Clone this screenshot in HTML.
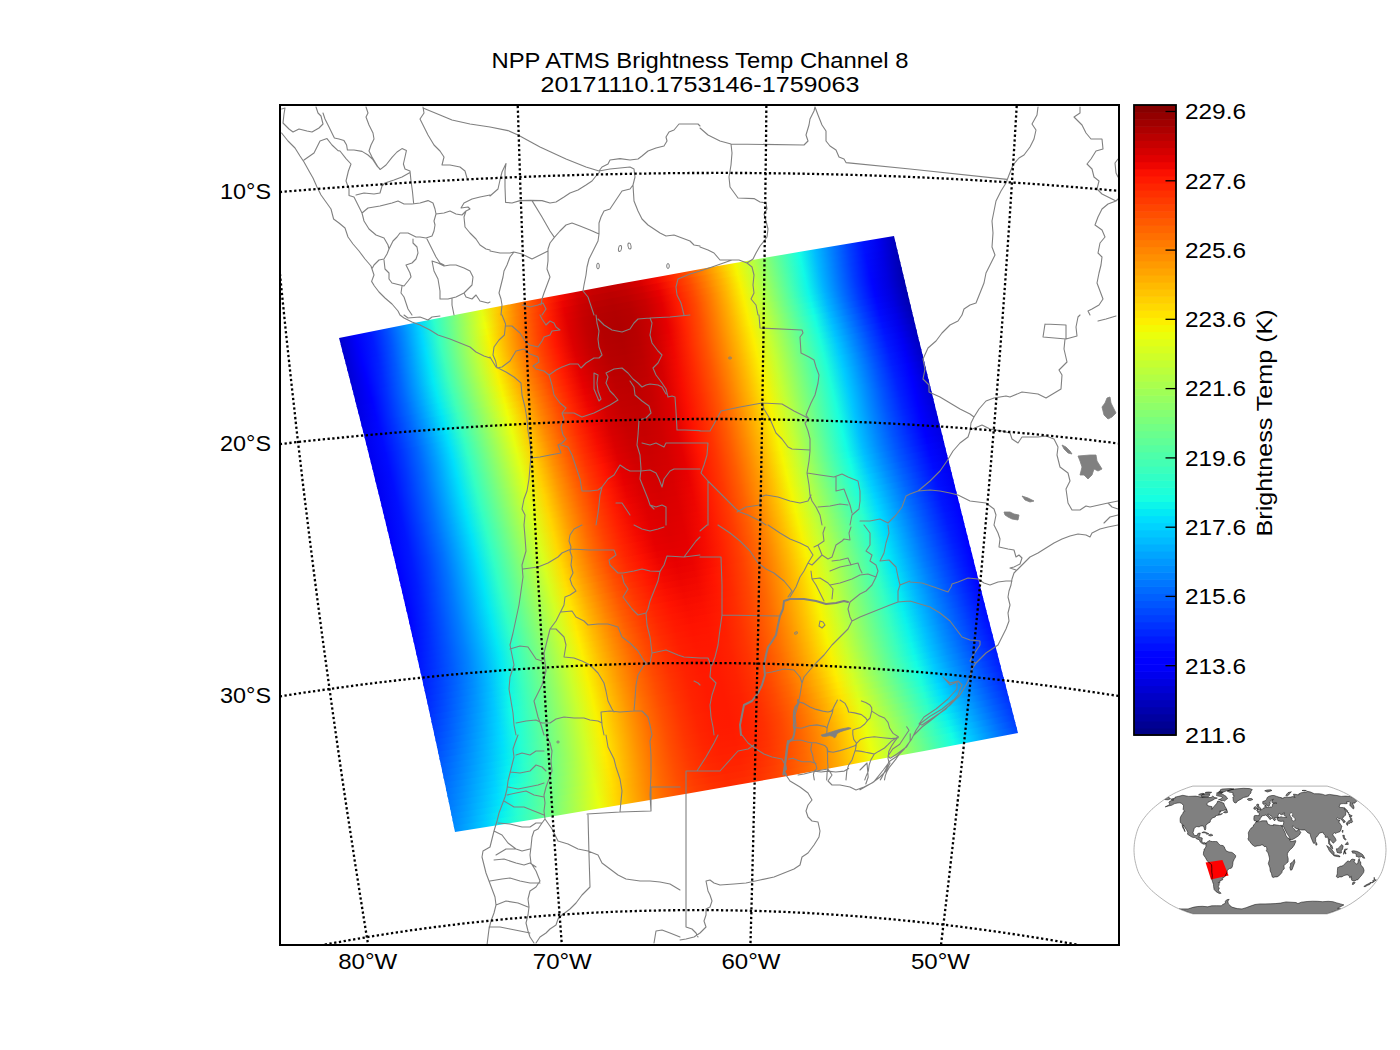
<!DOCTYPE html><html><head><meta charset="utf-8"><style>html,body{margin:0;padding:0;background:#fff;}svg{display:block}</style></head><body><svg width="1400" height="1050" viewBox="0 0 1400 1050"><defs><clipPath id="mc"><rect x="280" y="105" width="839" height="840"/></clipPath><linearGradient id="g0" gradientUnits="userSpaceOnUse" x1="339.8" y1="341.1" x2="894.7" y2="239.1"><stop offset="0.000" stop-color="#0000ce"/><stop offset="0.029" stop-color="#0000fa"/><stop offset="0.057" stop-color="#0018ff"/><stop offset="0.086" stop-color="#004eff"/><stop offset="0.114" stop-color="#008cff"/><stop offset="0.143" stop-color="#00d0ff"/><stop offset="0.171" stop-color="#2bffcc"/><stop offset="0.200" stop-color="#69ff8e"/><stop offset="0.229" stop-color="#a8ff4f"/><stop offset="0.257" stop-color="#e4ff12"/><stop offset="0.286" stop-color="#ffc900"/><stop offset="0.314" stop-color="#ff8d00"/><stop offset="0.343" stop-color="#ff5800"/><stop offset="0.371" stop-color="#ff2b00"/><stop offset="0.400" stop-color="#f20900"/><stop offset="0.429" stop-color="#d70000"/><stop offset="0.457" stop-color="#c70000"/><stop offset="0.486" stop-color="#c20000"/><stop offset="0.514" stop-color="#c80000"/><stop offset="0.543" stop-color="#d80000"/><stop offset="0.571" stop-color="#f30900"/><stop offset="0.600" stop-color="#ff2900"/><stop offset="0.629" stop-color="#ff5300"/><stop offset="0.657" stop-color="#ff8400"/><stop offset="0.686" stop-color="#ffbc00"/><stop offset="0.714" stop-color="#f5f802"/><stop offset="0.743" stop-color="#beff39"/><stop offset="0.771" stop-color="#85ff72"/><stop offset="0.800" stop-color="#4cffab"/><stop offset="0.829" stop-color="#15ffe2"/><stop offset="0.857" stop-color="#00beff"/><stop offset="0.886" stop-color="#0081ff"/><stop offset="0.914" stop-color="#0048ff"/><stop offset="0.943" stop-color="#0013ff"/><stop offset="0.971" stop-color="#0000ef"/><stop offset="1.000" stop-color="#0000bc"/></linearGradient><linearGradient id="g1" gradientUnits="userSpaceOnUse" x1="341.4" y1="347.3" x2="896.2" y2="245.3"><stop offset="0.000" stop-color="#0000cf"/><stop offset="0.029" stop-color="#0000fb"/><stop offset="0.057" stop-color="#0019ff"/><stop offset="0.086" stop-color="#004fff"/><stop offset="0.114" stop-color="#008dff"/><stop offset="0.143" stop-color="#00d3ff"/><stop offset="0.171" stop-color="#2effc9"/><stop offset="0.200" stop-color="#6dff8a"/><stop offset="0.229" stop-color="#acff4b"/><stop offset="0.257" stop-color="#e9ff0e"/><stop offset="0.286" stop-color="#ffc300"/><stop offset="0.314" stop-color="#ff8700"/><stop offset="0.343" stop-color="#ff5200"/><stop offset="0.371" stop-color="#ff2600"/><stop offset="0.400" stop-color="#ec0300"/><stop offset="0.429" stop-color="#d00000"/><stop offset="0.457" stop-color="#c10000"/><stop offset="0.486" stop-color="#bc0000"/><stop offset="0.514" stop-color="#c10000"/><stop offset="0.543" stop-color="#d10000"/><stop offset="0.571" stop-color="#ed0400"/><stop offset="0.600" stop-color="#ff2400"/><stop offset="0.629" stop-color="#ff4e00"/><stop offset="0.657" stop-color="#ff8000"/><stop offset="0.686" stop-color="#ffb900"/><stop offset="0.714" stop-color="#f7f600"/><stop offset="0.743" stop-color="#bfff38"/><stop offset="0.771" stop-color="#85ff72"/><stop offset="0.800" stop-color="#4bffac"/><stop offset="0.829" stop-color="#13fde4"/><stop offset="0.857" stop-color="#00bbff"/><stop offset="0.886" stop-color="#007eff"/><stop offset="0.914" stop-color="#0044ff"/><stop offset="0.943" stop-color="#0010ff"/><stop offset="0.971" stop-color="#0000ec"/><stop offset="1.000" stop-color="#0000b9"/></linearGradient><linearGradient id="g2" gradientUnits="userSpaceOnUse" x1="343.0" y1="353.4" x2="897.7" y2="251.5"><stop offset="0.000" stop-color="#0000cf"/><stop offset="0.029" stop-color="#0000fc"/><stop offset="0.057" stop-color="#001bff"/><stop offset="0.086" stop-color="#0051ff"/><stop offset="0.114" stop-color="#0090ff"/><stop offset="0.143" stop-color="#00d7ff"/><stop offset="0.171" stop-color="#31ffc5"/><stop offset="0.200" stop-color="#71ff86"/><stop offset="0.229" stop-color="#b1ff46"/><stop offset="0.257" stop-color="#eeff09"/><stop offset="0.286" stop-color="#ffbe00"/><stop offset="0.314" stop-color="#ff8200"/><stop offset="0.343" stop-color="#ff4d00"/><stop offset="0.371" stop-color="#ff2100"/><stop offset="0.400" stop-color="#e70000"/><stop offset="0.429" stop-color="#cb0000"/><stop offset="0.457" stop-color="#bc0000"/><stop offset="0.486" stop-color="#b70000"/><stop offset="0.514" stop-color="#bd0000"/><stop offset="0.543" stop-color="#cd0000"/><stop offset="0.571" stop-color="#e80000"/><stop offset="0.600" stop-color="#ff2100"/><stop offset="0.629" stop-color="#ff4b00"/><stop offset="0.657" stop-color="#ff7e00"/><stop offset="0.686" stop-color="#ffb600"/><stop offset="0.714" stop-color="#f8f400"/><stop offset="0.743" stop-color="#bfff37"/><stop offset="0.771" stop-color="#85ff72"/><stop offset="0.800" stop-color="#4affac"/><stop offset="0.829" stop-color="#12fbe5"/><stop offset="0.857" stop-color="#00b9ff"/><stop offset="0.886" stop-color="#007bff"/><stop offset="0.914" stop-color="#0041ff"/><stop offset="0.943" stop-color="#000dff"/><stop offset="0.971" stop-color="#0000e8"/><stop offset="1.000" stop-color="#0000b6"/></linearGradient><linearGradient id="g3" gradientUnits="userSpaceOnUse" x1="344.7" y1="359.6" x2="899.2" y2="257.7"><stop offset="0.000" stop-color="#0000d0"/><stop offset="0.029" stop-color="#0000fe"/><stop offset="0.057" stop-color="#001dff"/><stop offset="0.086" stop-color="#0054ff"/><stop offset="0.114" stop-color="#0093ff"/><stop offset="0.143" stop-color="#00daff"/><stop offset="0.171" stop-color="#35ffc2"/><stop offset="0.200" stop-color="#75ff82"/><stop offset="0.229" stop-color="#b5ff42"/><stop offset="0.257" stop-color="#f2fb05"/><stop offset="0.286" stop-color="#ffb900"/><stop offset="0.314" stop-color="#ff7e00"/><stop offset="0.343" stop-color="#ff4900"/><stop offset="0.371" stop-color="#ff1d00"/><stop offset="0.400" stop-color="#e30000"/><stop offset="0.429" stop-color="#c80000"/><stop offset="0.457" stop-color="#b80000"/><stop offset="0.486" stop-color="#b40000"/><stop offset="0.514" stop-color="#b90000"/><stop offset="0.543" stop-color="#c90000"/><stop offset="0.571" stop-color="#e50000"/><stop offset="0.600" stop-color="#ff1e00"/><stop offset="0.629" stop-color="#ff4900"/><stop offset="0.657" stop-color="#ff7c00"/><stop offset="0.686" stop-color="#ffb500"/><stop offset="0.714" stop-color="#f9f300"/><stop offset="0.743" stop-color="#c0ff37"/><stop offset="0.771" stop-color="#85ff72"/><stop offset="0.800" stop-color="#4affad"/><stop offset="0.829" stop-color="#10fae7"/><stop offset="0.857" stop-color="#00b6ff"/><stop offset="0.886" stop-color="#0078ff"/><stop offset="0.914" stop-color="#003eff"/><stop offset="0.943" stop-color="#000aff"/><stop offset="0.971" stop-color="#0000e5"/><stop offset="1.000" stop-color="#0000b3"/></linearGradient><linearGradient id="g4" gradientUnits="userSpaceOnUse" x1="346.3" y1="365.8" x2="900.7" y2="264.0"><stop offset="0.000" stop-color="#0000d1"/><stop offset="0.029" stop-color="#0000ff"/><stop offset="0.057" stop-color="#0020ff"/><stop offset="0.086" stop-color="#0057ff"/><stop offset="0.114" stop-color="#0096ff"/><stop offset="0.143" stop-color="#00defd"/><stop offset="0.171" stop-color="#38ffbf"/><stop offset="0.200" stop-color="#78ff7e"/><stop offset="0.229" stop-color="#b8ff3e"/><stop offset="0.257" stop-color="#f6f701"/><stop offset="0.286" stop-color="#ffb500"/><stop offset="0.314" stop-color="#ff7a00"/><stop offset="0.343" stop-color="#ff4600"/><stop offset="0.371" stop-color="#ff1a00"/><stop offset="0.400" stop-color="#e00000"/><stop offset="0.429" stop-color="#c50000"/><stop offset="0.457" stop-color="#b60000"/><stop offset="0.486" stop-color="#b20000"/><stop offset="0.514" stop-color="#b70000"/><stop offset="0.543" stop-color="#c80000"/><stop offset="0.571" stop-color="#e30000"/><stop offset="0.600" stop-color="#ff1d00"/><stop offset="0.629" stop-color="#ff4800"/><stop offset="0.657" stop-color="#ff7b00"/><stop offset="0.686" stop-color="#ffb400"/><stop offset="0.714" stop-color="#faf200"/><stop offset="0.743" stop-color="#c1ff36"/><stop offset="0.771" stop-color="#85ff71"/><stop offset="0.800" stop-color="#49ffae"/><stop offset="0.829" stop-color="#0ff8e8"/><stop offset="0.857" stop-color="#00b4ff"/><stop offset="0.886" stop-color="#0076ff"/><stop offset="0.914" stop-color="#003cff"/><stop offset="0.943" stop-color="#0008ff"/><stop offset="0.971" stop-color="#0000e3"/><stop offset="1.000" stop-color="#0000b1"/></linearGradient><linearGradient id="g5" gradientUnits="userSpaceOnUse" x1="347.9" y1="372.0" x2="902.1" y2="270.2"><stop offset="0.000" stop-color="#0000d3"/><stop offset="0.029" stop-color="#0000ff"/><stop offset="0.057" stop-color="#0023ff"/><stop offset="0.086" stop-color="#005aff"/><stop offset="0.114" stop-color="#009aff"/><stop offset="0.143" stop-color="#00e1fa"/><stop offset="0.171" stop-color="#3bffbc"/><stop offset="0.200" stop-color="#7bff7c"/><stop offset="0.229" stop-color="#bbff3c"/><stop offset="0.257" stop-color="#f8f400"/><stop offset="0.286" stop-color="#ffb200"/><stop offset="0.314" stop-color="#ff7700"/><stop offset="0.343" stop-color="#ff4300"/><stop offset="0.371" stop-color="#ff1800"/><stop offset="0.400" stop-color="#de0000"/><stop offset="0.429" stop-color="#c40000"/><stop offset="0.457" stop-color="#b50000"/><stop offset="0.486" stop-color="#b10000"/><stop offset="0.514" stop-color="#b60000"/><stop offset="0.543" stop-color="#c70000"/><stop offset="0.571" stop-color="#e40000"/><stop offset="0.600" stop-color="#ff1e00"/><stop offset="0.629" stop-color="#ff4800"/><stop offset="0.657" stop-color="#ff7b00"/><stop offset="0.686" stop-color="#ffb400"/><stop offset="0.714" stop-color="#faf100"/><stop offset="0.743" stop-color="#c1ff35"/><stop offset="0.771" stop-color="#86ff71"/><stop offset="0.800" stop-color="#49ffae"/><stop offset="0.829" stop-color="#0ef7e9"/><stop offset="0.857" stop-color="#00b3ff"/><stop offset="0.886" stop-color="#0074ff"/><stop offset="0.914" stop-color="#003aff"/><stop offset="0.943" stop-color="#0006ff"/><stop offset="0.971" stop-color="#0000e1"/><stop offset="1.000" stop-color="#0000af"/></linearGradient><linearGradient id="g6" gradientUnits="userSpaceOnUse" x1="349.5" y1="378.1" x2="903.6" y2="276.4"><stop offset="0.000" stop-color="#0000d5"/><stop offset="0.029" stop-color="#0000ff"/><stop offset="0.057" stop-color="#0026ff"/><stop offset="0.086" stop-color="#005dff"/><stop offset="0.114" stop-color="#009dff"/><stop offset="0.143" stop-color="#00e4f8"/><stop offset="0.171" stop-color="#3dffba"/><stop offset="0.200" stop-color="#7dff7a"/><stop offset="0.229" stop-color="#bdff3a"/><stop offset="0.257" stop-color="#faf200"/><stop offset="0.286" stop-color="#ffb000"/><stop offset="0.314" stop-color="#ff7500"/><stop offset="0.343" stop-color="#ff4100"/><stop offset="0.371" stop-color="#ff1700"/><stop offset="0.400" stop-color="#dd0000"/><stop offset="0.429" stop-color="#c30000"/><stop offset="0.457" stop-color="#b40000"/><stop offset="0.486" stop-color="#b00000"/><stop offset="0.514" stop-color="#b70000"/><stop offset="0.543" stop-color="#c80000"/><stop offset="0.571" stop-color="#e50000"/><stop offset="0.600" stop-color="#ff1f00"/><stop offset="0.629" stop-color="#ff4a00"/><stop offset="0.657" stop-color="#ff7c00"/><stop offset="0.686" stop-color="#ffb400"/><stop offset="0.714" stop-color="#fbf100"/><stop offset="0.743" stop-color="#c2ff35"/><stop offset="0.771" stop-color="#86ff70"/><stop offset="0.800" stop-color="#49ffad"/><stop offset="0.829" stop-color="#0ef7e9"/><stop offset="0.857" stop-color="#00b2ff"/><stop offset="0.886" stop-color="#0073ff"/><stop offset="0.914" stop-color="#0039ff"/><stop offset="0.943" stop-color="#0004ff"/><stop offset="0.971" stop-color="#0000df"/><stop offset="1.000" stop-color="#0000ad"/></linearGradient><linearGradient id="g7" gradientUnits="userSpaceOnUse" x1="351.1" y1="384.3" x2="905.1" y2="282.6"><stop offset="0.000" stop-color="#0000d8"/><stop offset="0.029" stop-color="#0000ff"/><stop offset="0.057" stop-color="#0029ff"/><stop offset="0.086" stop-color="#0060ff"/><stop offset="0.114" stop-color="#00a0ff"/><stop offset="0.143" stop-color="#01e6f6"/><stop offset="0.171" stop-color="#3effb8"/><stop offset="0.200" stop-color="#7eff79"/><stop offset="0.229" stop-color="#beff39"/><stop offset="0.257" stop-color="#fbf100"/><stop offset="0.286" stop-color="#ffaf00"/><stop offset="0.314" stop-color="#ff7400"/><stop offset="0.343" stop-color="#ff4100"/><stop offset="0.371" stop-color="#ff1600"/><stop offset="0.400" stop-color="#dd0000"/><stop offset="0.429" stop-color="#c30000"/><stop offset="0.457" stop-color="#b40000"/><stop offset="0.486" stop-color="#b10000"/><stop offset="0.514" stop-color="#b70000"/><stop offset="0.543" stop-color="#c90000"/><stop offset="0.571" stop-color="#e60000"/><stop offset="0.600" stop-color="#ff2100"/><stop offset="0.629" stop-color="#ff4b00"/><stop offset="0.657" stop-color="#ff7d00"/><stop offset="0.686" stop-color="#ffb500"/><stop offset="0.714" stop-color="#fbf100"/><stop offset="0.743" stop-color="#c3ff34"/><stop offset="0.771" stop-color="#88ff6f"/><stop offset="0.800" stop-color="#4bffac"/><stop offset="0.829" stop-color="#0ff8e8"/><stop offset="0.857" stop-color="#00b3ff"/><stop offset="0.886" stop-color="#0073ff"/><stop offset="0.914" stop-color="#0039ff"/><stop offset="0.943" stop-color="#0004ff"/><stop offset="0.971" stop-color="#0000de"/><stop offset="1.000" stop-color="#0000ad"/></linearGradient><linearGradient id="g8" gradientUnits="userSpaceOnUse" x1="352.7" y1="390.5" x2="906.6" y2="288.8"><stop offset="0.000" stop-color="#0000da"/><stop offset="0.029" stop-color="#0000ff"/><stop offset="0.057" stop-color="#002bff"/><stop offset="0.086" stop-color="#0063ff"/><stop offset="0.114" stop-color="#00a2ff"/><stop offset="0.143" stop-color="#02e8f5"/><stop offset="0.171" stop-color="#3fffb7"/><stop offset="0.200" stop-color="#7fff78"/><stop offset="0.229" stop-color="#beff39"/><stop offset="0.257" stop-color="#fbf000"/><stop offset="0.286" stop-color="#ffaf00"/><stop offset="0.314" stop-color="#ff7400"/><stop offset="0.343" stop-color="#ff4100"/><stop offset="0.371" stop-color="#ff1700"/><stop offset="0.400" stop-color="#dd0000"/><stop offset="0.429" stop-color="#c30000"/><stop offset="0.457" stop-color="#b50000"/><stop offset="0.486" stop-color="#b10000"/><stop offset="0.514" stop-color="#b80000"/><stop offset="0.543" stop-color="#ca0000"/><stop offset="0.571" stop-color="#e80000"/><stop offset="0.600" stop-color="#ff2200"/><stop offset="0.629" stop-color="#ff4d00"/><stop offset="0.657" stop-color="#ff7f00"/><stop offset="0.686" stop-color="#ffb500"/><stop offset="0.714" stop-color="#fbf100"/><stop offset="0.743" stop-color="#c4ff33"/><stop offset="0.771" stop-color="#89ff6e"/><stop offset="0.800" stop-color="#4dffaa"/><stop offset="0.829" stop-color="#11fae6"/><stop offset="0.857" stop-color="#00b5ff"/><stop offset="0.886" stop-color="#0074ff"/><stop offset="0.914" stop-color="#0039ff"/><stop offset="0.943" stop-color="#0004ff"/><stop offset="0.971" stop-color="#0000df"/><stop offset="1.000" stop-color="#0000ad"/></linearGradient><linearGradient id="g9" gradientUnits="userSpaceOnUse" x1="354.2" y1="396.7" x2="908.1" y2="295.0"><stop offset="0.000" stop-color="#0000dd"/><stop offset="0.029" stop-color="#0000ff"/><stop offset="0.057" stop-color="#002eff"/><stop offset="0.086" stop-color="#0065ff"/><stop offset="0.114" stop-color="#00a4ff"/><stop offset="0.143" stop-color="#03eaf4"/><stop offset="0.171" stop-color="#40ffb7"/><stop offset="0.200" stop-color="#7fff78"/><stop offset="0.229" stop-color="#beff39"/><stop offset="0.257" stop-color="#fbf100"/><stop offset="0.286" stop-color="#ffb000"/><stop offset="0.314" stop-color="#ff7500"/><stop offset="0.343" stop-color="#ff4200"/><stop offset="0.371" stop-color="#ff1800"/><stop offset="0.400" stop-color="#de0000"/><stop offset="0.429" stop-color="#c40000"/><stop offset="0.457" stop-color="#b60000"/><stop offset="0.486" stop-color="#b20000"/><stop offset="0.514" stop-color="#b90000"/><stop offset="0.543" stop-color="#cc0000"/><stop offset="0.571" stop-color="#ea0200"/><stop offset="0.600" stop-color="#ff2400"/><stop offset="0.629" stop-color="#ff4f00"/><stop offset="0.657" stop-color="#ff8000"/><stop offset="0.686" stop-color="#ffb600"/><stop offset="0.714" stop-color="#fbf100"/><stop offset="0.743" stop-color="#c5ff32"/><stop offset="0.771" stop-color="#8bff6c"/><stop offset="0.800" stop-color="#4fffa8"/><stop offset="0.829" stop-color="#13fde4"/><stop offset="0.857" stop-color="#00b7ff"/><stop offset="0.886" stop-color="#0076ff"/><stop offset="0.914" stop-color="#003bff"/><stop offset="0.943" stop-color="#0006ff"/><stop offset="0.971" stop-color="#0000e0"/><stop offset="1.000" stop-color="#0000ae"/></linearGradient><linearGradient id="g10" gradientUnits="userSpaceOnUse" x1="355.8" y1="402.8" x2="909.6" y2="301.2"><stop offset="0.000" stop-color="#0000df"/><stop offset="0.029" stop-color="#0000ff"/><stop offset="0.057" stop-color="#0030ff"/><stop offset="0.086" stop-color="#0067ff"/><stop offset="0.114" stop-color="#00a5ff"/><stop offset="0.143" stop-color="#04eaf3"/><stop offset="0.171" stop-color="#40ffb7"/><stop offset="0.200" stop-color="#7fff78"/><stop offset="0.229" stop-color="#bdff39"/><stop offset="0.257" stop-color="#faf200"/><stop offset="0.286" stop-color="#ffb100"/><stop offset="0.314" stop-color="#ff7600"/><stop offset="0.343" stop-color="#ff4300"/><stop offset="0.371" stop-color="#ff1900"/><stop offset="0.400" stop-color="#e00000"/><stop offset="0.429" stop-color="#c50000"/><stop offset="0.457" stop-color="#b70000"/><stop offset="0.486" stop-color="#b30000"/><stop offset="0.514" stop-color="#bb0000"/><stop offset="0.543" stop-color="#ce0000"/><stop offset="0.571" stop-color="#ed0400"/><stop offset="0.600" stop-color="#ff2600"/><stop offset="0.629" stop-color="#ff5100"/><stop offset="0.657" stop-color="#ff8100"/><stop offset="0.686" stop-color="#ffb700"/><stop offset="0.714" stop-color="#fbf000"/><stop offset="0.743" stop-color="#c6ff31"/><stop offset="0.771" stop-color="#8cff6a"/><stop offset="0.800" stop-color="#51ffa6"/><stop offset="0.829" stop-color="#16ffe1"/><stop offset="0.857" stop-color="#00baff"/><stop offset="0.886" stop-color="#0079ff"/><stop offset="0.914" stop-color="#003eff"/><stop offset="0.943" stop-color="#0008ff"/><stop offset="0.971" stop-color="#0000e2"/><stop offset="1.000" stop-color="#0000af"/></linearGradient><linearGradient id="g11" gradientUnits="userSpaceOnUse" x1="357.4" y1="409.0" x2="911.1" y2="307.4"><stop offset="0.000" stop-color="#0000e2"/><stop offset="0.029" stop-color="#0002ff"/><stop offset="0.057" stop-color="#0031ff"/><stop offset="0.086" stop-color="#0068ff"/><stop offset="0.114" stop-color="#00a6ff"/><stop offset="0.143" stop-color="#04eaf3"/><stop offset="0.171" stop-color="#40ffb7"/><stop offset="0.200" stop-color="#7eff79"/><stop offset="0.229" stop-color="#bcff3a"/><stop offset="0.257" stop-color="#f9f300"/><stop offset="0.286" stop-color="#ffb200"/><stop offset="0.314" stop-color="#ff7700"/><stop offset="0.343" stop-color="#ff4400"/><stop offset="0.371" stop-color="#ff1b00"/><stop offset="0.400" stop-color="#e10000"/><stop offset="0.429" stop-color="#c70000"/><stop offset="0.457" stop-color="#b80000"/><stop offset="0.486" stop-color="#b50000"/><stop offset="0.514" stop-color="#bc0000"/><stop offset="0.543" stop-color="#d00000"/><stop offset="0.571" stop-color="#ef0600"/><stop offset="0.600" stop-color="#ff2800"/><stop offset="0.629" stop-color="#ff5200"/><stop offset="0.657" stop-color="#ff8200"/><stop offset="0.686" stop-color="#ffb700"/><stop offset="0.714" stop-color="#fbf000"/><stop offset="0.743" stop-color="#c6ff30"/><stop offset="0.771" stop-color="#8eff69"/><stop offset="0.800" stop-color="#53ffa4"/><stop offset="0.829" stop-color="#18ffdf"/><stop offset="0.857" stop-color="#00bdff"/><stop offset="0.886" stop-color="#007dff"/><stop offset="0.914" stop-color="#0041ff"/><stop offset="0.943" stop-color="#000bff"/><stop offset="0.971" stop-color="#0000e5"/><stop offset="1.000" stop-color="#0000b2"/></linearGradient><linearGradient id="g12" gradientUnits="userSpaceOnUse" x1="359.0" y1="415.2" x2="912.6" y2="313.7"><stop offset="0.000" stop-color="#0000e4"/><stop offset="0.029" stop-color="#0004ff"/><stop offset="0.057" stop-color="#0033ff"/><stop offset="0.086" stop-color="#0068ff"/><stop offset="0.114" stop-color="#00a6ff"/><stop offset="0.143" stop-color="#04eaf3"/><stop offset="0.171" stop-color="#3fffb8"/><stop offset="0.200" stop-color="#7dff7a"/><stop offset="0.229" stop-color="#bbff3c"/><stop offset="0.257" stop-color="#f7f500"/><stop offset="0.286" stop-color="#ffb400"/><stop offset="0.314" stop-color="#ff7900"/><stop offset="0.343" stop-color="#ff4600"/><stop offset="0.371" stop-color="#ff1c00"/><stop offset="0.400" stop-color="#e30000"/><stop offset="0.429" stop-color="#c80000"/><stop offset="0.457" stop-color="#ba0000"/><stop offset="0.486" stop-color="#b60000"/><stop offset="0.514" stop-color="#be0000"/><stop offset="0.543" stop-color="#d20000"/><stop offset="0.571" stop-color="#f00700"/><stop offset="0.600" stop-color="#ff2900"/><stop offset="0.629" stop-color="#ff5300"/><stop offset="0.657" stop-color="#ff8300"/><stop offset="0.686" stop-color="#ffb700"/><stop offset="0.714" stop-color="#fcf000"/><stop offset="0.743" stop-color="#c7ff30"/><stop offset="0.771" stop-color="#8fff68"/><stop offset="0.800" stop-color="#55ffa2"/><stop offset="0.829" stop-color="#1affdd"/><stop offset="0.857" stop-color="#00c0ff"/><stop offset="0.886" stop-color="#0080ff"/><stop offset="0.914" stop-color="#0044ff"/><stop offset="0.943" stop-color="#000eff"/><stop offset="0.971" stop-color="#0000e8"/><stop offset="1.000" stop-color="#0000b4"/></linearGradient><linearGradient id="g13" gradientUnits="userSpaceOnUse" x1="360.5" y1="421.4" x2="914.1" y2="319.9"><stop offset="0.000" stop-color="#0000e7"/><stop offset="0.029" stop-color="#0005ff"/><stop offset="0.057" stop-color="#0034ff"/><stop offset="0.086" stop-color="#0069ff"/><stop offset="0.114" stop-color="#00a5ff"/><stop offset="0.143" stop-color="#03e9f4"/><stop offset="0.171" stop-color="#3effb9"/><stop offset="0.200" stop-color="#7cff7b"/><stop offset="0.229" stop-color="#b9ff3d"/><stop offset="0.257" stop-color="#f5f701"/><stop offset="0.286" stop-color="#ffb600"/><stop offset="0.314" stop-color="#ff7b00"/><stop offset="0.343" stop-color="#ff4800"/><stop offset="0.371" stop-color="#ff1e00"/><stop offset="0.400" stop-color="#e50000"/><stop offset="0.429" stop-color="#ca0000"/><stop offset="0.457" stop-color="#bb0000"/><stop offset="0.486" stop-color="#b80000"/><stop offset="0.514" stop-color="#c00000"/><stop offset="0.543" stop-color="#d30000"/><stop offset="0.571" stop-color="#f20900"/><stop offset="0.600" stop-color="#ff2a00"/><stop offset="0.629" stop-color="#ff5400"/><stop offset="0.657" stop-color="#ff8300"/><stop offset="0.686" stop-color="#ffb800"/><stop offset="0.714" stop-color="#fcf000"/><stop offset="0.743" stop-color="#c7ff30"/><stop offset="0.771" stop-color="#90ff67"/><stop offset="0.800" stop-color="#56ffa1"/><stop offset="0.829" stop-color="#1cffdb"/><stop offset="0.857" stop-color="#00c3ff"/><stop offset="0.886" stop-color="#0083ff"/><stop offset="0.914" stop-color="#0048ff"/><stop offset="0.943" stop-color="#0011ff"/><stop offset="0.971" stop-color="#0000eb"/><stop offset="1.000" stop-color="#0000b7"/></linearGradient><linearGradient id="g14" gradientUnits="userSpaceOnUse" x1="362.1" y1="427.5" x2="915.6" y2="326.1"><stop offset="0.000" stop-color="#0000e9"/><stop offset="0.029" stop-color="#0007ff"/><stop offset="0.057" stop-color="#0034ff"/><stop offset="0.086" stop-color="#0068ff"/><stop offset="0.114" stop-color="#00a5ff"/><stop offset="0.143" stop-color="#02e8f5"/><stop offset="0.171" stop-color="#3dffba"/><stop offset="0.200" stop-color="#7aff7d"/><stop offset="0.229" stop-color="#b8ff3f"/><stop offset="0.257" stop-color="#f4f903"/><stop offset="0.286" stop-color="#ffb800"/><stop offset="0.314" stop-color="#ff7e00"/><stop offset="0.343" stop-color="#ff4a00"/><stop offset="0.371" stop-color="#ff2000"/><stop offset="0.400" stop-color="#e70000"/><stop offset="0.429" stop-color="#cc0000"/><stop offset="0.457" stop-color="#bd0000"/><stop offset="0.486" stop-color="#b90000"/><stop offset="0.514" stop-color="#c10000"/><stop offset="0.543" stop-color="#d50000"/><stop offset="0.571" stop-color="#f40a00"/><stop offset="0.600" stop-color="#ff2b00"/><stop offset="0.629" stop-color="#ff5400"/><stop offset="0.657" stop-color="#ff8400"/><stop offset="0.686" stop-color="#ffb800"/><stop offset="0.714" stop-color="#fbf000"/><stop offset="0.743" stop-color="#c7ff30"/><stop offset="0.771" stop-color="#90ff67"/><stop offset="0.800" stop-color="#57ffa0"/><stop offset="0.829" stop-color="#1effd9"/><stop offset="0.857" stop-color="#00c6ff"/><stop offset="0.886" stop-color="#0086ff"/><stop offset="0.914" stop-color="#004bff"/><stop offset="0.943" stop-color="#0014ff"/><stop offset="0.971" stop-color="#0000ee"/><stop offset="1.000" stop-color="#0000ba"/></linearGradient><linearGradient id="g15" gradientUnits="userSpaceOnUse" x1="363.7" y1="433.7" x2="917.1" y2="332.3"><stop offset="0.000" stop-color="#0000eb"/><stop offset="0.029" stop-color="#0008ff"/><stop offset="0.057" stop-color="#0034ff"/><stop offset="0.086" stop-color="#0068ff"/><stop offset="0.114" stop-color="#00a3ff"/><stop offset="0.143" stop-color="#01e6f6"/><stop offset="0.171" stop-color="#3bffbc"/><stop offset="0.200" stop-color="#78ff7e"/><stop offset="0.229" stop-color="#b6ff41"/><stop offset="0.257" stop-color="#f2fb05"/><stop offset="0.286" stop-color="#ffbb00"/><stop offset="0.314" stop-color="#ff8000"/><stop offset="0.343" stop-color="#ff4d00"/><stop offset="0.371" stop-color="#ff2200"/><stop offset="0.400" stop-color="#e90100"/><stop offset="0.429" stop-color="#ce0000"/><stop offset="0.457" stop-color="#be0000"/><stop offset="0.486" stop-color="#bb0000"/><stop offset="0.514" stop-color="#c30000"/><stop offset="0.543" stop-color="#d70000"/><stop offset="0.571" stop-color="#f50b00"/><stop offset="0.600" stop-color="#ff2c00"/><stop offset="0.629" stop-color="#ff5500"/><stop offset="0.657" stop-color="#ff8400"/><stop offset="0.686" stop-color="#ffb800"/><stop offset="0.714" stop-color="#fbf000"/><stop offset="0.743" stop-color="#c7ff30"/><stop offset="0.771" stop-color="#90ff67"/><stop offset="0.800" stop-color="#57ff9f"/><stop offset="0.829" stop-color="#1fffd8"/><stop offset="0.857" stop-color="#00c8ff"/><stop offset="0.886" stop-color="#0088ff"/><stop offset="0.914" stop-color="#004dff"/><stop offset="0.943" stop-color="#0017ff"/><stop offset="0.971" stop-color="#0000f1"/><stop offset="1.000" stop-color="#0000bd"/></linearGradient><linearGradient id="g16" gradientUnits="userSpaceOnUse" x1="365.2" y1="439.9" x2="918.6" y2="338.5"><stop offset="0.000" stop-color="#0000ed"/><stop offset="0.029" stop-color="#0009ff"/><stop offset="0.057" stop-color="#0034ff"/><stop offset="0.086" stop-color="#0067ff"/><stop offset="0.114" stop-color="#00a2ff"/><stop offset="0.143" stop-color="#00e5f7"/><stop offset="0.171" stop-color="#3affbd"/><stop offset="0.200" stop-color="#77ff80"/><stop offset="0.229" stop-color="#b4ff43"/><stop offset="0.257" stop-color="#f0fe07"/><stop offset="0.286" stop-color="#ffbd00"/><stop offset="0.314" stop-color="#ff8200"/><stop offset="0.343" stop-color="#ff4f00"/><stop offset="0.371" stop-color="#ff2400"/><stop offset="0.400" stop-color="#eb0300"/><stop offset="0.429" stop-color="#cf0000"/><stop offset="0.457" stop-color="#c00000"/><stop offset="0.486" stop-color="#bc0000"/><stop offset="0.514" stop-color="#c50000"/><stop offset="0.543" stop-color="#d80000"/><stop offset="0.571" stop-color="#f70c00"/><stop offset="0.600" stop-color="#ff2d00"/><stop offset="0.629" stop-color="#ff5600"/><stop offset="0.657" stop-color="#ff8400"/><stop offset="0.686" stop-color="#ffb800"/><stop offset="0.714" stop-color="#fbf100"/><stop offset="0.743" stop-color="#c7ff30"/><stop offset="0.771" stop-color="#90ff67"/><stop offset="0.800" stop-color="#58ff9f"/><stop offset="0.829" stop-color="#20ffd7"/><stop offset="0.857" stop-color="#00c9ff"/><stop offset="0.886" stop-color="#008aff"/><stop offset="0.914" stop-color="#004fff"/><stop offset="0.943" stop-color="#0019ff"/><stop offset="0.971" stop-color="#0000f4"/><stop offset="1.000" stop-color="#0000bf"/></linearGradient><linearGradient id="g17" gradientUnits="userSpaceOnUse" x1="366.8" y1="446.1" x2="920.1" y2="344.7"><stop offset="0.000" stop-color="#0000ef"/><stop offset="0.029" stop-color="#000aff"/><stop offset="0.057" stop-color="#0034ff"/><stop offset="0.086" stop-color="#0066ff"/><stop offset="0.114" stop-color="#00a1ff"/><stop offset="0.143" stop-color="#00e3f9"/><stop offset="0.171" stop-color="#38ffbf"/><stop offset="0.200" stop-color="#75ff82"/><stop offset="0.229" stop-color="#b2ff45"/><stop offset="0.257" stop-color="#eeff09"/><stop offset="0.286" stop-color="#ffbf00"/><stop offset="0.314" stop-color="#ff8400"/><stop offset="0.343" stop-color="#ff5100"/><stop offset="0.371" stop-color="#ff2600"/><stop offset="0.400" stop-color="#ed0400"/><stop offset="0.429" stop-color="#d10000"/><stop offset="0.457" stop-color="#c10000"/><stop offset="0.486" stop-color="#be0000"/><stop offset="0.514" stop-color="#c60000"/><stop offset="0.543" stop-color="#da0000"/><stop offset="0.571" stop-color="#f80d00"/><stop offset="0.600" stop-color="#ff2e00"/><stop offset="0.629" stop-color="#ff5600"/><stop offset="0.657" stop-color="#ff8500"/><stop offset="0.686" stop-color="#ffb900"/><stop offset="0.714" stop-color="#fbf100"/><stop offset="0.743" stop-color="#c6ff31"/><stop offset="0.771" stop-color="#90ff67"/><stop offset="0.800" stop-color="#58ff9f"/><stop offset="0.829" stop-color="#20ffd7"/><stop offset="0.857" stop-color="#00cbff"/><stop offset="0.886" stop-color="#008cff"/><stop offset="0.914" stop-color="#0051ff"/><stop offset="0.943" stop-color="#001bff"/><stop offset="0.971" stop-color="#0000f6"/><stop offset="1.000" stop-color="#0000c2"/></linearGradient><linearGradient id="g18" gradientUnits="userSpaceOnUse" x1="368.3" y1="452.2" x2="921.6" y2="350.9"><stop offset="0.000" stop-color="#0000f0"/><stop offset="0.029" stop-color="#000aff"/><stop offset="0.057" stop-color="#0034ff"/><stop offset="0.086" stop-color="#0065ff"/><stop offset="0.114" stop-color="#009fff"/><stop offset="0.143" stop-color="#00e1fa"/><stop offset="0.171" stop-color="#37ffc0"/><stop offset="0.200" stop-color="#73ff84"/><stop offset="0.229" stop-color="#b0ff46"/><stop offset="0.257" stop-color="#ecff0b"/><stop offset="0.286" stop-color="#ffc100"/><stop offset="0.314" stop-color="#ff8600"/><stop offset="0.343" stop-color="#ff5200"/><stop offset="0.371" stop-color="#ff2700"/><stop offset="0.400" stop-color="#ef0600"/><stop offset="0.429" stop-color="#d30000"/><stop offset="0.457" stop-color="#c30000"/><stop offset="0.486" stop-color="#bf0000"/><stop offset="0.514" stop-color="#c70000"/><stop offset="0.543" stop-color="#db0000"/><stop offset="0.571" stop-color="#f90e00"/><stop offset="0.600" stop-color="#ff2f00"/><stop offset="0.629" stop-color="#ff5700"/><stop offset="0.657" stop-color="#ff8500"/><stop offset="0.686" stop-color="#ffb900"/><stop offset="0.714" stop-color="#faf200"/><stop offset="0.743" stop-color="#c6ff31"/><stop offset="0.771" stop-color="#8fff68"/><stop offset="0.800" stop-color="#57ff9f"/><stop offset="0.829" stop-color="#20ffd7"/><stop offset="0.857" stop-color="#00cbff"/><stop offset="0.886" stop-color="#008dff"/><stop offset="0.914" stop-color="#0053ff"/><stop offset="0.943" stop-color="#001dff"/><stop offset="0.971" stop-color="#0000f9"/><stop offset="1.000" stop-color="#0000c4"/></linearGradient><linearGradient id="g19" gradientUnits="userSpaceOnUse" x1="369.9" y1="458.4" x2="923.1" y2="357.1"><stop offset="0.000" stop-color="#0000f1"/><stop offset="0.029" stop-color="#000aff"/><stop offset="0.057" stop-color="#0033ff"/><stop offset="0.086" stop-color="#0064ff"/><stop offset="0.114" stop-color="#009eff"/><stop offset="0.143" stop-color="#00e0fb"/><stop offset="0.171" stop-color="#35ffc2"/><stop offset="0.200" stop-color="#72ff85"/><stop offset="0.229" stop-color="#afff48"/><stop offset="0.257" stop-color="#eaff0d"/><stop offset="0.286" stop-color="#ffc400"/><stop offset="0.314" stop-color="#ff8800"/><stop offset="0.343" stop-color="#ff5400"/><stop offset="0.371" stop-color="#ff2900"/><stop offset="0.400" stop-color="#f10700"/><stop offset="0.429" stop-color="#d40000"/><stop offset="0.457" stop-color="#c40000"/><stop offset="0.486" stop-color="#c10000"/><stop offset="0.514" stop-color="#c90000"/><stop offset="0.543" stop-color="#dc0000"/><stop offset="0.571" stop-color="#fa0f00"/><stop offset="0.600" stop-color="#ff2f00"/><stop offset="0.629" stop-color="#ff5700"/><stop offset="0.657" stop-color="#ff8600"/><stop offset="0.686" stop-color="#ffba00"/><stop offset="0.714" stop-color="#faf200"/><stop offset="0.743" stop-color="#c5ff31"/><stop offset="0.771" stop-color="#8fff68"/><stop offset="0.800" stop-color="#57ffa0"/><stop offset="0.829" stop-color="#20ffd7"/><stop offset="0.857" stop-color="#00ccff"/><stop offset="0.886" stop-color="#008eff"/><stop offset="0.914" stop-color="#0054ff"/><stop offset="0.943" stop-color="#001eff"/><stop offset="0.971" stop-color="#0000fb"/><stop offset="1.000" stop-color="#0000c6"/></linearGradient><linearGradient id="g20" gradientUnits="userSpaceOnUse" x1="371.4" y1="464.6" x2="924.6" y2="363.4"><stop offset="0.000" stop-color="#0000f1"/><stop offset="0.029" stop-color="#000bff"/><stop offset="0.057" stop-color="#0034ff"/><stop offset="0.086" stop-color="#0065ff"/><stop offset="0.114" stop-color="#009eff"/><stop offset="0.143" stop-color="#00dffc"/><stop offset="0.171" stop-color="#34ffc3"/><stop offset="0.200" stop-color="#70ff86"/><stop offset="0.229" stop-color="#adff4a"/><stop offset="0.257" stop-color="#e8ff0e"/><stop offset="0.286" stop-color="#ffc600"/><stop offset="0.314" stop-color="#ff8a00"/><stop offset="0.343" stop-color="#ff5600"/><stop offset="0.371" stop-color="#ff2a00"/><stop offset="0.400" stop-color="#f20800"/><stop offset="0.429" stop-color="#d60000"/><stop offset="0.457" stop-color="#c60000"/><stop offset="0.486" stop-color="#c20000"/><stop offset="0.514" stop-color="#ca0000"/><stop offset="0.543" stop-color="#dd0000"/><stop offset="0.571" stop-color="#fb0f00"/><stop offset="0.600" stop-color="#ff3000"/><stop offset="0.629" stop-color="#ff5800"/><stop offset="0.657" stop-color="#ff8600"/><stop offset="0.686" stop-color="#ffba00"/><stop offset="0.714" stop-color="#f9f300"/><stop offset="0.743" stop-color="#c5ff32"/><stop offset="0.771" stop-color="#8eff69"/><stop offset="0.800" stop-color="#56ffa0"/><stop offset="0.829" stop-color="#20ffd7"/><stop offset="0.857" stop-color="#00cbff"/><stop offset="0.886" stop-color="#008eff"/><stop offset="0.914" stop-color="#0055ff"/><stop offset="0.943" stop-color="#0020ff"/><stop offset="0.971" stop-color="#0000fd"/><stop offset="1.000" stop-color="#0000c9"/></linearGradient><linearGradient id="g21" gradientUnits="userSpaceOnUse" x1="372.9" y1="470.8" x2="926.1" y2="369.6"><stop offset="0.000" stop-color="#0000f1"/><stop offset="0.029" stop-color="#000bff"/><stop offset="0.057" stop-color="#0035ff"/><stop offset="0.086" stop-color="#0066ff"/><stop offset="0.114" stop-color="#009eff"/><stop offset="0.143" stop-color="#00dffc"/><stop offset="0.171" stop-color="#34ffc3"/><stop offset="0.200" stop-color="#6fff87"/><stop offset="0.229" stop-color="#acff4b"/><stop offset="0.257" stop-color="#e7ff10"/><stop offset="0.286" stop-color="#ffc700"/><stop offset="0.314" stop-color="#ff8c00"/><stop offset="0.343" stop-color="#ff5700"/><stop offset="0.371" stop-color="#ff2b00"/><stop offset="0.400" stop-color="#f40a00"/><stop offset="0.429" stop-color="#d70000"/><stop offset="0.457" stop-color="#c70000"/><stop offset="0.486" stop-color="#c40000"/><stop offset="0.514" stop-color="#cb0000"/><stop offset="0.543" stop-color="#de0000"/><stop offset="0.571" stop-color="#fc1000"/><stop offset="0.600" stop-color="#ff3100"/><stop offset="0.629" stop-color="#ff5800"/><stop offset="0.657" stop-color="#ff8700"/><stop offset="0.686" stop-color="#ffba00"/><stop offset="0.714" stop-color="#f9f300"/><stop offset="0.743" stop-color="#c4ff33"/><stop offset="0.771" stop-color="#8dff69"/><stop offset="0.800" stop-color="#56ffa1"/><stop offset="0.829" stop-color="#1fffd8"/><stop offset="0.857" stop-color="#00cbff"/><stop offset="0.886" stop-color="#008eff"/><stop offset="0.914" stop-color="#0055ff"/><stop offset="0.943" stop-color="#0021ff"/><stop offset="0.971" stop-color="#0000fe"/><stop offset="1.000" stop-color="#0000cb"/></linearGradient><linearGradient id="g22" gradientUnits="userSpaceOnUse" x1="374.5" y1="476.9" x2="927.7" y2="375.8"><stop offset="0.000" stop-color="#0000f1"/><stop offset="0.029" stop-color="#000bff"/><stop offset="0.057" stop-color="#0036ff"/><stop offset="0.086" stop-color="#0067ff"/><stop offset="0.114" stop-color="#009fff"/><stop offset="0.143" stop-color="#00dffc"/><stop offset="0.171" stop-color="#33ffc4"/><stop offset="0.200" stop-color="#6fff88"/><stop offset="0.229" stop-color="#abff4c"/><stop offset="0.257" stop-color="#e6ff11"/><stop offset="0.286" stop-color="#ffc900"/><stop offset="0.314" stop-color="#ff8e00"/><stop offset="0.343" stop-color="#ff5900"/><stop offset="0.371" stop-color="#ff2d00"/><stop offset="0.400" stop-color="#f50b00"/><stop offset="0.429" stop-color="#d80000"/><stop offset="0.457" stop-color="#c90000"/><stop offset="0.486" stop-color="#c50000"/><stop offset="0.514" stop-color="#cd0000"/><stop offset="0.543" stop-color="#df0000"/><stop offset="0.571" stop-color="#fc1100"/><stop offset="0.600" stop-color="#ff3100"/><stop offset="0.629" stop-color="#ff5900"/><stop offset="0.657" stop-color="#ff8700"/><stop offset="0.686" stop-color="#ffbb00"/><stop offset="0.714" stop-color="#f8f400"/><stop offset="0.743" stop-color="#c4ff33"/><stop offset="0.771" stop-color="#8cff6a"/><stop offset="0.800" stop-color="#55ffa2"/><stop offset="0.829" stop-color="#1effd9"/><stop offset="0.857" stop-color="#00caff"/><stop offset="0.886" stop-color="#008eff"/><stop offset="0.914" stop-color="#0055ff"/><stop offset="0.943" stop-color="#0022ff"/><stop offset="0.971" stop-color="#0000ff"/><stop offset="1.000" stop-color="#0000cd"/></linearGradient><linearGradient id="g23" gradientUnits="userSpaceOnUse" x1="376.0" y1="483.1" x2="929.2" y2="382.0"><stop offset="0.000" stop-color="#0000f1"/><stop offset="0.029" stop-color="#000cff"/><stop offset="0.057" stop-color="#0037ff"/><stop offset="0.086" stop-color="#0068ff"/><stop offset="0.114" stop-color="#00a0ff"/><stop offset="0.143" stop-color="#00e0fb"/><stop offset="0.171" stop-color="#33ffc4"/><stop offset="0.200" stop-color="#6eff89"/><stop offset="0.229" stop-color="#aaff4d"/><stop offset="0.257" stop-color="#e4ff13"/><stop offset="0.286" stop-color="#ffcb00"/><stop offset="0.314" stop-color="#ff8f00"/><stop offset="0.343" stop-color="#ff5a00"/><stop offset="0.371" stop-color="#ff2e00"/><stop offset="0.400" stop-color="#f60c00"/><stop offset="0.429" stop-color="#da0000"/><stop offset="0.457" stop-color="#ca0000"/><stop offset="0.486" stop-color="#c60000"/><stop offset="0.514" stop-color="#ce0000"/><stop offset="0.543" stop-color="#e00000"/><stop offset="0.571" stop-color="#fd1100"/><stop offset="0.600" stop-color="#ff3100"/><stop offset="0.629" stop-color="#ff5900"/><stop offset="0.657" stop-color="#ff8700"/><stop offset="0.686" stop-color="#ffbb00"/><stop offset="0.714" stop-color="#f8f400"/><stop offset="0.743" stop-color="#c3ff34"/><stop offset="0.771" stop-color="#8cff6b"/><stop offset="0.800" stop-color="#54ffa3"/><stop offset="0.829" stop-color="#1dffda"/><stop offset="0.857" stop-color="#00c9ff"/><stop offset="0.886" stop-color="#008dff"/><stop offset="0.914" stop-color="#0056ff"/><stop offset="0.943" stop-color="#0022ff"/><stop offset="0.971" stop-color="#0000ff"/><stop offset="1.000" stop-color="#0000cf"/></linearGradient><linearGradient id="g24" gradientUnits="userSpaceOnUse" x1="377.5" y1="489.3" x2="930.7" y2="388.2"><stop offset="0.000" stop-color="#0000f2"/><stop offset="0.029" stop-color="#000dff"/><stop offset="0.057" stop-color="#0038ff"/><stop offset="0.086" stop-color="#006aff"/><stop offset="0.114" stop-color="#00a2ff"/><stop offset="0.143" stop-color="#00e1fb"/><stop offset="0.171" stop-color="#33ffc3"/><stop offset="0.200" stop-color="#6eff89"/><stop offset="0.229" stop-color="#a9ff4e"/><stop offset="0.257" stop-color="#e3ff14"/><stop offset="0.286" stop-color="#ffcc00"/><stop offset="0.314" stop-color="#ff9100"/><stop offset="0.343" stop-color="#ff5c00"/><stop offset="0.371" stop-color="#ff2f00"/><stop offset="0.400" stop-color="#f80d00"/><stop offset="0.429" stop-color="#db0000"/><stop offset="0.457" stop-color="#cc0000"/><stop offset="0.486" stop-color="#c80000"/><stop offset="0.514" stop-color="#cf0000"/><stop offset="0.543" stop-color="#e10000"/><stop offset="0.571" stop-color="#fe1200"/><stop offset="0.600" stop-color="#ff3200"/><stop offset="0.629" stop-color="#ff5a00"/><stop offset="0.657" stop-color="#ff8800"/><stop offset="0.686" stop-color="#ffbc00"/><stop offset="0.714" stop-color="#f8f400"/><stop offset="0.743" stop-color="#c2ff34"/><stop offset="0.771" stop-color="#8bff6c"/><stop offset="0.800" stop-color="#52ffa4"/><stop offset="0.829" stop-color="#1cffdb"/><stop offset="0.857" stop-color="#00c8ff"/><stop offset="0.886" stop-color="#008cff"/><stop offset="0.914" stop-color="#0055ff"/><stop offset="0.943" stop-color="#0023ff"/><stop offset="0.971" stop-color="#0000ff"/><stop offset="1.000" stop-color="#0000d1"/></linearGradient><linearGradient id="g25" gradientUnits="userSpaceOnUse" x1="379.0" y1="495.5" x2="932.2" y2="394.4"><stop offset="0.000" stop-color="#0000f3"/><stop offset="0.029" stop-color="#000eff"/><stop offset="0.057" stop-color="#003aff"/><stop offset="0.086" stop-color="#006bff"/><stop offset="0.114" stop-color="#00a3ff"/><stop offset="0.143" stop-color="#00e1fa"/><stop offset="0.171" stop-color="#33ffc3"/><stop offset="0.200" stop-color="#6dff8a"/><stop offset="0.229" stop-color="#a8ff4f"/><stop offset="0.257" stop-color="#e2ff15"/><stop offset="0.286" stop-color="#ffce00"/><stop offset="0.314" stop-color="#ff9200"/><stop offset="0.343" stop-color="#ff5e00"/><stop offset="0.371" stop-color="#ff3100"/><stop offset="0.400" stop-color="#fa0f00"/><stop offset="0.429" stop-color="#dd0000"/><stop offset="0.457" stop-color="#cd0000"/><stop offset="0.486" stop-color="#ca0000"/><stop offset="0.514" stop-color="#d00000"/><stop offset="0.543" stop-color="#e20000"/><stop offset="0.571" stop-color="#fe1200"/><stop offset="0.600" stop-color="#ff3200"/><stop offset="0.629" stop-color="#ff5a00"/><stop offset="0.657" stop-color="#ff8800"/><stop offset="0.686" stop-color="#ffbc00"/><stop offset="0.714" stop-color="#f7f500"/><stop offset="0.743" stop-color="#c2ff35"/><stop offset="0.771" stop-color="#8aff6d"/><stop offset="0.800" stop-color="#51ffa6"/><stop offset="0.829" stop-color="#1affdd"/><stop offset="0.857" stop-color="#00c6ff"/><stop offset="0.886" stop-color="#008bff"/><stop offset="0.914" stop-color="#0055ff"/><stop offset="0.943" stop-color="#0024ff"/><stop offset="0.971" stop-color="#0000ff"/><stop offset="1.000" stop-color="#0000d3"/></linearGradient><linearGradient id="g26" gradientUnits="userSpaceOnUse" x1="380.5" y1="501.6" x2="933.7" y2="400.6"><stop offset="0.000" stop-color="#0000f4"/><stop offset="0.029" stop-color="#000fff"/><stop offset="0.057" stop-color="#003bff"/><stop offset="0.086" stop-color="#006cff"/><stop offset="0.114" stop-color="#00a4ff"/><stop offset="0.143" stop-color="#00e2f9"/><stop offset="0.171" stop-color="#34ffc3"/><stop offset="0.200" stop-color="#6dff8a"/><stop offset="0.229" stop-color="#a7ff4f"/><stop offset="0.257" stop-color="#e1ff16"/><stop offset="0.286" stop-color="#ffcf00"/><stop offset="0.314" stop-color="#ff9400"/><stop offset="0.343" stop-color="#ff5f00"/><stop offset="0.371" stop-color="#ff3300"/><stop offset="0.400" stop-color="#fc1100"/><stop offset="0.429" stop-color="#df0000"/><stop offset="0.457" stop-color="#cf0000"/><stop offset="0.486" stop-color="#cb0000"/><stop offset="0.514" stop-color="#d20000"/><stop offset="0.543" stop-color="#e30000"/><stop offset="0.571" stop-color="#ff1300"/><stop offset="0.600" stop-color="#ff3300"/><stop offset="0.629" stop-color="#ff5b00"/><stop offset="0.657" stop-color="#ff8900"/><stop offset="0.686" stop-color="#ffbc00"/><stop offset="0.714" stop-color="#f7f500"/><stop offset="0.743" stop-color="#c1ff35"/><stop offset="0.771" stop-color="#89ff6e"/><stop offset="0.800" stop-color="#50ffa7"/><stop offset="0.829" stop-color="#19ffde"/><stop offset="0.857" stop-color="#00c4ff"/><stop offset="0.886" stop-color="#008aff"/><stop offset="0.914" stop-color="#0055ff"/><stop offset="0.943" stop-color="#0024ff"/><stop offset="0.971" stop-color="#0000ff"/><stop offset="1.000" stop-color="#0000d5"/></linearGradient><linearGradient id="g27" gradientUnits="userSpaceOnUse" x1="382.0" y1="507.8" x2="935.3" y2="406.8"><stop offset="0.000" stop-color="#0000f5"/><stop offset="0.029" stop-color="#0010ff"/><stop offset="0.057" stop-color="#003cff"/><stop offset="0.086" stop-color="#006dff"/><stop offset="0.114" stop-color="#00a5ff"/><stop offset="0.143" stop-color="#00e3f9"/><stop offset="0.171" stop-color="#34ffc3"/><stop offset="0.200" stop-color="#6dff8a"/><stop offset="0.229" stop-color="#a7ff50"/><stop offset="0.257" stop-color="#e0ff17"/><stop offset="0.286" stop-color="#ffd000"/><stop offset="0.314" stop-color="#ff9500"/><stop offset="0.343" stop-color="#ff6100"/><stop offset="0.371" stop-color="#ff3500"/><stop offset="0.400" stop-color="#ff1300"/><stop offset="0.429" stop-color="#e10000"/><stop offset="0.457" stop-color="#d10000"/><stop offset="0.486" stop-color="#cd0000"/><stop offset="0.514" stop-color="#d30000"/><stop offset="0.543" stop-color="#e40000"/><stop offset="0.571" stop-color="#ff1400"/><stop offset="0.600" stop-color="#ff3400"/><stop offset="0.629" stop-color="#ff5b00"/><stop offset="0.657" stop-color="#ff8900"/><stop offset="0.686" stop-color="#ffbc00"/><stop offset="0.714" stop-color="#f7f500"/><stop offset="0.743" stop-color="#c1ff36"/><stop offset="0.771" stop-color="#88ff6f"/><stop offset="0.800" stop-color="#4effa8"/><stop offset="0.829" stop-color="#17ffe0"/><stop offset="0.857" stop-color="#00c3ff"/><stop offset="0.886" stop-color="#0089ff"/><stop offset="0.914" stop-color="#0055ff"/><stop offset="0.943" stop-color="#0025ff"/><stop offset="0.971" stop-color="#0000ff"/><stop offset="1.000" stop-color="#0000d8"/></linearGradient><linearGradient id="g28" gradientUnits="userSpaceOnUse" x1="383.5" y1="514.0" x2="936.8" y2="413.1"><stop offset="0.000" stop-color="#0000f6"/><stop offset="0.029" stop-color="#0011ff"/><stop offset="0.057" stop-color="#003dff"/><stop offset="0.086" stop-color="#006eff"/><stop offset="0.114" stop-color="#00a6ff"/><stop offset="0.143" stop-color="#00e3f9"/><stop offset="0.171" stop-color="#34ffc3"/><stop offset="0.200" stop-color="#6cff8b"/><stop offset="0.229" stop-color="#a6ff51"/><stop offset="0.257" stop-color="#dfff18"/><stop offset="0.286" stop-color="#ffd100"/><stop offset="0.314" stop-color="#ff9700"/><stop offset="0.343" stop-color="#ff6300"/><stop offset="0.371" stop-color="#ff3700"/><stop offset="0.400" stop-color="#ff1400"/><stop offset="0.429" stop-color="#e40000"/><stop offset="0.457" stop-color="#d30000"/><stop offset="0.486" stop-color="#ce0000"/><stop offset="0.514" stop-color="#d40000"/><stop offset="0.543" stop-color="#e50000"/><stop offset="0.571" stop-color="#ff1400"/><stop offset="0.600" stop-color="#ff3400"/><stop offset="0.629" stop-color="#ff5c00"/><stop offset="0.657" stop-color="#ff8900"/><stop offset="0.686" stop-color="#ffbd00"/><stop offset="0.714" stop-color="#f7f500"/><stop offset="0.743" stop-color="#c1ff36"/><stop offset="0.771" stop-color="#87ff6f"/><stop offset="0.800" stop-color="#4dffaa"/><stop offset="0.829" stop-color="#15ffe1"/><stop offset="0.857" stop-color="#00c1ff"/><stop offset="0.886" stop-color="#0088ff"/><stop offset="0.914" stop-color="#0055ff"/><stop offset="0.943" stop-color="#0026ff"/><stop offset="0.971" stop-color="#0000ff"/><stop offset="1.000" stop-color="#0000da"/></linearGradient><linearGradient id="g29" gradientUnits="userSpaceOnUse" x1="385.0" y1="520.2" x2="938.3" y2="419.3"><stop offset="0.000" stop-color="#0000f7"/><stop offset="0.029" stop-color="#0012ff"/><stop offset="0.057" stop-color="#003eff"/><stop offset="0.086" stop-color="#006fff"/><stop offset="0.114" stop-color="#00a6ff"/><stop offset="0.143" stop-color="#00e4f8"/><stop offset="0.171" stop-color="#34ffc3"/><stop offset="0.200" stop-color="#6cff8b"/><stop offset="0.229" stop-color="#a5ff51"/><stop offset="0.257" stop-color="#deff18"/><stop offset="0.286" stop-color="#ffd300"/><stop offset="0.314" stop-color="#ff9800"/><stop offset="0.343" stop-color="#ff6400"/><stop offset="0.371" stop-color="#ff3800"/><stop offset="0.400" stop-color="#ff1600"/><stop offset="0.429" stop-color="#e60000"/><stop offset="0.457" stop-color="#d50000"/><stop offset="0.486" stop-color="#d00000"/><stop offset="0.514" stop-color="#d50000"/><stop offset="0.543" stop-color="#e60000"/><stop offset="0.571" stop-color="#ff1500"/><stop offset="0.600" stop-color="#ff3500"/><stop offset="0.629" stop-color="#ff5c00"/><stop offset="0.657" stop-color="#ff8a00"/><stop offset="0.686" stop-color="#ffbd00"/><stop offset="0.714" stop-color="#f7f600"/><stop offset="0.743" stop-color="#c1ff36"/><stop offset="0.771" stop-color="#87ff70"/><stop offset="0.800" stop-color="#4cffab"/><stop offset="0.829" stop-color="#14fee3"/><stop offset="0.857" stop-color="#00bfff"/><stop offset="0.886" stop-color="#0087ff"/><stop offset="0.914" stop-color="#0055ff"/><stop offset="0.943" stop-color="#0027ff"/><stop offset="0.971" stop-color="#0000ff"/><stop offset="1.000" stop-color="#0000dd"/></linearGradient><linearGradient id="g30" gradientUnits="userSpaceOnUse" x1="386.5" y1="526.3" x2="939.9" y2="425.5"><stop offset="0.000" stop-color="#0000f9"/><stop offset="0.029" stop-color="#0013ff"/><stop offset="0.057" stop-color="#003fff"/><stop offset="0.086" stop-color="#0070ff"/><stop offset="0.114" stop-color="#00a7ff"/><stop offset="0.143" stop-color="#00e4f8"/><stop offset="0.171" stop-color="#34ffc3"/><stop offset="0.200" stop-color="#6cff8b"/><stop offset="0.229" stop-color="#a5ff52"/><stop offset="0.257" stop-color="#deff19"/><stop offset="0.286" stop-color="#ffd400"/><stop offset="0.314" stop-color="#ff9900"/><stop offset="0.343" stop-color="#ff6600"/><stop offset="0.371" stop-color="#ff3a00"/><stop offset="0.400" stop-color="#ff1800"/><stop offset="0.429" stop-color="#e80000"/><stop offset="0.457" stop-color="#d70000"/><stop offset="0.486" stop-color="#d10000"/><stop offset="0.514" stop-color="#d70000"/><stop offset="0.543" stop-color="#e80000"/><stop offset="0.571" stop-color="#ff1700"/><stop offset="0.600" stop-color="#ff3600"/><stop offset="0.629" stop-color="#ff5d00"/><stop offset="0.657" stop-color="#ff8a00"/><stop offset="0.686" stop-color="#ffbd00"/><stop offset="0.714" stop-color="#f6f600"/><stop offset="0.743" stop-color="#c0ff37"/><stop offset="0.771" stop-color="#86ff71"/><stop offset="0.800" stop-color="#4bffac"/><stop offset="0.829" stop-color="#13fde4"/><stop offset="0.857" stop-color="#00beff"/><stop offset="0.886" stop-color="#0087ff"/><stop offset="0.914" stop-color="#0055ff"/><stop offset="0.943" stop-color="#0028ff"/><stop offset="0.971" stop-color="#0000ff"/><stop offset="1.000" stop-color="#0000e0"/></linearGradient><linearGradient id="g31" gradientUnits="userSpaceOnUse" x1="388.0" y1="532.5" x2="941.4" y2="431.7"><stop offset="0.000" stop-color="#0000fa"/><stop offset="0.029" stop-color="#0014ff"/><stop offset="0.057" stop-color="#003fff"/><stop offset="0.086" stop-color="#0070ff"/><stop offset="0.114" stop-color="#00a7ff"/><stop offset="0.143" stop-color="#00e4f8"/><stop offset="0.171" stop-color="#33ffc3"/><stop offset="0.200" stop-color="#6bff8c"/><stop offset="0.229" stop-color="#a4ff53"/><stop offset="0.257" stop-color="#ddff1a"/><stop offset="0.286" stop-color="#ffd400"/><stop offset="0.314" stop-color="#ff9a00"/><stop offset="0.343" stop-color="#ff6700"/><stop offset="0.371" stop-color="#ff3c00"/><stop offset="0.400" stop-color="#ff1a00"/><stop offset="0.429" stop-color="#ea0200"/><stop offset="0.457" stop-color="#d80000"/><stop offset="0.486" stop-color="#d30000"/><stop offset="0.514" stop-color="#d80000"/><stop offset="0.543" stop-color="#e90100"/><stop offset="0.571" stop-color="#ff1800"/><stop offset="0.600" stop-color="#ff3700"/><stop offset="0.629" stop-color="#ff5d00"/><stop offset="0.657" stop-color="#ff8b00"/><stop offset="0.686" stop-color="#ffbe00"/><stop offset="0.714" stop-color="#f6f701"/><stop offset="0.743" stop-color="#c0ff37"/><stop offset="0.771" stop-color="#86ff71"/><stop offset="0.800" stop-color="#4affad"/><stop offset="0.829" stop-color="#12fce4"/><stop offset="0.857" stop-color="#00beff"/><stop offset="0.886" stop-color="#0087ff"/><stop offset="0.914" stop-color="#0056ff"/><stop offset="0.943" stop-color="#002aff"/><stop offset="0.971" stop-color="#0000ff"/><stop offset="1.000" stop-color="#0000e3"/></linearGradient><linearGradient id="g32" gradientUnits="userSpaceOnUse" x1="389.5" y1="538.7" x2="942.9" y2="437.9"><stop offset="0.000" stop-color="#0000fc"/><stop offset="0.029" stop-color="#0015ff"/><stop offset="0.057" stop-color="#0040ff"/><stop offset="0.086" stop-color="#0071ff"/><stop offset="0.114" stop-color="#00a7ff"/><stop offset="0.143" stop-color="#00e4f8"/><stop offset="0.171" stop-color="#33ffc4"/><stop offset="0.200" stop-color="#6bff8c"/><stop offset="0.229" stop-color="#a3ff53"/><stop offset="0.257" stop-color="#dcff1b"/><stop offset="0.286" stop-color="#ffd500"/><stop offset="0.314" stop-color="#ff9b00"/><stop offset="0.343" stop-color="#ff6800"/><stop offset="0.371" stop-color="#ff3d00"/><stop offset="0.400" stop-color="#ff1b00"/><stop offset="0.429" stop-color="#eb0300"/><stop offset="0.457" stop-color="#da0000"/><stop offset="0.486" stop-color="#d40000"/><stop offset="0.514" stop-color="#da0000"/><stop offset="0.543" stop-color="#ea0200"/><stop offset="0.571" stop-color="#ff1900"/><stop offset="0.600" stop-color="#ff3800"/><stop offset="0.629" stop-color="#ff5e00"/><stop offset="0.657" stop-color="#ff8b00"/><stop offset="0.686" stop-color="#ffbe00"/><stop offset="0.714" stop-color="#f5f701"/><stop offset="0.743" stop-color="#bfff38"/><stop offset="0.771" stop-color="#85ff71"/><stop offset="0.800" stop-color="#4bffac"/><stop offset="0.829" stop-color="#13fde4"/><stop offset="0.857" stop-color="#00bfff"/><stop offset="0.886" stop-color="#0088ff"/><stop offset="0.914" stop-color="#0057ff"/><stop offset="0.943" stop-color="#002bff"/><stop offset="0.971" stop-color="#0002ff"/><stop offset="1.000" stop-color="#0000e6"/></linearGradient><linearGradient id="g33" gradientUnits="userSpaceOnUse" x1="391.0" y1="544.9" x2="944.5" y2="444.1"><stop offset="0.000" stop-color="#0000fd"/><stop offset="0.029" stop-color="#0016ff"/><stop offset="0.057" stop-color="#0040ff"/><stop offset="0.086" stop-color="#0071ff"/><stop offset="0.114" stop-color="#00a7ff"/><stop offset="0.143" stop-color="#00e4f8"/><stop offset="0.171" stop-color="#33ffc4"/><stop offset="0.200" stop-color="#6aff8d"/><stop offset="0.229" stop-color="#a3ff54"/><stop offset="0.257" stop-color="#dcff1b"/><stop offset="0.286" stop-color="#ffd600"/><stop offset="0.314" stop-color="#ff9c00"/><stop offset="0.343" stop-color="#ff6900"/><stop offset="0.371" stop-color="#ff3e00"/><stop offset="0.400" stop-color="#ff1c00"/><stop offset="0.429" stop-color="#ed0400"/><stop offset="0.457" stop-color="#dc0000"/><stop offset="0.486" stop-color="#d60000"/><stop offset="0.514" stop-color="#db0000"/><stop offset="0.543" stop-color="#ec0300"/><stop offset="0.571" stop-color="#ff1a00"/><stop offset="0.600" stop-color="#ff3800"/><stop offset="0.629" stop-color="#ff5f00"/><stop offset="0.657" stop-color="#ff8c00"/><stop offset="0.686" stop-color="#ffbf00"/><stop offset="0.714" stop-color="#f5f802"/><stop offset="0.743" stop-color="#bfff38"/><stop offset="0.771" stop-color="#86ff71"/><stop offset="0.800" stop-color="#4cffab"/><stop offset="0.829" stop-color="#14ffe2"/><stop offset="0.857" stop-color="#00c1ff"/><stop offset="0.886" stop-color="#008aff"/><stop offset="0.914" stop-color="#0059ff"/><stop offset="0.943" stop-color="#002dff"/><stop offset="0.971" stop-color="#0005ff"/><stop offset="1.000" stop-color="#0000e9"/></linearGradient><linearGradient id="g34" gradientUnits="userSpaceOnUse" x1="392.5" y1="551.0" x2="946.0" y2="450.3"><stop offset="0.000" stop-color="#0000ff"/><stop offset="0.029" stop-color="#0017ff"/><stop offset="0.057" stop-color="#0041ff"/><stop offset="0.086" stop-color="#0071ff"/><stop offset="0.114" stop-color="#00a7ff"/><stop offset="0.143" stop-color="#00e3f9"/><stop offset="0.171" stop-color="#32ffc4"/><stop offset="0.200" stop-color="#69ff8d"/><stop offset="0.229" stop-color="#a2ff55"/><stop offset="0.257" stop-color="#dbff1c"/><stop offset="0.286" stop-color="#ffd700"/><stop offset="0.314" stop-color="#ff9d00"/><stop offset="0.343" stop-color="#ff6a00"/><stop offset="0.371" stop-color="#ff3f00"/><stop offset="0.400" stop-color="#ff1d00"/><stop offset="0.429" stop-color="#ef0600"/><stop offset="0.457" stop-color="#dd0000"/><stop offset="0.486" stop-color="#d70000"/><stop offset="0.514" stop-color="#dd0000"/><stop offset="0.543" stop-color="#ed0400"/><stop offset="0.571" stop-color="#ff1a00"/><stop offset="0.600" stop-color="#ff3900"/><stop offset="0.629" stop-color="#ff5f00"/><stop offset="0.657" stop-color="#ff8c00"/><stop offset="0.686" stop-color="#ffbf00"/><stop offset="0.714" stop-color="#f5f802"/><stop offset="0.743" stop-color="#bfff38"/><stop offset="0.771" stop-color="#86ff71"/><stop offset="0.800" stop-color="#4dffaa"/><stop offset="0.829" stop-color="#16ffe1"/><stop offset="0.857" stop-color="#00c3ff"/><stop offset="0.886" stop-color="#008cff"/><stop offset="0.914" stop-color="#005bff"/><stop offset="0.943" stop-color="#0030ff"/><stop offset="0.971" stop-color="#0007ff"/><stop offset="1.000" stop-color="#0000ec"/></linearGradient><linearGradient id="g35" gradientUnits="userSpaceOnUse" x1="393.9" y1="557.2" x2="947.5" y2="456.5"><stop offset="0.000" stop-color="#0000ff"/><stop offset="0.029" stop-color="#0018ff"/><stop offset="0.057" stop-color="#0041ff"/><stop offset="0.086" stop-color="#0071ff"/><stop offset="0.114" stop-color="#00a7ff"/><stop offset="0.143" stop-color="#00e3f9"/><stop offset="0.171" stop-color="#32ffc5"/><stop offset="0.200" stop-color="#69ff8e"/><stop offset="0.229" stop-color="#a1ff55"/><stop offset="0.257" stop-color="#daff1c"/><stop offset="0.286" stop-color="#ffd700"/><stop offset="0.314" stop-color="#ff9d00"/><stop offset="0.343" stop-color="#ff6a00"/><stop offset="0.371" stop-color="#ff4000"/><stop offset="0.400" stop-color="#ff1e00"/><stop offset="0.429" stop-color="#f00700"/><stop offset="0.457" stop-color="#df0000"/><stop offset="0.486" stop-color="#d90000"/><stop offset="0.514" stop-color="#de0000"/><stop offset="0.543" stop-color="#ee0500"/><stop offset="0.571" stop-color="#ff1b00"/><stop offset="0.600" stop-color="#ff3a00"/><stop offset="0.629" stop-color="#ff6000"/><stop offset="0.657" stop-color="#ff8d00"/><stop offset="0.686" stop-color="#ffc000"/><stop offset="0.714" stop-color="#f4f802"/><stop offset="0.743" stop-color="#bfff38"/><stop offset="0.771" stop-color="#87ff70"/><stop offset="0.800" stop-color="#4fffa8"/><stop offset="0.829" stop-color="#19ffde"/><stop offset="0.857" stop-color="#00c6ff"/><stop offset="0.886" stop-color="#008fff"/><stop offset="0.914" stop-color="#005eff"/><stop offset="0.943" stop-color="#0032ff"/><stop offset="0.971" stop-color="#0009ff"/><stop offset="1.000" stop-color="#0000ee"/></linearGradient><linearGradient id="g36" gradientUnits="userSpaceOnUse" x1="395.4" y1="563.4" x2="949.1" y2="462.8"><stop offset="0.000" stop-color="#0000ff"/><stop offset="0.029" stop-color="#0019ff"/><stop offset="0.057" stop-color="#0041ff"/><stop offset="0.086" stop-color="#0071ff"/><stop offset="0.114" stop-color="#00a7ff"/><stop offset="0.143" stop-color="#00e3f9"/><stop offset="0.171" stop-color="#32ffc5"/><stop offset="0.200" stop-color="#68ff8f"/><stop offset="0.229" stop-color="#a1ff56"/><stop offset="0.257" stop-color="#daff1d"/><stop offset="0.286" stop-color="#ffd800"/><stop offset="0.314" stop-color="#ff9e00"/><stop offset="0.343" stop-color="#ff6b00"/><stop offset="0.371" stop-color="#ff4000"/><stop offset="0.400" stop-color="#ff1f00"/><stop offset="0.429" stop-color="#f10800"/><stop offset="0.457" stop-color="#e00000"/><stop offset="0.486" stop-color="#da0000"/><stop offset="0.514" stop-color="#df0000"/><stop offset="0.543" stop-color="#ef0600"/><stop offset="0.571" stop-color="#ff1c00"/><stop offset="0.600" stop-color="#ff3a00"/><stop offset="0.629" stop-color="#ff6000"/><stop offset="0.657" stop-color="#ff8d00"/><stop offset="0.686" stop-color="#ffc000"/><stop offset="0.714" stop-color="#f5f802"/><stop offset="0.743" stop-color="#c0ff37"/><stop offset="0.771" stop-color="#88ff6f"/><stop offset="0.800" stop-color="#51ffa6"/><stop offset="0.829" stop-color="#1bffdc"/><stop offset="0.857" stop-color="#00caff"/><stop offset="0.886" stop-color="#0092ff"/><stop offset="0.914" stop-color="#0061ff"/><stop offset="0.943" stop-color="#0034ff"/><stop offset="0.971" stop-color="#000bff"/><stop offset="1.000" stop-color="#0000f0"/></linearGradient><linearGradient id="g37" gradientUnits="userSpaceOnUse" x1="396.9" y1="569.6" x2="950.6" y2="469.0"><stop offset="0.000" stop-color="#0000ff"/><stop offset="0.029" stop-color="#001aff"/><stop offset="0.057" stop-color="#0042ff"/><stop offset="0.086" stop-color="#0072ff"/><stop offset="0.114" stop-color="#00a8ff"/><stop offset="0.143" stop-color="#00e3f9"/><stop offset="0.171" stop-color="#31ffc6"/><stop offset="0.200" stop-color="#68ff8f"/><stop offset="0.229" stop-color="#a0ff57"/><stop offset="0.257" stop-color="#d9ff1d"/><stop offset="0.286" stop-color="#ffd800"/><stop offset="0.314" stop-color="#ff9e00"/><stop offset="0.343" stop-color="#ff6b00"/><stop offset="0.371" stop-color="#ff4100"/><stop offset="0.400" stop-color="#ff2000"/><stop offset="0.429" stop-color="#f30900"/><stop offset="0.457" stop-color="#e20000"/><stop offset="0.486" stop-color="#db0000"/><stop offset="0.514" stop-color="#e10000"/><stop offset="0.543" stop-color="#f10700"/><stop offset="0.571" stop-color="#ff1d00"/><stop offset="0.600" stop-color="#ff3b00"/><stop offset="0.629" stop-color="#ff6100"/><stop offset="0.657" stop-color="#ff8d00"/><stop offset="0.686" stop-color="#ffc000"/><stop offset="0.714" stop-color="#f5f802"/><stop offset="0.743" stop-color="#c0ff36"/><stop offset="0.771" stop-color="#8aff6d"/><stop offset="0.800" stop-color="#53ffa4"/><stop offset="0.829" stop-color="#1effd9"/><stop offset="0.857" stop-color="#00cdff"/><stop offset="0.886" stop-color="#0095ff"/><stop offset="0.914" stop-color="#0064ff"/><stop offset="0.943" stop-color="#0037ff"/><stop offset="0.971" stop-color="#000dff"/><stop offset="1.000" stop-color="#0000f1"/></linearGradient><linearGradient id="g38" gradientUnits="userSpaceOnUse" x1="398.3" y1="575.7" x2="952.2" y2="475.2"><stop offset="0.000" stop-color="#0000ff"/><stop offset="0.029" stop-color="#001bff"/><stop offset="0.057" stop-color="#0043ff"/><stop offset="0.086" stop-color="#0073ff"/><stop offset="0.114" stop-color="#00a8ff"/><stop offset="0.143" stop-color="#00e3f9"/><stop offset="0.171" stop-color="#31ffc6"/><stop offset="0.200" stop-color="#67ff90"/><stop offset="0.229" stop-color="#a0ff57"/><stop offset="0.257" stop-color="#d9ff1e"/><stop offset="0.286" stop-color="#ffd800"/><stop offset="0.314" stop-color="#ff9e00"/><stop offset="0.343" stop-color="#ff6c00"/><stop offset="0.371" stop-color="#ff4200"/><stop offset="0.400" stop-color="#ff2100"/><stop offset="0.429" stop-color="#f40a00"/><stop offset="0.457" stop-color="#e30000"/><stop offset="0.486" stop-color="#dd0000"/><stop offset="0.514" stop-color="#e20000"/><stop offset="0.543" stop-color="#f20800"/><stop offset="0.571" stop-color="#ff1e00"/><stop offset="0.600" stop-color="#ff3b00"/><stop offset="0.629" stop-color="#ff6100"/><stop offset="0.657" stop-color="#ff8d00"/><stop offset="0.686" stop-color="#ffc000"/><stop offset="0.714" stop-color="#f5f702"/><stop offset="0.743" stop-color="#c1ff36"/><stop offset="0.771" stop-color="#8bff6c"/><stop offset="0.800" stop-color="#55ffa2"/><stop offset="0.829" stop-color="#20ffd7"/><stop offset="0.857" stop-color="#00d0ff"/><stop offset="0.886" stop-color="#0099ff"/><stop offset="0.914" stop-color="#0066ff"/><stop offset="0.943" stop-color="#0039ff"/><stop offset="0.971" stop-color="#000fff"/><stop offset="1.000" stop-color="#0000f3"/></linearGradient><linearGradient id="g39" gradientUnits="userSpaceOnUse" x1="399.8" y1="581.9" x2="953.7" y2="481.4"><stop offset="0.000" stop-color="#0000ff"/><stop offset="0.029" stop-color="#001cff"/><stop offset="0.057" stop-color="#0045ff"/><stop offset="0.086" stop-color="#0074ff"/><stop offset="0.114" stop-color="#00a9ff"/><stop offset="0.143" stop-color="#00e4f8"/><stop offset="0.171" stop-color="#31ffc6"/><stop offset="0.200" stop-color="#67ff90"/><stop offset="0.229" stop-color="#9fff58"/><stop offset="0.257" stop-color="#d8ff1e"/><stop offset="0.286" stop-color="#ffd900"/><stop offset="0.314" stop-color="#ff9f00"/><stop offset="0.343" stop-color="#ff6c00"/><stop offset="0.371" stop-color="#ff4300"/><stop offset="0.400" stop-color="#ff2200"/><stop offset="0.429" stop-color="#f60b00"/><stop offset="0.457" stop-color="#e50000"/><stop offset="0.486" stop-color="#de0000"/><stop offset="0.514" stop-color="#e30000"/><stop offset="0.543" stop-color="#f30900"/><stop offset="0.571" stop-color="#ff1e00"/><stop offset="0.600" stop-color="#ff3c00"/><stop offset="0.629" stop-color="#ff6100"/><stop offset="0.657" stop-color="#ff8d00"/><stop offset="0.686" stop-color="#ffbf00"/><stop offset="0.714" stop-color="#f6f701"/><stop offset="0.743" stop-color="#c2ff35"/><stop offset="0.771" stop-color="#8dff6a"/><stop offset="0.800" stop-color="#57ffa0"/><stop offset="0.829" stop-color="#23ffd4"/><stop offset="0.857" stop-color="#00d3ff"/><stop offset="0.886" stop-color="#009cff"/><stop offset="0.914" stop-color="#0069ff"/><stop offset="0.943" stop-color="#003bff"/><stop offset="0.971" stop-color="#0010ff"/><stop offset="1.000" stop-color="#0000f5"/></linearGradient><linearGradient id="g40" gradientUnits="userSpaceOnUse" x1="401.2" y1="588.1" x2="955.3" y2="487.6"><stop offset="0.000" stop-color="#0000ff"/><stop offset="0.029" stop-color="#001dff"/><stop offset="0.057" stop-color="#0047ff"/><stop offset="0.086" stop-color="#0075ff"/><stop offset="0.114" stop-color="#00aaff"/><stop offset="0.143" stop-color="#00e4f8"/><stop offset="0.171" stop-color="#31ffc5"/><stop offset="0.200" stop-color="#67ff90"/><stop offset="0.229" stop-color="#9fff58"/><stop offset="0.257" stop-color="#d8ff1f"/><stop offset="0.286" stop-color="#ffd900"/><stop offset="0.314" stop-color="#ff9f00"/><stop offset="0.343" stop-color="#ff6d00"/><stop offset="0.371" stop-color="#ff4400"/><stop offset="0.400" stop-color="#ff2400"/><stop offset="0.429" stop-color="#f80d00"/><stop offset="0.457" stop-color="#e60000"/><stop offset="0.486" stop-color="#e00000"/><stop offset="0.514" stop-color="#e40000"/><stop offset="0.543" stop-color="#f40a00"/><stop offset="0.571" stop-color="#ff1f00"/><stop offset="0.600" stop-color="#ff3c00"/><stop offset="0.629" stop-color="#ff6100"/><stop offset="0.657" stop-color="#ff8d00"/><stop offset="0.686" stop-color="#ffbf00"/><stop offset="0.714" stop-color="#f6f600"/><stop offset="0.743" stop-color="#c3ff33"/><stop offset="0.771" stop-color="#8eff68"/><stop offset="0.800" stop-color="#59ff9e"/><stop offset="0.829" stop-color="#25ffd2"/><stop offset="0.857" stop-color="#00d6ff"/><stop offset="0.886" stop-color="#009eff"/><stop offset="0.914" stop-color="#006bff"/><stop offset="0.943" stop-color="#003dff"/><stop offset="0.971" stop-color="#0012ff"/><stop offset="1.000" stop-color="#0000f7"/></linearGradient><linearGradient id="g41" gradientUnits="userSpaceOnUse" x1="402.7" y1="594.3" x2="956.8" y2="493.8"><stop offset="0.000" stop-color="#0000ff"/><stop offset="0.029" stop-color="#001fff"/><stop offset="0.057" stop-color="#0048ff"/><stop offset="0.086" stop-color="#0077ff"/><stop offset="0.114" stop-color="#00abff"/><stop offset="0.143" stop-color="#00e5f7"/><stop offset="0.171" stop-color="#32ffc5"/><stop offset="0.200" stop-color="#67ff90"/><stop offset="0.229" stop-color="#9fff58"/><stop offset="0.257" stop-color="#d8ff1f"/><stop offset="0.286" stop-color="#ffda00"/><stop offset="0.314" stop-color="#ffa000"/><stop offset="0.343" stop-color="#ff6e00"/><stop offset="0.371" stop-color="#ff4500"/><stop offset="0.400" stop-color="#ff2500"/><stop offset="0.429" stop-color="#f90e00"/><stop offset="0.457" stop-color="#e80000"/><stop offset="0.486" stop-color="#e20000"/><stop offset="0.514" stop-color="#e60000"/><stop offset="0.543" stop-color="#f50b00"/><stop offset="0.571" stop-color="#ff2000"/><stop offset="0.600" stop-color="#ff3d00"/><stop offset="0.629" stop-color="#ff6200"/><stop offset="0.657" stop-color="#ff8d00"/><stop offset="0.686" stop-color="#ffbf00"/><stop offset="0.714" stop-color="#f7f500"/><stop offset="0.743" stop-color="#c5ff32"/><stop offset="0.771" stop-color="#90ff67"/><stop offset="0.800" stop-color="#5bff9c"/><stop offset="0.829" stop-color="#27ffd0"/><stop offset="0.857" stop-color="#00d9ff"/><stop offset="0.886" stop-color="#00a1ff"/><stop offset="0.914" stop-color="#006eff"/><stop offset="0.943" stop-color="#003fff"/><stop offset="0.971" stop-color="#0014ff"/><stop offset="1.000" stop-color="#0000f8"/></linearGradient><linearGradient id="g42" gradientUnits="userSpaceOnUse" x1="404.1" y1="600.4" x2="958.4" y2="500.0"><stop offset="0.000" stop-color="#0000ff"/><stop offset="0.029" stop-color="#0021ff"/><stop offset="0.057" stop-color="#004aff"/><stop offset="0.086" stop-color="#0078ff"/><stop offset="0.114" stop-color="#00acff"/><stop offset="0.143" stop-color="#00e6f7"/><stop offset="0.171" stop-color="#32ffc5"/><stop offset="0.200" stop-color="#67ff8f"/><stop offset="0.229" stop-color="#9fff58"/><stop offset="0.257" stop-color="#d7ff20"/><stop offset="0.286" stop-color="#ffdc00"/><stop offset="0.314" stop-color="#ffa200"/><stop offset="0.343" stop-color="#ff7000"/><stop offset="0.371" stop-color="#ff4700"/><stop offset="0.400" stop-color="#ff2700"/><stop offset="0.429" stop-color="#fc1000"/><stop offset="0.457" stop-color="#ea0200"/><stop offset="0.486" stop-color="#e40000"/><stop offset="0.514" stop-color="#e70000"/><stop offset="0.543" stop-color="#f60c00"/><stop offset="0.571" stop-color="#ff2000"/><stop offset="0.600" stop-color="#ff3d00"/><stop offset="0.629" stop-color="#ff6200"/><stop offset="0.657" stop-color="#ff8d00"/><stop offset="0.686" stop-color="#ffbe00"/><stop offset="0.714" stop-color="#f8f400"/><stop offset="0.743" stop-color="#c6ff31"/><stop offset="0.771" stop-color="#92ff65"/><stop offset="0.800" stop-color="#5dff9a"/><stop offset="0.829" stop-color="#29ffce"/><stop offset="0.857" stop-color="#00dcff"/><stop offset="0.886" stop-color="#00a3ff"/><stop offset="0.914" stop-color="#0070ff"/><stop offset="0.943" stop-color="#0041ff"/><stop offset="0.971" stop-color="#0016ff"/><stop offset="1.000" stop-color="#0000fa"/></linearGradient><linearGradient id="g43" gradientUnits="userSpaceOnUse" x1="405.5" y1="606.6" x2="959.9" y2="506.2"><stop offset="0.000" stop-color="#0000ff"/><stop offset="0.029" stop-color="#0022ff"/><stop offset="0.057" stop-color="#004cff"/><stop offset="0.086" stop-color="#007aff"/><stop offset="0.114" stop-color="#00adff"/><stop offset="0.143" stop-color="#01e6f6"/><stop offset="0.171" stop-color="#33ffc4"/><stop offset="0.200" stop-color="#67ff8f"/><stop offset="0.229" stop-color="#9fff58"/><stop offset="0.257" stop-color="#d6ff21"/><stop offset="0.286" stop-color="#ffdd00"/><stop offset="0.314" stop-color="#ffa400"/><stop offset="0.343" stop-color="#ff7200"/><stop offset="0.371" stop-color="#ff4900"/><stop offset="0.400" stop-color="#ff2900"/><stop offset="0.429" stop-color="#fe1200"/><stop offset="0.457" stop-color="#ed0400"/><stop offset="0.486" stop-color="#e60000"/><stop offset="0.514" stop-color="#e90100"/><stop offset="0.543" stop-color="#f70d00"/><stop offset="0.571" stop-color="#ff2100"/><stop offset="0.600" stop-color="#ff3e00"/><stop offset="0.629" stop-color="#ff6200"/><stop offset="0.657" stop-color="#ff8d00"/><stop offset="0.686" stop-color="#ffbe00"/><stop offset="0.714" stop-color="#f9f300"/><stop offset="0.743" stop-color="#c7ff30"/><stop offset="0.771" stop-color="#93ff64"/><stop offset="0.800" stop-color="#5fff98"/><stop offset="0.829" stop-color="#2bffcc"/><stop offset="0.857" stop-color="#00defd"/><stop offset="0.886" stop-color="#00a5ff"/><stop offset="0.914" stop-color="#0072ff"/><stop offset="0.943" stop-color="#0043ff"/><stop offset="0.971" stop-color="#0017ff"/><stop offset="1.000" stop-color="#0000fc"/></linearGradient><linearGradient id="g44" gradientUnits="userSpaceOnUse" x1="407.0" y1="612.8" x2="961.5" y2="512.5"><stop offset="0.000" stop-color="#0000ff"/><stop offset="0.029" stop-color="#0024ff"/><stop offset="0.057" stop-color="#004dff"/><stop offset="0.086" stop-color="#007bff"/><stop offset="0.114" stop-color="#00aeff"/><stop offset="0.143" stop-color="#01e7f5"/><stop offset="0.171" stop-color="#33ffc4"/><stop offset="0.200" stop-color="#68ff8f"/><stop offset="0.229" stop-color="#9eff59"/><stop offset="0.257" stop-color="#d5ff21"/><stop offset="0.286" stop-color="#ffdf00"/><stop offset="0.314" stop-color="#ffa600"/><stop offset="0.343" stop-color="#ff7500"/><stop offset="0.371" stop-color="#ff4c00"/><stop offset="0.400" stop-color="#ff2c00"/><stop offset="0.429" stop-color="#ff1400"/><stop offset="0.457" stop-color="#ef0600"/><stop offset="0.486" stop-color="#e80000"/><stop offset="0.514" stop-color="#eb0300"/><stop offset="0.543" stop-color="#f90e00"/><stop offset="0.571" stop-color="#ff2200"/><stop offset="0.600" stop-color="#ff3f00"/><stop offset="0.629" stop-color="#ff6300"/><stop offset="0.657" stop-color="#ff8d00"/><stop offset="0.686" stop-color="#ffbe00"/><stop offset="0.714" stop-color="#f9f300"/><stop offset="0.743" stop-color="#c8ff2f"/><stop offset="0.771" stop-color="#95ff62"/><stop offset="0.800" stop-color="#60ff97"/><stop offset="0.829" stop-color="#2dffca"/><stop offset="0.857" stop-color="#00e0fb"/><stop offset="0.886" stop-color="#00a7ff"/><stop offset="0.914" stop-color="#0074ff"/><stop offset="0.943" stop-color="#0044ff"/><stop offset="0.971" stop-color="#0019ff"/><stop offset="1.000" stop-color="#0000fe"/></linearGradient><linearGradient id="g45" gradientUnits="userSpaceOnUse" x1="408.4" y1="619.0" x2="963.1" y2="518.7"><stop offset="0.000" stop-color="#0001ff"/><stop offset="0.029" stop-color="#0026ff"/><stop offset="0.057" stop-color="#004fff"/><stop offset="0.086" stop-color="#007cff"/><stop offset="0.114" stop-color="#00afff"/><stop offset="0.143" stop-color="#02e8f5"/><stop offset="0.171" stop-color="#33ffc4"/><stop offset="0.200" stop-color="#68ff8f"/><stop offset="0.229" stop-color="#9eff59"/><stop offset="0.257" stop-color="#d4ff22"/><stop offset="0.286" stop-color="#ffe100"/><stop offset="0.314" stop-color="#ffa900"/><stop offset="0.343" stop-color="#ff7800"/><stop offset="0.371" stop-color="#ff4f00"/><stop offset="0.400" stop-color="#ff2e00"/><stop offset="0.429" stop-color="#ff1700"/><stop offset="0.457" stop-color="#f20800"/><stop offset="0.486" stop-color="#ea0200"/><stop offset="0.514" stop-color="#ed0400"/><stop offset="0.543" stop-color="#fb0f00"/><stop offset="0.571" stop-color="#ff2300"/><stop offset="0.600" stop-color="#ff3f00"/><stop offset="0.629" stop-color="#ff6300"/><stop offset="0.657" stop-color="#ff8e00"/><stop offset="0.686" stop-color="#ffbe00"/><stop offset="0.714" stop-color="#faf200"/><stop offset="0.743" stop-color="#c9ff2e"/><stop offset="0.771" stop-color="#96ff61"/><stop offset="0.800" stop-color="#62ff95"/><stop offset="0.829" stop-color="#2effc9"/><stop offset="0.857" stop-color="#00e1fa"/><stop offset="0.886" stop-color="#00a9ff"/><stop offset="0.914" stop-color="#0075ff"/><stop offset="0.943" stop-color="#0046ff"/><stop offset="0.971" stop-color="#001aff"/><stop offset="1.000" stop-color="#0000ff"/></linearGradient><linearGradient id="g46" gradientUnits="userSpaceOnUse" x1="409.8" y1="625.1" x2="964.6" y2="524.9"><stop offset="0.000" stop-color="#0003ff"/><stop offset="0.029" stop-color="#0028ff"/><stop offset="0.057" stop-color="#0050ff"/><stop offset="0.086" stop-color="#007dff"/><stop offset="0.114" stop-color="#00b0ff"/><stop offset="0.143" stop-color="#02e8f5"/><stop offset="0.171" stop-color="#33ffc3"/><stop offset="0.200" stop-color="#67ff8f"/><stop offset="0.229" stop-color="#9dff59"/><stop offset="0.257" stop-color="#d3ff23"/><stop offset="0.286" stop-color="#ffe300"/><stop offset="0.314" stop-color="#ffab00"/><stop offset="0.343" stop-color="#ff7a00"/><stop offset="0.371" stop-color="#ff5100"/><stop offset="0.400" stop-color="#ff3100"/><stop offset="0.429" stop-color="#ff1900"/><stop offset="0.457" stop-color="#f40a00"/><stop offset="0.486" stop-color="#ec0400"/><stop offset="0.514" stop-color="#ef0600"/><stop offset="0.543" stop-color="#fd1100"/><stop offset="0.571" stop-color="#ff2500"/><stop offset="0.600" stop-color="#ff4100"/><stop offset="0.629" stop-color="#ff6400"/><stop offset="0.657" stop-color="#ff8e00"/><stop offset="0.686" stop-color="#ffbe00"/><stop offset="0.714" stop-color="#faf200"/><stop offset="0.743" stop-color="#caff2d"/><stop offset="0.771" stop-color="#97ff60"/><stop offset="0.800" stop-color="#63ff94"/><stop offset="0.829" stop-color="#2fffc8"/><stop offset="0.857" stop-color="#00e3f9"/><stop offset="0.886" stop-color="#00aaff"/><stop offset="0.914" stop-color="#0076ff"/><stop offset="0.943" stop-color="#0047ff"/><stop offset="0.971" stop-color="#001cff"/><stop offset="1.000" stop-color="#0000ff"/></linearGradient><linearGradient id="g47" gradientUnits="userSpaceOnUse" x1="411.3" y1="631.3" x2="966.2" y2="531.1"><stop offset="0.000" stop-color="#0006ff"/><stop offset="0.029" stop-color="#002aff"/><stop offset="0.057" stop-color="#0052ff"/><stop offset="0.086" stop-color="#007eff"/><stop offset="0.114" stop-color="#00b1ff"/><stop offset="0.143" stop-color="#02e8f4"/><stop offset="0.171" stop-color="#33ffc3"/><stop offset="0.200" stop-color="#67ff8f"/><stop offset="0.229" stop-color="#9dff5a"/><stop offset="0.257" stop-color="#d2ff25"/><stop offset="0.286" stop-color="#ffe400"/><stop offset="0.314" stop-color="#ffae00"/><stop offset="0.343" stop-color="#ff7d00"/><stop offset="0.371" stop-color="#ff5400"/><stop offset="0.400" stop-color="#ff3400"/><stop offset="0.429" stop-color="#ff1c00"/><stop offset="0.457" stop-color="#f70c00"/><stop offset="0.486" stop-color="#ef0600"/><stop offset="0.514" stop-color="#f20800"/><stop offset="0.543" stop-color="#ff1300"/><stop offset="0.571" stop-color="#ff2600"/><stop offset="0.600" stop-color="#ff4200"/><stop offset="0.629" stop-color="#ff6500"/><stop offset="0.657" stop-color="#ff8f00"/><stop offset="0.686" stop-color="#ffbe00"/><stop offset="0.714" stop-color="#faf100"/><stop offset="0.743" stop-color="#cbff2c"/><stop offset="0.771" stop-color="#98ff5f"/><stop offset="0.800" stop-color="#64ff93"/><stop offset="0.829" stop-color="#30ffc7"/><stop offset="0.857" stop-color="#00e4f8"/><stop offset="0.886" stop-color="#00abff"/><stop offset="0.914" stop-color="#0078ff"/><stop offset="0.943" stop-color="#0049ff"/><stop offset="0.971" stop-color="#001eff"/><stop offset="1.000" stop-color="#0000ff"/></linearGradient><linearGradient id="g48" gradientUnits="userSpaceOnUse" x1="412.7" y1="637.5" x2="967.7" y2="537.3"><stop offset="0.000" stop-color="#0008ff"/><stop offset="0.029" stop-color="#002cff"/><stop offset="0.057" stop-color="#0053ff"/><stop offset="0.086" stop-color="#007fff"/><stop offset="0.114" stop-color="#00b1ff"/><stop offset="0.143" stop-color="#03e9f4"/><stop offset="0.171" stop-color="#33ffc3"/><stop offset="0.200" stop-color="#67ff90"/><stop offset="0.229" stop-color="#9cff5b"/><stop offset="0.257" stop-color="#d1ff26"/><stop offset="0.286" stop-color="#ffe600"/><stop offset="0.314" stop-color="#ffb000"/><stop offset="0.343" stop-color="#ff8000"/><stop offset="0.371" stop-color="#ff5700"/><stop offset="0.400" stop-color="#ff3600"/><stop offset="0.429" stop-color="#ff1e00"/><stop offset="0.457" stop-color="#fa0f00"/><stop offset="0.486" stop-color="#f20800"/><stop offset="0.514" stop-color="#f40a00"/><stop offset="0.543" stop-color="#ff1500"/><stop offset="0.571" stop-color="#ff2800"/><stop offset="0.600" stop-color="#ff4300"/><stop offset="0.629" stop-color="#ff6600"/><stop offset="0.657" stop-color="#ff8f00"/><stop offset="0.686" stop-color="#ffbe00"/><stop offset="0.714" stop-color="#faf100"/><stop offset="0.743" stop-color="#cbff2c"/><stop offset="0.771" stop-color="#99ff5e"/><stop offset="0.800" stop-color="#65ff92"/><stop offset="0.829" stop-color="#31ffc6"/><stop offset="0.857" stop-color="#00e5f7"/><stop offset="0.886" stop-color="#00acff"/><stop offset="0.914" stop-color="#0079ff"/><stop offset="0.943" stop-color="#004aff"/><stop offset="0.971" stop-color="#001fff"/><stop offset="1.000" stop-color="#0000ff"/></linearGradient><linearGradient id="g49" gradientUnits="userSpaceOnUse" x1="414.1" y1="643.7" x2="969.3" y2="543.5"><stop offset="0.000" stop-color="#000bff"/><stop offset="0.029" stop-color="#002eff"/><stop offset="0.057" stop-color="#0055ff"/><stop offset="0.086" stop-color="#0080ff"/><stop offset="0.114" stop-color="#00b1ff"/><stop offset="0.143" stop-color="#03e9f4"/><stop offset="0.171" stop-color="#33ffc4"/><stop offset="0.200" stop-color="#67ff90"/><stop offset="0.229" stop-color="#9bff5b"/><stop offset="0.257" stop-color="#d0ff27"/><stop offset="0.286" stop-color="#ffe800"/><stop offset="0.314" stop-color="#ffb200"/><stop offset="0.343" stop-color="#ff8200"/><stop offset="0.371" stop-color="#ff5900"/><stop offset="0.400" stop-color="#ff3900"/><stop offset="0.429" stop-color="#ff2000"/><stop offset="0.457" stop-color="#fc1100"/><stop offset="0.486" stop-color="#f40a00"/><stop offset="0.514" stop-color="#f60c00"/><stop offset="0.543" stop-color="#ff1600"/><stop offset="0.571" stop-color="#ff2900"/><stop offset="0.600" stop-color="#ff4500"/><stop offset="0.629" stop-color="#ff6700"/><stop offset="0.657" stop-color="#ff9000"/><stop offset="0.686" stop-color="#ffbf00"/><stop offset="0.714" stop-color="#faf100"/><stop offset="0.743" stop-color="#cbff2c"/><stop offset="0.771" stop-color="#99ff5e"/><stop offset="0.800" stop-color="#65ff92"/><stop offset="0.829" stop-color="#32ffc5"/><stop offset="0.857" stop-color="#00e6f7"/><stop offset="0.886" stop-color="#00adff"/><stop offset="0.914" stop-color="#007aff"/><stop offset="0.943" stop-color="#004cff"/><stop offset="0.971" stop-color="#0021ff"/><stop offset="1.000" stop-color="#0000ff"/></linearGradient><linearGradient id="g50" gradientUnits="userSpaceOnUse" x1="415.5" y1="649.8" x2="970.9" y2="549.7"><stop offset="0.000" stop-color="#000eff"/><stop offset="0.029" stop-color="#0030ff"/><stop offset="0.057" stop-color="#0056ff"/><stop offset="0.086" stop-color="#0081ff"/><stop offset="0.114" stop-color="#00b2ff"/><stop offset="0.143" stop-color="#03e9f4"/><stop offset="0.171" stop-color="#33ffc4"/><stop offset="0.200" stop-color="#66ff90"/><stop offset="0.229" stop-color="#9bff5c"/><stop offset="0.257" stop-color="#cfff28"/><stop offset="0.286" stop-color="#ffea00"/><stop offset="0.314" stop-color="#ffb400"/><stop offset="0.343" stop-color="#ff8400"/><stop offset="0.371" stop-color="#ff5c00"/><stop offset="0.400" stop-color="#ff3b00"/><stop offset="0.429" stop-color="#ff2300"/><stop offset="0.457" stop-color="#ff1300"/><stop offset="0.486" stop-color="#f70c00"/><stop offset="0.514" stop-color="#f90e00"/><stop offset="0.543" stop-color="#ff1800"/><stop offset="0.571" stop-color="#ff2b00"/><stop offset="0.600" stop-color="#ff4600"/><stop offset="0.629" stop-color="#ff6800"/><stop offset="0.657" stop-color="#ff9100"/><stop offset="0.686" stop-color="#ffbf00"/><stop offset="0.714" stop-color="#faf200"/><stop offset="0.743" stop-color="#cbff2c"/><stop offset="0.771" stop-color="#99ff5e"/><stop offset="0.800" stop-color="#66ff91"/><stop offset="0.829" stop-color="#32ffc5"/><stop offset="0.857" stop-color="#01e7f6"/><stop offset="0.886" stop-color="#00afff"/><stop offset="0.914" stop-color="#007bff"/><stop offset="0.943" stop-color="#004dff"/><stop offset="0.971" stop-color="#0023ff"/><stop offset="1.000" stop-color="#0000ff"/></linearGradient><linearGradient id="g51" gradientUnits="userSpaceOnUse" x1="416.9" y1="656.0" x2="972.4" y2="555.9"><stop offset="0.000" stop-color="#0011ff"/><stop offset="0.029" stop-color="#0033ff"/><stop offset="0.057" stop-color="#0057ff"/><stop offset="0.086" stop-color="#0081ff"/><stop offset="0.114" stop-color="#00b2ff"/><stop offset="0.143" stop-color="#03e9f4"/><stop offset="0.171" stop-color="#33ffc4"/><stop offset="0.200" stop-color="#66ff91"/><stop offset="0.229" stop-color="#9aff5c"/><stop offset="0.257" stop-color="#ceff29"/><stop offset="0.286" stop-color="#ffeb00"/><stop offset="0.314" stop-color="#ffb600"/><stop offset="0.343" stop-color="#ff8700"/><stop offset="0.371" stop-color="#ff5e00"/><stop offset="0.400" stop-color="#ff3d00"/><stop offset="0.429" stop-color="#ff2500"/><stop offset="0.457" stop-color="#ff1500"/><stop offset="0.486" stop-color="#f90e00"/><stop offset="0.514" stop-color="#fb1000"/><stop offset="0.543" stop-color="#ff1a00"/><stop offset="0.571" stop-color="#ff2d00"/><stop offset="0.600" stop-color="#ff4700"/><stop offset="0.629" stop-color="#ff6900"/><stop offset="0.657" stop-color="#ff9200"/><stop offset="0.686" stop-color="#ffc000"/><stop offset="0.714" stop-color="#faf200"/><stop offset="0.743" stop-color="#caff2c"/><stop offset="0.771" stop-color="#99ff5e"/><stop offset="0.800" stop-color="#66ff91"/><stop offset="0.829" stop-color="#33ffc4"/><stop offset="0.857" stop-color="#02e8f5"/><stop offset="0.886" stop-color="#00b0ff"/><stop offset="0.914" stop-color="#007dff"/><stop offset="0.943" stop-color="#004fff"/><stop offset="0.971" stop-color="#0025ff"/><stop offset="1.000" stop-color="#0000ff"/></linearGradient><linearGradient id="g52" gradientUnits="userSpaceOnUse" x1="418.3" y1="662.2" x2="974.0" y2="562.2"><stop offset="0.000" stop-color="#0014ff"/><stop offset="0.029" stop-color="#0035ff"/><stop offset="0.057" stop-color="#0059ff"/><stop offset="0.086" stop-color="#0082ff"/><stop offset="0.114" stop-color="#00b2ff"/><stop offset="0.143" stop-color="#03e9f4"/><stop offset="0.171" stop-color="#33ffc4"/><stop offset="0.200" stop-color="#66ff91"/><stop offset="0.229" stop-color="#9aff5d"/><stop offset="0.257" stop-color="#cdff2a"/><stop offset="0.286" stop-color="#ffed00"/><stop offset="0.314" stop-color="#ffb800"/><stop offset="0.343" stop-color="#ff8900"/><stop offset="0.371" stop-color="#ff6000"/><stop offset="0.400" stop-color="#ff3f00"/><stop offset="0.429" stop-color="#ff2700"/><stop offset="0.457" stop-color="#ff1700"/><stop offset="0.486" stop-color="#fb1000"/><stop offset="0.514" stop-color="#fd1100"/><stop offset="0.543" stop-color="#ff1b00"/><stop offset="0.571" stop-color="#ff2e00"/><stop offset="0.600" stop-color="#ff4900"/><stop offset="0.629" stop-color="#ff6a00"/><stop offset="0.657" stop-color="#ff9300"/><stop offset="0.686" stop-color="#ffc100"/><stop offset="0.714" stop-color="#f9f300"/><stop offset="0.743" stop-color="#caff2d"/><stop offset="0.771" stop-color="#99ff5e"/><stop offset="0.800" stop-color="#66ff91"/><stop offset="0.829" stop-color="#34ffc3"/><stop offset="0.857" stop-color="#03eaf3"/><stop offset="0.886" stop-color="#00b2ff"/><stop offset="0.914" stop-color="#007fff"/><stop offset="0.943" stop-color="#0051ff"/><stop offset="0.971" stop-color="#0026ff"/><stop offset="1.000" stop-color="#0000ff"/></linearGradient><linearGradient id="g53" gradientUnits="userSpaceOnUse" x1="419.7" y1="668.4" x2="975.6" y2="568.4"><stop offset="0.000" stop-color="#0017ff"/><stop offset="0.029" stop-color="#0037ff"/><stop offset="0.057" stop-color="#005aff"/><stop offset="0.086" stop-color="#0083ff"/><stop offset="0.114" stop-color="#00b3ff"/><stop offset="0.143" stop-color="#03e9f4"/><stop offset="0.171" stop-color="#33ffc4"/><stop offset="0.200" stop-color="#66ff91"/><stop offset="0.229" stop-color="#99ff5d"/><stop offset="0.257" stop-color="#ccff2a"/><stop offset="0.286" stop-color="#feee00"/><stop offset="0.314" stop-color="#ffb900"/><stop offset="0.343" stop-color="#ff8a00"/><stop offset="0.371" stop-color="#ff6200"/><stop offset="0.400" stop-color="#ff4100"/><stop offset="0.429" stop-color="#ff2900"/><stop offset="0.457" stop-color="#ff1900"/><stop offset="0.486" stop-color="#fd1100"/><stop offset="0.514" stop-color="#ff1300"/><stop offset="0.543" stop-color="#ff1d00"/><stop offset="0.571" stop-color="#ff2f00"/><stop offset="0.600" stop-color="#ff4a00"/><stop offset="0.629" stop-color="#ff6c00"/><stop offset="0.657" stop-color="#ff9400"/><stop offset="0.686" stop-color="#ffc100"/><stop offset="0.714" stop-color="#f8f400"/><stop offset="0.743" stop-color="#caff2d"/><stop offset="0.771" stop-color="#98ff5e"/><stop offset="0.800" stop-color="#66ff90"/><stop offset="0.829" stop-color="#34ffc2"/><stop offset="0.857" stop-color="#04ebf2"/><stop offset="0.886" stop-color="#00b3ff"/><stop offset="0.914" stop-color="#0081ff"/><stop offset="0.943" stop-color="#0052ff"/><stop offset="0.971" stop-color="#0028ff"/><stop offset="1.000" stop-color="#0000ff"/></linearGradient><linearGradient id="g54" gradientUnits="userSpaceOnUse" x1="421.1" y1="674.5" x2="977.2" y2="574.6"><stop offset="0.000" stop-color="#001aff"/><stop offset="0.029" stop-color="#003aff"/><stop offset="0.057" stop-color="#005cff"/><stop offset="0.086" stop-color="#0085ff"/><stop offset="0.114" stop-color="#00b4ff"/><stop offset="0.143" stop-color="#04eaf3"/><stop offset="0.171" stop-color="#34ffc3"/><stop offset="0.200" stop-color="#66ff91"/><stop offset="0.229" stop-color="#99ff5e"/><stop offset="0.257" stop-color="#ccff2b"/><stop offset="0.286" stop-color="#fdef00"/><stop offset="0.314" stop-color="#ffbb00"/><stop offset="0.343" stop-color="#ff8c00"/><stop offset="0.371" stop-color="#ff6400"/><stop offset="0.400" stop-color="#ff4300"/><stop offset="0.429" stop-color="#ff2a00"/><stop offset="0.457" stop-color="#ff1a00"/><stop offset="0.486" stop-color="#ff1300"/><stop offset="0.514" stop-color="#ff1400"/><stop offset="0.543" stop-color="#ff1e00"/><stop offset="0.571" stop-color="#ff3100"/><stop offset="0.600" stop-color="#ff4b00"/><stop offset="0.629" stop-color="#ff6c00"/><stop offset="0.657" stop-color="#ff9500"/><stop offset="0.686" stop-color="#ffc200"/><stop offset="0.714" stop-color="#f8f400"/><stop offset="0.743" stop-color="#c9ff2e"/><stop offset="0.771" stop-color="#98ff5e"/><stop offset="0.800" stop-color="#67ff90"/><stop offset="0.829" stop-color="#35ffc2"/><stop offset="0.857" stop-color="#06ecf1"/><stop offset="0.886" stop-color="#00b5ff"/><stop offset="0.914" stop-color="#0082ff"/><stop offset="0.943" stop-color="#0054ff"/><stop offset="0.971" stop-color="#0029ff"/><stop offset="1.000" stop-color="#0001ff"/></linearGradient><linearGradient id="g55" gradientUnits="userSpaceOnUse" x1="422.4" y1="680.7" x2="978.8" y2="580.8"><stop offset="0.000" stop-color="#001dff"/><stop offset="0.029" stop-color="#003dff"/><stop offset="0.057" stop-color="#005fff"/><stop offset="0.086" stop-color="#0087ff"/><stop offset="0.114" stop-color="#00b5ff"/><stop offset="0.143" stop-color="#05ebf2"/><stop offset="0.171" stop-color="#34ffc3"/><stop offset="0.200" stop-color="#66ff91"/><stop offset="0.229" stop-color="#99ff5e"/><stop offset="0.257" stop-color="#cbff2b"/><stop offset="0.286" stop-color="#fcf000"/><stop offset="0.314" stop-color="#ffbc00"/><stop offset="0.343" stop-color="#ff8d00"/><stop offset="0.371" stop-color="#ff6500"/><stop offset="0.400" stop-color="#ff4500"/><stop offset="0.429" stop-color="#ff2c00"/><stop offset="0.457" stop-color="#ff1c00"/><stop offset="0.486" stop-color="#ff1400"/><stop offset="0.514" stop-color="#ff1600"/><stop offset="0.543" stop-color="#ff1f00"/><stop offset="0.571" stop-color="#ff3200"/><stop offset="0.600" stop-color="#ff4c00"/><stop offset="0.629" stop-color="#ff6d00"/><stop offset="0.657" stop-color="#ff9500"/><stop offset="0.686" stop-color="#ffc300"/><stop offset="0.714" stop-color="#f8f500"/><stop offset="0.743" stop-color="#c9ff2e"/><stop offset="0.771" stop-color="#98ff5e"/><stop offset="0.800" stop-color="#67ff90"/><stop offset="0.829" stop-color="#36ffc1"/><stop offset="0.857" stop-color="#06eef0"/><stop offset="0.886" stop-color="#00b7ff"/><stop offset="0.914" stop-color="#0084ff"/><stop offset="0.943" stop-color="#0056ff"/><stop offset="0.971" stop-color="#002bff"/><stop offset="1.000" stop-color="#0002ff"/></linearGradient><linearGradient id="g56" gradientUnits="userSpaceOnUse" x1="423.8" y1="686.9" x2="980.3" y2="587.0"><stop offset="0.000" stop-color="#0020ff"/><stop offset="0.029" stop-color="#0040ff"/><stop offset="0.057" stop-color="#0062ff"/><stop offset="0.086" stop-color="#008aff"/><stop offset="0.114" stop-color="#00b8ff"/><stop offset="0.143" stop-color="#06edf1"/><stop offset="0.171" stop-color="#35ffc2"/><stop offset="0.200" stop-color="#67ff90"/><stop offset="0.229" stop-color="#99ff5e"/><stop offset="0.257" stop-color="#cbff2c"/><stop offset="0.286" stop-color="#fbf100"/><stop offset="0.314" stop-color="#ffbd00"/><stop offset="0.343" stop-color="#ff8f00"/><stop offset="0.371" stop-color="#ff6700"/><stop offset="0.400" stop-color="#ff4600"/><stop offset="0.429" stop-color="#ff2d00"/><stop offset="0.457" stop-color="#ff1d00"/><stop offset="0.486" stop-color="#ff1600"/><stop offset="0.514" stop-color="#ff1700"/><stop offset="0.543" stop-color="#ff2000"/><stop offset="0.571" stop-color="#ff3200"/><stop offset="0.600" stop-color="#ff4d00"/><stop offset="0.629" stop-color="#ff6e00"/><stop offset="0.657" stop-color="#ff9600"/><stop offset="0.686" stop-color="#ffc300"/><stop offset="0.714" stop-color="#f7f500"/><stop offset="0.743" stop-color="#c9ff2e"/><stop offset="0.771" stop-color="#98ff5e"/><stop offset="0.800" stop-color="#67ff90"/><stop offset="0.829" stop-color="#36ffc0"/><stop offset="0.857" stop-color="#07efef"/><stop offset="0.886" stop-color="#00b8ff"/><stop offset="0.914" stop-color="#0086ff"/><stop offset="0.943" stop-color="#0057ff"/><stop offset="0.971" stop-color="#002cff"/><stop offset="1.000" stop-color="#0003ff"/></linearGradient><linearGradient id="g57" gradientUnits="userSpaceOnUse" x1="425.2" y1="693.1" x2="981.9" y2="593.2"><stop offset="0.000" stop-color="#0023ff"/><stop offset="0.029" stop-color="#0043ff"/><stop offset="0.057" stop-color="#0066ff"/><stop offset="0.086" stop-color="#008dff"/><stop offset="0.114" stop-color="#00bbff"/><stop offset="0.143" stop-color="#08efef"/><stop offset="0.171" stop-color="#36ffc0"/><stop offset="0.200" stop-color="#67ff90"/><stop offset="0.229" stop-color="#99ff5e"/><stop offset="0.257" stop-color="#cbff2c"/><stop offset="0.286" stop-color="#fbf100"/><stop offset="0.314" stop-color="#ffbe00"/><stop offset="0.343" stop-color="#ff9000"/><stop offset="0.371" stop-color="#ff6800"/><stop offset="0.400" stop-color="#ff4700"/><stop offset="0.429" stop-color="#ff2f00"/><stop offset="0.457" stop-color="#ff1e00"/><stop offset="0.486" stop-color="#ff1700"/><stop offset="0.514" stop-color="#ff1800"/><stop offset="0.543" stop-color="#ff2100"/><stop offset="0.571" stop-color="#ff3300"/><stop offset="0.600" stop-color="#ff4d00"/><stop offset="0.629" stop-color="#ff6e00"/><stop offset="0.657" stop-color="#ff9600"/><stop offset="0.686" stop-color="#ffc400"/><stop offset="0.714" stop-color="#f7f500"/><stop offset="0.743" stop-color="#c9ff2e"/><stop offset="0.771" stop-color="#98ff5e"/><stop offset="0.800" stop-color="#67ff8f"/><stop offset="0.829" stop-color="#37ffc0"/><stop offset="0.857" stop-color="#08f0ee"/><stop offset="0.886" stop-color="#00b9ff"/><stop offset="0.914" stop-color="#0087ff"/><stop offset="0.943" stop-color="#0059ff"/><stop offset="0.971" stop-color="#002eff"/><stop offset="1.000" stop-color="#0005ff"/></linearGradient><linearGradient id="g58" gradientUnits="userSpaceOnUse" x1="426.6" y1="699.2" x2="983.5" y2="599.4"><stop offset="0.000" stop-color="#0027ff"/><stop offset="0.029" stop-color="#0047ff"/><stop offset="0.057" stop-color="#006aff"/><stop offset="0.086" stop-color="#0091ff"/><stop offset="0.114" stop-color="#00beff"/><stop offset="0.143" stop-color="#0af2ed"/><stop offset="0.171" stop-color="#38ffbf"/><stop offset="0.200" stop-color="#68ff8f"/><stop offset="0.229" stop-color="#99ff5d"/><stop offset="0.257" stop-color="#cbff2c"/><stop offset="0.286" stop-color="#faf200"/><stop offset="0.314" stop-color="#ffbf00"/><stop offset="0.343" stop-color="#ff9100"/><stop offset="0.371" stop-color="#ff6900"/><stop offset="0.400" stop-color="#ff4800"/><stop offset="0.429" stop-color="#ff3000"/><stop offset="0.457" stop-color="#ff1f00"/><stop offset="0.486" stop-color="#ff1800"/><stop offset="0.514" stop-color="#ff1800"/><stop offset="0.543" stop-color="#ff2200"/><stop offset="0.571" stop-color="#ff3400"/><stop offset="0.600" stop-color="#ff4d00"/><stop offset="0.629" stop-color="#ff6f00"/><stop offset="0.657" stop-color="#ff9600"/><stop offset="0.686" stop-color="#ffc400"/><stop offset="0.714" stop-color="#f7f500"/><stop offset="0.743" stop-color="#c9ff2e"/><stop offset="0.771" stop-color="#99ff5e"/><stop offset="0.800" stop-color="#68ff8f"/><stop offset="0.829" stop-color="#38ffbf"/><stop offset="0.857" stop-color="#09f1ee"/><stop offset="0.886" stop-color="#00bbff"/><stop offset="0.914" stop-color="#0089ff"/><stop offset="0.943" stop-color="#005aff"/><stop offset="0.971" stop-color="#002fff"/><stop offset="1.000" stop-color="#0006ff"/></linearGradient><linearGradient id="g59" gradientUnits="userSpaceOnUse" x1="427.9" y1="705.4" x2="985.1" y2="605.6"><stop offset="0.000" stop-color="#002bff"/><stop offset="0.029" stop-color="#004bff"/><stop offset="0.057" stop-color="#006eff"/><stop offset="0.086" stop-color="#0095ff"/><stop offset="0.114" stop-color="#00c2ff"/><stop offset="0.143" stop-color="#0cf5ea"/><stop offset="0.171" stop-color="#39ffbd"/><stop offset="0.200" stop-color="#69ff8e"/><stop offset="0.229" stop-color="#9aff5d"/><stop offset="0.257" stop-color="#cbff2c"/><stop offset="0.286" stop-color="#faf200"/><stop offset="0.314" stop-color="#ffc000"/><stop offset="0.343" stop-color="#ff9200"/><stop offset="0.371" stop-color="#ff6a00"/><stop offset="0.400" stop-color="#ff4900"/><stop offset="0.429" stop-color="#ff3100"/><stop offset="0.457" stop-color="#ff2000"/><stop offset="0.486" stop-color="#ff1800"/><stop offset="0.514" stop-color="#ff1900"/><stop offset="0.543" stop-color="#ff2200"/><stop offset="0.571" stop-color="#ff3400"/><stop offset="0.600" stop-color="#ff4e00"/><stop offset="0.629" stop-color="#ff6f00"/><stop offset="0.657" stop-color="#ff9600"/><stop offset="0.686" stop-color="#ffc400"/><stop offset="0.714" stop-color="#f7f500"/><stop offset="0.743" stop-color="#c9ff2e"/><stop offset="0.771" stop-color="#99ff5e"/><stop offset="0.800" stop-color="#68ff8f"/><stop offset="0.829" stop-color="#38ffbf"/><stop offset="0.857" stop-color="#0af2ed"/><stop offset="0.886" stop-color="#00bcff"/><stop offset="0.914" stop-color="#008aff"/><stop offset="0.943" stop-color="#005cff"/><stop offset="0.971" stop-color="#0031ff"/><stop offset="1.000" stop-color="#0008ff"/></linearGradient><linearGradient id="g60" gradientUnits="userSpaceOnUse" x1="429.3" y1="711.6" x2="986.7" y2="611.9"><stop offset="0.000" stop-color="#002fff"/><stop offset="0.029" stop-color="#004fff"/><stop offset="0.057" stop-color="#0072ff"/><stop offset="0.086" stop-color="#0099ff"/><stop offset="0.114" stop-color="#00c6ff"/><stop offset="0.143" stop-color="#0ff8e8"/><stop offset="0.171" stop-color="#3bffbc"/><stop offset="0.200" stop-color="#6aff8d"/><stop offset="0.229" stop-color="#9aff5c"/><stop offset="0.257" stop-color="#cbff2c"/><stop offset="0.286" stop-color="#f9f300"/><stop offset="0.314" stop-color="#ffc000"/><stop offset="0.343" stop-color="#ff9200"/><stop offset="0.371" stop-color="#ff6b00"/><stop offset="0.400" stop-color="#ff4a00"/><stop offset="0.429" stop-color="#ff3100"/><stop offset="0.457" stop-color="#ff2100"/><stop offset="0.486" stop-color="#ff1900"/><stop offset="0.514" stop-color="#ff1900"/><stop offset="0.543" stop-color="#ff2200"/><stop offset="0.571" stop-color="#ff3400"/><stop offset="0.600" stop-color="#ff4d00"/><stop offset="0.629" stop-color="#ff6f00"/><stop offset="0.657" stop-color="#ff9600"/><stop offset="0.686" stop-color="#ffc300"/><stop offset="0.714" stop-color="#f7f500"/><stop offset="0.743" stop-color="#c9ff2d"/><stop offset="0.771" stop-color="#99ff5d"/><stop offset="0.800" stop-color="#69ff8e"/><stop offset="0.829" stop-color="#39ffbe"/><stop offset="0.857" stop-color="#0bf3ec"/><stop offset="0.886" stop-color="#00bdff"/><stop offset="0.914" stop-color="#008bff"/><stop offset="0.943" stop-color="#005dff"/><stop offset="0.971" stop-color="#0032ff"/><stop offset="1.000" stop-color="#000aff"/></linearGradient><linearGradient id="g61" gradientUnits="userSpaceOnUse" x1="430.7" y1="717.8" x2="988.3" y2="618.1"><stop offset="0.000" stop-color="#0034ff"/><stop offset="0.029" stop-color="#0054ff"/><stop offset="0.057" stop-color="#0077ff"/><stop offset="0.086" stop-color="#009dff"/><stop offset="0.114" stop-color="#00c9ff"/><stop offset="0.143" stop-color="#11fbe6"/><stop offset="0.171" stop-color="#3dffba"/><stop offset="0.200" stop-color="#6bff8c"/><stop offset="0.229" stop-color="#9bff5c"/><stop offset="0.257" stop-color="#cbff2c"/><stop offset="0.286" stop-color="#f9f300"/><stop offset="0.314" stop-color="#ffc100"/><stop offset="0.343" stop-color="#ff9300"/><stop offset="0.371" stop-color="#ff6c00"/><stop offset="0.400" stop-color="#ff4b00"/><stop offset="0.429" stop-color="#ff3200"/><stop offset="0.457" stop-color="#ff2200"/><stop offset="0.486" stop-color="#ff1900"/><stop offset="0.514" stop-color="#ff1a00"/><stop offset="0.543" stop-color="#ff2200"/><stop offset="0.571" stop-color="#ff3400"/><stop offset="0.600" stop-color="#ff4d00"/><stop offset="0.629" stop-color="#ff6e00"/><stop offset="0.657" stop-color="#ff9600"/><stop offset="0.686" stop-color="#ffc300"/><stop offset="0.714" stop-color="#f8f400"/><stop offset="0.743" stop-color="#caff2d"/><stop offset="0.771" stop-color="#9aff5d"/><stop offset="0.800" stop-color="#6aff8d"/><stop offset="0.829" stop-color="#3affbd"/><stop offset="0.857" stop-color="#0cf4eb"/><stop offset="0.886" stop-color="#00bfff"/><stop offset="0.914" stop-color="#008dff"/><stop offset="0.943" stop-color="#005fff"/><stop offset="0.971" stop-color="#0034ff"/><stop offset="1.000" stop-color="#000cff"/></linearGradient><linearGradient id="g62" gradientUnits="userSpaceOnUse" x1="432.0" y1="723.9" x2="989.8" y2="624.3"><stop offset="0.000" stop-color="#0039ff"/><stop offset="0.029" stop-color="#0059ff"/><stop offset="0.057" stop-color="#007bff"/><stop offset="0.086" stop-color="#00a2ff"/><stop offset="0.114" stop-color="#00cdff"/><stop offset="0.143" stop-color="#14fee3"/><stop offset="0.171" stop-color="#3fffb8"/><stop offset="0.200" stop-color="#6cff8a"/><stop offset="0.229" stop-color="#9cff5b"/><stop offset="0.257" stop-color="#cbff2c"/><stop offset="0.286" stop-color="#f9f300"/><stop offset="0.314" stop-color="#ffc100"/><stop offset="0.343" stop-color="#ff9400"/><stop offset="0.371" stop-color="#ff6c00"/><stop offset="0.400" stop-color="#ff4c00"/><stop offset="0.429" stop-color="#ff3300"/><stop offset="0.457" stop-color="#ff2200"/><stop offset="0.486" stop-color="#ff1a00"/><stop offset="0.514" stop-color="#ff1a00"/><stop offset="0.543" stop-color="#ff2200"/><stop offset="0.571" stop-color="#ff3300"/><stop offset="0.600" stop-color="#ff4d00"/><stop offset="0.629" stop-color="#ff6e00"/><stop offset="0.657" stop-color="#ff9500"/><stop offset="0.686" stop-color="#ffc200"/><stop offset="0.714" stop-color="#f9f300"/><stop offset="0.743" stop-color="#cbff2c"/><stop offset="0.771" stop-color="#9bff5c"/><stop offset="0.800" stop-color="#6bff8c"/><stop offset="0.829" stop-color="#3bffbc"/><stop offset="0.857" stop-color="#0df5ea"/><stop offset="0.886" stop-color="#00c0ff"/><stop offset="0.914" stop-color="#008fff"/><stop offset="0.943" stop-color="#0061ff"/><stop offset="0.971" stop-color="#0036ff"/><stop offset="1.000" stop-color="#000eff"/></linearGradient><linearGradient id="g63" gradientUnits="userSpaceOnUse" x1="433.4" y1="730.1" x2="991.4" y2="630.5"><stop offset="0.000" stop-color="#003eff"/><stop offset="0.029" stop-color="#005dff"/><stop offset="0.057" stop-color="#0080ff"/><stop offset="0.086" stop-color="#00a6ff"/><stop offset="0.114" stop-color="#00d1ff"/><stop offset="0.143" stop-color="#16ffe1"/><stop offset="0.171" stop-color="#41ffb6"/><stop offset="0.200" stop-color="#6eff89"/><stop offset="0.229" stop-color="#9cff5a"/><stop offset="0.257" stop-color="#cbff2c"/><stop offset="0.286" stop-color="#f9f300"/><stop offset="0.314" stop-color="#ffc200"/><stop offset="0.343" stop-color="#ff9400"/><stop offset="0.371" stop-color="#ff6d00"/><stop offset="0.400" stop-color="#ff4c00"/><stop offset="0.429" stop-color="#ff3300"/><stop offset="0.457" stop-color="#ff2200"/><stop offset="0.486" stop-color="#ff1a00"/><stop offset="0.514" stop-color="#ff1a00"/><stop offset="0.543" stop-color="#ff2200"/><stop offset="0.571" stop-color="#ff3300"/><stop offset="0.600" stop-color="#ff4c00"/><stop offset="0.629" stop-color="#ff6d00"/><stop offset="0.657" stop-color="#ff9400"/><stop offset="0.686" stop-color="#ffc100"/><stop offset="0.714" stop-color="#faf200"/><stop offset="0.743" stop-color="#ccff2a"/><stop offset="0.771" stop-color="#9dff5a"/><stop offset="0.800" stop-color="#6cff8b"/><stop offset="0.829" stop-color="#3cffbb"/><stop offset="0.857" stop-color="#0ef7e9"/><stop offset="0.886" stop-color="#00c1ff"/><stop offset="0.914" stop-color="#0090ff"/><stop offset="0.943" stop-color="#0063ff"/><stop offset="0.971" stop-color="#0038ff"/><stop offset="1.000" stop-color="#0010ff"/></linearGradient><linearGradient id="g64" gradientUnits="userSpaceOnUse" x1="434.7" y1="736.3" x2="993.0" y2="636.7"><stop offset="0.000" stop-color="#0043ff"/><stop offset="0.029" stop-color="#0062ff"/><stop offset="0.057" stop-color="#0084ff"/><stop offset="0.086" stop-color="#00aaff"/><stop offset="0.114" stop-color="#00d5ff"/><stop offset="0.143" stop-color="#19ffde"/><stop offset="0.171" stop-color="#42ffb4"/><stop offset="0.200" stop-color="#6fff88"/><stop offset="0.229" stop-color="#9dff5a"/><stop offset="0.257" stop-color="#ccff2b"/><stop offset="0.286" stop-color="#f9f300"/><stop offset="0.314" stop-color="#ffc200"/><stop offset="0.343" stop-color="#ff9500"/><stop offset="0.371" stop-color="#ff6e00"/><stop offset="0.400" stop-color="#ff4d00"/><stop offset="0.429" stop-color="#ff3400"/><stop offset="0.457" stop-color="#ff2300"/><stop offset="0.486" stop-color="#ff1a00"/><stop offset="0.514" stop-color="#ff1a00"/><stop offset="0.543" stop-color="#ff2200"/><stop offset="0.571" stop-color="#ff3200"/><stop offset="0.600" stop-color="#ff4b00"/><stop offset="0.629" stop-color="#ff6c00"/><stop offset="0.657" stop-color="#ff9300"/><stop offset="0.686" stop-color="#ffbf00"/><stop offset="0.714" stop-color="#fbf000"/><stop offset="0.743" stop-color="#ceff29"/><stop offset="0.771" stop-color="#9eff58"/><stop offset="0.800" stop-color="#6dff89"/><stop offset="0.829" stop-color="#3dffba"/><stop offset="0.857" stop-color="#0ff8e8"/><stop offset="0.886" stop-color="#00c3ff"/><stop offset="0.914" stop-color="#0092ff"/><stop offset="0.943" stop-color="#0065ff"/><stop offset="0.971" stop-color="#003aff"/><stop offset="1.000" stop-color="#0012ff"/></linearGradient><linearGradient id="g65" gradientUnits="userSpaceOnUse" x1="436.1" y1="742.5" x2="994.6" y2="642.9"><stop offset="0.000" stop-color="#0048ff"/><stop offset="0.029" stop-color="#0067ff"/><stop offset="0.057" stop-color="#0089ff"/><stop offset="0.086" stop-color="#00aeff"/><stop offset="0.114" stop-color="#00d8ff"/><stop offset="0.143" stop-color="#1bffdc"/><stop offset="0.171" stop-color="#44ffb2"/><stop offset="0.200" stop-color="#71ff86"/><stop offset="0.229" stop-color="#9eff59"/><stop offset="0.257" stop-color="#ccff2a"/><stop offset="0.286" stop-color="#f9f300"/><stop offset="0.314" stop-color="#ffc200"/><stop offset="0.343" stop-color="#ff9500"/><stop offset="0.371" stop-color="#ff6e00"/><stop offset="0.400" stop-color="#ff4d00"/><stop offset="0.429" stop-color="#ff3400"/><stop offset="0.457" stop-color="#ff2300"/><stop offset="0.486" stop-color="#ff1a00"/><stop offset="0.514" stop-color="#ff1a00"/><stop offset="0.543" stop-color="#ff2200"/><stop offset="0.571" stop-color="#ff3200"/><stop offset="0.600" stop-color="#ff4a00"/><stop offset="0.629" stop-color="#ff6b00"/><stop offset="0.657" stop-color="#ff9100"/><stop offset="0.686" stop-color="#ffbe00"/><stop offset="0.714" stop-color="#fdee00"/><stop offset="0.743" stop-color="#d0ff27"/><stop offset="0.771" stop-color="#a0ff56"/><stop offset="0.800" stop-color="#6fff87"/><stop offset="0.829" stop-color="#3fffb8"/><stop offset="0.857" stop-color="#11fae6"/><stop offset="0.886" stop-color="#00c5ff"/><stop offset="0.914" stop-color="#0094ff"/><stop offset="0.943" stop-color="#0067ff"/><stop offset="0.971" stop-color="#003dff"/><stop offset="1.000" stop-color="#0015ff"/></linearGradient><linearGradient id="g66" gradientUnits="userSpaceOnUse" x1="437.4" y1="748.6" x2="996.2" y2="649.1"><stop offset="0.000" stop-color="#004dff"/><stop offset="0.029" stop-color="#006cff"/><stop offset="0.057" stop-color="#008eff"/><stop offset="0.086" stop-color="#00b3ff"/><stop offset="0.114" stop-color="#00dcfe"/><stop offset="0.143" stop-color="#1effd9"/><stop offset="0.171" stop-color="#46ffb0"/><stop offset="0.200" stop-color="#72ff85"/><stop offset="0.229" stop-color="#9fff57"/><stop offset="0.257" stop-color="#cdff2a"/><stop offset="0.286" stop-color="#faf200"/><stop offset="0.314" stop-color="#ffc100"/><stop offset="0.343" stop-color="#ff9500"/><stop offset="0.371" stop-color="#ff6e00"/><stop offset="0.400" stop-color="#ff4e00"/><stop offset="0.429" stop-color="#ff3500"/><stop offset="0.457" stop-color="#ff2300"/><stop offset="0.486" stop-color="#ff1a00"/><stop offset="0.514" stop-color="#ff1a00"/><stop offset="0.543" stop-color="#ff2100"/><stop offset="0.571" stop-color="#ff3100"/><stop offset="0.600" stop-color="#ff4900"/><stop offset="0.629" stop-color="#ff6900"/><stop offset="0.657" stop-color="#ff9000"/><stop offset="0.686" stop-color="#ffbb00"/><stop offset="0.714" stop-color="#ffec00"/><stop offset="0.743" stop-color="#d3ff24"/><stop offset="0.771" stop-color="#a3ff54"/><stop offset="0.800" stop-color="#72ff85"/><stop offset="0.829" stop-color="#41ffb5"/><stop offset="0.857" stop-color="#13fde4"/><stop offset="0.886" stop-color="#00c8ff"/><stop offset="0.914" stop-color="#0097ff"/><stop offset="0.943" stop-color="#006aff"/><stop offset="0.971" stop-color="#0040ff"/><stop offset="1.000" stop-color="#0017ff"/></linearGradient><linearGradient id="g67" gradientUnits="userSpaceOnUse" x1="438.7" y1="754.8" x2="997.8" y2="655.3"><stop offset="0.000" stop-color="#0053ff"/><stop offset="0.029" stop-color="#0071ff"/><stop offset="0.057" stop-color="#0092ff"/><stop offset="0.086" stop-color="#00b7ff"/><stop offset="0.114" stop-color="#00e0fb"/><stop offset="0.143" stop-color="#20ffd7"/><stop offset="0.171" stop-color="#48ffae"/><stop offset="0.200" stop-color="#74ff83"/><stop offset="0.229" stop-color="#a1ff56"/><stop offset="0.257" stop-color="#ceff29"/><stop offset="0.286" stop-color="#faf100"/><stop offset="0.314" stop-color="#ffc100"/><stop offset="0.343" stop-color="#ff9500"/><stop offset="0.371" stop-color="#ff6e00"/><stop offset="0.400" stop-color="#ff4e00"/><stop offset="0.429" stop-color="#ff3500"/><stop offset="0.457" stop-color="#ff2300"/><stop offset="0.486" stop-color="#ff1a00"/><stop offset="0.514" stop-color="#ff1a00"/><stop offset="0.543" stop-color="#ff2100"/><stop offset="0.571" stop-color="#ff3100"/><stop offset="0.600" stop-color="#ff4800"/><stop offset="0.629" stop-color="#ff6800"/><stop offset="0.657" stop-color="#ff8e00"/><stop offset="0.686" stop-color="#ffb900"/><stop offset="0.714" stop-color="#ffe900"/><stop offset="0.743" stop-color="#d5ff22"/><stop offset="0.771" stop-color="#a6ff51"/><stop offset="0.800" stop-color="#75ff82"/><stop offset="0.829" stop-color="#44ffb2"/><stop offset="0.857" stop-color="#16ffe1"/><stop offset="0.886" stop-color="#00cbff"/><stop offset="0.914" stop-color="#009aff"/><stop offset="0.943" stop-color="#006dff"/><stop offset="0.971" stop-color="#0043ff"/><stop offset="1.000" stop-color="#001aff"/></linearGradient><linearGradient id="g68" gradientUnits="userSpaceOnUse" x1="440.0" y1="761.0" x2="999.4" y2="661.6"><stop offset="0.000" stop-color="#0058ff"/><stop offset="0.029" stop-color="#0077ff"/><stop offset="0.057" stop-color="#0097ff"/><stop offset="0.086" stop-color="#00bbff"/><stop offset="0.114" stop-color="#00e3f8"/><stop offset="0.143" stop-color="#23ffd4"/><stop offset="0.171" stop-color="#4bffac"/><stop offset="0.200" stop-color="#75ff81"/><stop offset="0.229" stop-color="#a2ff55"/><stop offset="0.257" stop-color="#cfff28"/><stop offset="0.286" stop-color="#fbf100"/><stop offset="0.314" stop-color="#ffc000"/><stop offset="0.343" stop-color="#ff9500"/><stop offset="0.371" stop-color="#ff6e00"/><stop offset="0.400" stop-color="#ff4e00"/><stop offset="0.429" stop-color="#ff3500"/><stop offset="0.457" stop-color="#ff2400"/><stop offset="0.486" stop-color="#ff1b00"/><stop offset="0.514" stop-color="#ff1a00"/><stop offset="0.543" stop-color="#ff2100"/><stop offset="0.571" stop-color="#ff3000"/><stop offset="0.600" stop-color="#ff4800"/><stop offset="0.629" stop-color="#ff6600"/><stop offset="0.657" stop-color="#ff8c00"/><stop offset="0.686" stop-color="#ffb700"/><stop offset="0.714" stop-color="#ffe600"/><stop offset="0.743" stop-color="#d8ff1f"/><stop offset="0.771" stop-color="#a9ff4d"/><stop offset="0.800" stop-color="#79ff7e"/><stop offset="0.829" stop-color="#48ffaf"/><stop offset="0.857" stop-color="#19ffdd"/><stop offset="0.886" stop-color="#00cfff"/><stop offset="0.914" stop-color="#009eff"/><stop offset="0.943" stop-color="#0070ff"/><stop offset="0.971" stop-color="#0046ff"/><stop offset="1.000" stop-color="#001eff"/></linearGradient><linearGradient id="g69" gradientUnits="userSpaceOnUse" x1="441.4" y1="767.2" x2="1001.0" y2="667.8"><stop offset="0.000" stop-color="#005dff"/><stop offset="0.029" stop-color="#007cff"/><stop offset="0.057" stop-color="#009bff"/><stop offset="0.086" stop-color="#00bfff"/><stop offset="0.114" stop-color="#01e7f5"/><stop offset="0.143" stop-color="#25ffd1"/><stop offset="0.171" stop-color="#4dffaa"/><stop offset="0.200" stop-color="#77ff7f"/><stop offset="0.229" stop-color="#a4ff53"/><stop offset="0.257" stop-color="#d0ff26"/><stop offset="0.286" stop-color="#fcef00"/><stop offset="0.314" stop-color="#ffc000"/><stop offset="0.343" stop-color="#ff9400"/><stop offset="0.371" stop-color="#ff6e00"/><stop offset="0.400" stop-color="#ff4e00"/><stop offset="0.429" stop-color="#ff3500"/><stop offset="0.457" stop-color="#ff2400"/><stop offset="0.486" stop-color="#ff1b00"/><stop offset="0.514" stop-color="#ff1a00"/><stop offset="0.543" stop-color="#ff2100"/><stop offset="0.571" stop-color="#ff3000"/><stop offset="0.600" stop-color="#ff4700"/><stop offset="0.629" stop-color="#ff6500"/><stop offset="0.657" stop-color="#ff8a00"/><stop offset="0.686" stop-color="#ffb400"/><stop offset="0.714" stop-color="#ffe300"/><stop offset="0.743" stop-color="#dbff1b"/><stop offset="0.771" stop-color="#adff4a"/><stop offset="0.800" stop-color="#7dff7a"/><stop offset="0.829" stop-color="#4cffab"/><stop offset="0.857" stop-color="#1dffd9"/><stop offset="0.886" stop-color="#00d3ff"/><stop offset="0.914" stop-color="#00a2ff"/><stop offset="0.943" stop-color="#0074ff"/><stop offset="0.971" stop-color="#0049ff"/><stop offset="1.000" stop-color="#0021ff"/></linearGradient><linearGradient id="g70" gradientUnits="userSpaceOnUse" x1="442.7" y1="773.3" x2="1002.6" y2="674.0"><stop offset="0.000" stop-color="#0062ff"/><stop offset="0.029" stop-color="#0080ff"/><stop offset="0.057" stop-color="#00a0ff"/><stop offset="0.086" stop-color="#00c4ff"/><stop offset="0.114" stop-color="#05ebf2"/><stop offset="0.143" stop-color="#28ffce"/><stop offset="0.171" stop-color="#4fffa7"/><stop offset="0.200" stop-color="#79ff7d"/><stop offset="0.229" stop-color="#a5ff51"/><stop offset="0.257" stop-color="#d2ff25"/><stop offset="0.286" stop-color="#fdee00"/><stop offset="0.314" stop-color="#ffbf00"/><stop offset="0.343" stop-color="#ff9300"/><stop offset="0.371" stop-color="#ff6d00"/><stop offset="0.400" stop-color="#ff4e00"/><stop offset="0.429" stop-color="#ff3500"/><stop offset="0.457" stop-color="#ff2400"/><stop offset="0.486" stop-color="#ff1b00"/><stop offset="0.514" stop-color="#ff1a00"/><stop offset="0.543" stop-color="#ff2100"/><stop offset="0.571" stop-color="#ff3000"/><stop offset="0.600" stop-color="#ff4600"/><stop offset="0.629" stop-color="#ff6400"/><stop offset="0.657" stop-color="#ff8800"/><stop offset="0.686" stop-color="#ffb200"/><stop offset="0.714" stop-color="#ffe000"/><stop offset="0.743" stop-color="#dfff18"/><stop offset="0.771" stop-color="#b1ff46"/><stop offset="0.800" stop-color="#81ff76"/><stop offset="0.829" stop-color="#51ffa6"/><stop offset="0.857" stop-color="#22ffd5"/><stop offset="0.886" stop-color="#00d8ff"/><stop offset="0.914" stop-color="#00a6ff"/><stop offset="0.943" stop-color="#0078ff"/><stop offset="0.971" stop-color="#004dff"/><stop offset="1.000" stop-color="#0024ff"/></linearGradient><linearGradient id="g71" gradientUnits="userSpaceOnUse" x1="444.0" y1="779.5" x2="1004.3" y2="680.2"><stop offset="0.000" stop-color="#0067ff"/><stop offset="0.029" stop-color="#0085ff"/><stop offset="0.057" stop-color="#00a5ff"/><stop offset="0.086" stop-color="#00c8ff"/><stop offset="0.114" stop-color="#08f0ef"/><stop offset="0.143" stop-color="#2cffcb"/><stop offset="0.171" stop-color="#52ffa5"/><stop offset="0.200" stop-color="#7cff7b"/><stop offset="0.229" stop-color="#a7ff4f"/><stop offset="0.257" stop-color="#d4ff23"/><stop offset="0.286" stop-color="#ffec00"/><stop offset="0.314" stop-color="#ffbd00"/><stop offset="0.343" stop-color="#ff9200"/><stop offset="0.371" stop-color="#ff6d00"/><stop offset="0.400" stop-color="#ff4d00"/><stop offset="0.429" stop-color="#ff3500"/><stop offset="0.457" stop-color="#ff2500"/><stop offset="0.486" stop-color="#ff1c00"/><stop offset="0.514" stop-color="#ff1b00"/><stop offset="0.543" stop-color="#ff2200"/><stop offset="0.571" stop-color="#ff3000"/><stop offset="0.600" stop-color="#ff4600"/><stop offset="0.629" stop-color="#ff6400"/><stop offset="0.657" stop-color="#ff8700"/><stop offset="0.686" stop-color="#ffb000"/><stop offset="0.714" stop-color="#ffdd00"/><stop offset="0.743" stop-color="#e2ff15"/><stop offset="0.771" stop-color="#b4ff42"/><stop offset="0.800" stop-color="#85ff72"/><stop offset="0.829" stop-color="#55ffa2"/><stop offset="0.857" stop-color="#26ffd1"/><stop offset="0.886" stop-color="#00ddfd"/><stop offset="0.914" stop-color="#00aaff"/><stop offset="0.943" stop-color="#007cff"/><stop offset="0.971" stop-color="#0050ff"/><stop offset="1.000" stop-color="#0027ff"/></linearGradient><linearGradient id="g72" gradientUnits="userSpaceOnUse" x1="445.3" y1="785.7" x2="1005.9" y2="686.4"><stop offset="0.000" stop-color="#006cff"/><stop offset="0.029" stop-color="#008aff"/><stop offset="0.057" stop-color="#00aaff"/><stop offset="0.086" stop-color="#00cdff"/><stop offset="0.114" stop-color="#0cf4eb"/><stop offset="0.143" stop-color="#2fffc8"/><stop offset="0.171" stop-color="#55ffa1"/><stop offset="0.200" stop-color="#7fff78"/><stop offset="0.229" stop-color="#aaff4d"/><stop offset="0.257" stop-color="#d6ff21"/><stop offset="0.286" stop-color="#ffea00"/><stop offset="0.314" stop-color="#ffbc00"/><stop offset="0.343" stop-color="#ff9100"/><stop offset="0.371" stop-color="#ff6c00"/><stop offset="0.400" stop-color="#ff4d00"/><stop offset="0.429" stop-color="#ff3500"/><stop offset="0.457" stop-color="#ff2500"/><stop offset="0.486" stop-color="#ff1d00"/><stop offset="0.514" stop-color="#ff1c00"/><stop offset="0.543" stop-color="#ff2300"/><stop offset="0.571" stop-color="#ff3100"/><stop offset="0.600" stop-color="#ff4700"/><stop offset="0.629" stop-color="#ff6400"/><stop offset="0.657" stop-color="#ff8600"/><stop offset="0.686" stop-color="#ffae00"/><stop offset="0.714" stop-color="#ffdb00"/><stop offset="0.743" stop-color="#e5ff12"/><stop offset="0.771" stop-color="#b8ff3f"/><stop offset="0.800" stop-color="#89ff6d"/><stop offset="0.829" stop-color="#5aff9d"/><stop offset="0.857" stop-color="#2affcc"/><stop offset="0.886" stop-color="#00e2f9"/><stop offset="0.914" stop-color="#00afff"/><stop offset="0.943" stop-color="#0080ff"/><stop offset="0.971" stop-color="#0054ff"/><stop offset="1.000" stop-color="#002aff"/></linearGradient><linearGradient id="g73" gradientUnits="userSpaceOnUse" x1="446.6" y1="791.9" x2="1007.5" y2="692.6"><stop offset="0.000" stop-color="#0071ff"/><stop offset="0.029" stop-color="#008fff"/><stop offset="0.057" stop-color="#00afff"/><stop offset="0.086" stop-color="#00d2ff"/><stop offset="0.114" stop-color="#10fae7"/><stop offset="0.143" stop-color="#33ffc4"/><stop offset="0.171" stop-color="#59ff9e"/><stop offset="0.200" stop-color="#82ff75"/><stop offset="0.229" stop-color="#adff4a"/><stop offset="0.257" stop-color="#d8ff1f"/><stop offset="0.286" stop-color="#ffe800"/><stop offset="0.314" stop-color="#ffba00"/><stop offset="0.343" stop-color="#ff9000"/><stop offset="0.371" stop-color="#ff6b00"/><stop offset="0.400" stop-color="#ff4d00"/><stop offset="0.429" stop-color="#ff3600"/><stop offset="0.457" stop-color="#ff2600"/><stop offset="0.486" stop-color="#ff1e00"/><stop offset="0.514" stop-color="#ff1d00"/><stop offset="0.543" stop-color="#ff2400"/><stop offset="0.571" stop-color="#ff3200"/><stop offset="0.600" stop-color="#ff4800"/><stop offset="0.629" stop-color="#ff6400"/><stop offset="0.657" stop-color="#ff8600"/><stop offset="0.686" stop-color="#ffad00"/><stop offset="0.714" stop-color="#ffd900"/><stop offset="0.743" stop-color="#e7ff10"/><stop offset="0.771" stop-color="#bbff3b"/><stop offset="0.800" stop-color="#8dff6a"/><stop offset="0.829" stop-color="#5eff99"/><stop offset="0.857" stop-color="#2fffc8"/><stop offset="0.886" stop-color="#02e7f5"/><stop offset="0.914" stop-color="#00b4ff"/><stop offset="0.943" stop-color="#0084ff"/><stop offset="0.971" stop-color="#0057ff"/><stop offset="1.000" stop-color="#002eff"/></linearGradient><linearGradient id="g74" gradientUnits="userSpaceOnUse" x1="447.9" y1="798.0" x2="1009.1" y2="698.8"><stop offset="0.000" stop-color="#0075ff"/><stop offset="0.029" stop-color="#0093ff"/><stop offset="0.057" stop-color="#00b4ff"/><stop offset="0.086" stop-color="#00d7ff"/><stop offset="0.114" stop-color="#15ffe2"/><stop offset="0.143" stop-color="#38ffbf"/><stop offset="0.171" stop-color="#5dff9a"/><stop offset="0.200" stop-color="#86ff71"/><stop offset="0.229" stop-color="#b0ff47"/><stop offset="0.257" stop-color="#dbff1c"/><stop offset="0.286" stop-color="#ffe500"/><stop offset="0.314" stop-color="#ffb800"/><stop offset="0.343" stop-color="#ff8f00"/><stop offset="0.371" stop-color="#ff6a00"/><stop offset="0.400" stop-color="#ff4d00"/><stop offset="0.429" stop-color="#ff3600"/><stop offset="0.457" stop-color="#ff2700"/><stop offset="0.486" stop-color="#ff1f00"/><stop offset="0.514" stop-color="#ff1f00"/><stop offset="0.543" stop-color="#ff2600"/><stop offset="0.571" stop-color="#ff3400"/><stop offset="0.600" stop-color="#ff4900"/><stop offset="0.629" stop-color="#ff6500"/><stop offset="0.657" stop-color="#ff8600"/><stop offset="0.686" stop-color="#ffad00"/><stop offset="0.714" stop-color="#ffd700"/><stop offset="0.743" stop-color="#e9ff0e"/><stop offset="0.771" stop-color="#beff39"/><stop offset="0.800" stop-color="#91ff66"/><stop offset="0.829" stop-color="#62ff95"/><stop offset="0.857" stop-color="#33ffc4"/><stop offset="0.886" stop-color="#05ecf1"/><stop offset="0.914" stop-color="#00b8ff"/><stop offset="0.943" stop-color="#0088ff"/><stop offset="0.971" stop-color="#005bff"/><stop offset="1.000" stop-color="#0031ff"/></linearGradient><linearGradient id="g75" gradientUnits="userSpaceOnUse" x1="449.2" y1="804.2" x2="1010.7" y2="705.0"><stop offset="0.000" stop-color="#0079ff"/><stop offset="0.029" stop-color="#0098ff"/><stop offset="0.057" stop-color="#00b9ff"/><stop offset="0.086" stop-color="#00ddfe"/><stop offset="0.114" stop-color="#19ffde"/><stop offset="0.143" stop-color="#3cffbb"/><stop offset="0.171" stop-color="#62ff95"/><stop offset="0.200" stop-color="#89ff6d"/><stop offset="0.229" stop-color="#b3ff44"/><stop offset="0.257" stop-color="#deff19"/><stop offset="0.286" stop-color="#ffe300"/><stop offset="0.314" stop-color="#ffb600"/><stop offset="0.343" stop-color="#ff8d00"/><stop offset="0.371" stop-color="#ff6a00"/><stop offset="0.400" stop-color="#ff4d00"/><stop offset="0.429" stop-color="#ff3700"/><stop offset="0.457" stop-color="#ff2800"/><stop offset="0.486" stop-color="#ff2100"/><stop offset="0.514" stop-color="#ff2100"/><stop offset="0.543" stop-color="#ff2800"/><stop offset="0.571" stop-color="#ff3600"/><stop offset="0.600" stop-color="#ff4b00"/><stop offset="0.629" stop-color="#ff6600"/><stop offset="0.657" stop-color="#ff8700"/><stop offset="0.686" stop-color="#ffad00"/><stop offset="0.714" stop-color="#ffd600"/><stop offset="0.743" stop-color="#eaff0c"/><stop offset="0.771" stop-color="#c0ff37"/><stop offset="0.800" stop-color="#93ff63"/><stop offset="0.829" stop-color="#65ff92"/><stop offset="0.857" stop-color="#36ffc1"/><stop offset="0.886" stop-color="#09f1ee"/><stop offset="0.914" stop-color="#00bdff"/><stop offset="0.943" stop-color="#008cff"/><stop offset="0.971" stop-color="#005fff"/><stop offset="1.000" stop-color="#0035ff"/></linearGradient><linearGradient id="g76" gradientUnits="userSpaceOnUse" x1="450.5" y1="810.4" x2="1012.3" y2="711.3"><stop offset="0.000" stop-color="#007eff"/><stop offset="0.029" stop-color="#009dff"/><stop offset="0.057" stop-color="#00beff"/><stop offset="0.086" stop-color="#00e3f9"/><stop offset="0.114" stop-color="#1effd9"/><stop offset="0.143" stop-color="#41ffb6"/><stop offset="0.171" stop-color="#66ff91"/><stop offset="0.200" stop-color="#8dff69"/><stop offset="0.229" stop-color="#b7ff40"/><stop offset="0.257" stop-color="#e1ff16"/><stop offset="0.286" stop-color="#ffe000"/><stop offset="0.314" stop-color="#ffb300"/><stop offset="0.343" stop-color="#ff8c00"/><stop offset="0.371" stop-color="#ff6900"/><stop offset="0.400" stop-color="#ff4d00"/><stop offset="0.429" stop-color="#ff3800"/><stop offset="0.457" stop-color="#ff2a00"/><stop offset="0.486" stop-color="#ff2300"/><stop offset="0.514" stop-color="#ff2300"/><stop offset="0.543" stop-color="#ff2b00"/><stop offset="0.571" stop-color="#ff3900"/><stop offset="0.600" stop-color="#ff4d00"/><stop offset="0.629" stop-color="#ff6800"/><stop offset="0.657" stop-color="#ff8800"/><stop offset="0.686" stop-color="#ffad00"/><stop offset="0.714" stop-color="#ffd600"/><stop offset="0.743" stop-color="#ebff0b"/><stop offset="0.771" stop-color="#c2ff35"/><stop offset="0.800" stop-color="#96ff61"/><stop offset="0.829" stop-color="#68ff8f"/><stop offset="0.857" stop-color="#3affbd"/><stop offset="0.886" stop-color="#0df5ea"/><stop offset="0.914" stop-color="#00c1ff"/><stop offset="0.943" stop-color="#0090ff"/><stop offset="0.971" stop-color="#0063ff"/><stop offset="1.000" stop-color="#0039ff"/></linearGradient><linearGradient id="g77" gradientUnits="userSpaceOnUse" x1="451.8" y1="816.6" x2="1013.9" y2="717.5"><stop offset="0.000" stop-color="#0083ff"/><stop offset="0.029" stop-color="#00a2ff"/><stop offset="0.057" stop-color="#00c4ff"/><stop offset="0.086" stop-color="#03e9f4"/><stop offset="0.114" stop-color="#23ffd4"/><stop offset="0.143" stop-color="#45ffb1"/><stop offset="0.171" stop-color="#6aff8c"/><stop offset="0.200" stop-color="#92ff65"/><stop offset="0.229" stop-color="#baff3c"/><stop offset="0.257" stop-color="#e4ff13"/><stop offset="0.286" stop-color="#ffdd00"/><stop offset="0.314" stop-color="#ffb100"/><stop offset="0.343" stop-color="#ff8a00"/><stop offset="0.371" stop-color="#ff6900"/><stop offset="0.400" stop-color="#ff4d00"/><stop offset="0.429" stop-color="#ff3900"/><stop offset="0.457" stop-color="#ff2b00"/><stop offset="0.486" stop-color="#ff2500"/><stop offset="0.514" stop-color="#ff2600"/><stop offset="0.543" stop-color="#ff2d00"/><stop offset="0.571" stop-color="#ff3c00"/><stop offset="0.600" stop-color="#ff5000"/><stop offset="0.629" stop-color="#ff6a00"/><stop offset="0.657" stop-color="#ff8900"/><stop offset="0.686" stop-color="#ffae00"/><stop offset="0.714" stop-color="#ffd600"/><stop offset="0.743" stop-color="#ecff0b"/><stop offset="0.771" stop-color="#c3ff34"/><stop offset="0.800" stop-color="#97ff5f"/><stop offset="0.829" stop-color="#6aff8c"/><stop offset="0.857" stop-color="#3dffba"/><stop offset="0.886" stop-color="#10fae6"/><stop offset="0.914" stop-color="#00c6ff"/><stop offset="0.943" stop-color="#0095ff"/><stop offset="0.971" stop-color="#0067ff"/><stop offset="1.000" stop-color="#003cff"/></linearGradient><linearGradient id="g78" gradientUnits="userSpaceOnUse" x1="453.1" y1="822.7" x2="1015.6" y2="723.7"><stop offset="0.000" stop-color="#0087ff"/><stop offset="0.029" stop-color="#00a7ff"/><stop offset="0.057" stop-color="#00caff"/><stop offset="0.086" stop-color="#07efef"/><stop offset="0.114" stop-color="#28ffcf"/><stop offset="0.143" stop-color="#4affad"/><stop offset="0.171" stop-color="#6fff88"/><stop offset="0.200" stop-color="#96ff61"/><stop offset="0.229" stop-color="#beff39"/><stop offset="0.257" stop-color="#e7ff10"/><stop offset="0.286" stop-color="#ffda00"/><stop offset="0.314" stop-color="#ffb000"/><stop offset="0.343" stop-color="#ff8900"/><stop offset="0.371" stop-color="#ff6900"/><stop offset="0.400" stop-color="#ff4e00"/><stop offset="0.429" stop-color="#ff3b00"/><stop offset="0.457" stop-color="#ff2e00"/><stop offset="0.486" stop-color="#ff2800"/><stop offset="0.514" stop-color="#ff2900"/><stop offset="0.543" stop-color="#ff3100"/><stop offset="0.571" stop-color="#ff3f00"/><stop offset="0.600" stop-color="#ff5300"/><stop offset="0.629" stop-color="#ff6c00"/><stop offset="0.657" stop-color="#ff8b00"/><stop offset="0.686" stop-color="#ffaf00"/><stop offset="0.714" stop-color="#ffd700"/><stop offset="0.743" stop-color="#ecff0b"/><stop offset="0.771" stop-color="#c4ff33"/><stop offset="0.800" stop-color="#99ff5e"/><stop offset="0.829" stop-color="#6dff8a"/><stop offset="0.857" stop-color="#40ffb7"/><stop offset="0.886" stop-color="#14fee3"/><stop offset="0.914" stop-color="#00caff"/><stop offset="0.943" stop-color="#0099ff"/><stop offset="0.971" stop-color="#006bff"/><stop offset="1.000" stop-color="#0040ff"/></linearGradient><linearGradient id="g79" gradientUnits="userSpaceOnUse" x1="454.4" y1="828.9" x2="1017.2" y2="729.9"><stop offset="0.000" stop-color="#008cff"/><stop offset="0.029" stop-color="#00adff"/><stop offset="0.057" stop-color="#00cfff"/><stop offset="0.086" stop-color="#0cf5eb"/><stop offset="0.114" stop-color="#2cffca"/><stop offset="0.143" stop-color="#4fffa8"/><stop offset="0.171" stop-color="#73ff84"/><stop offset="0.200" stop-color="#99ff5d"/><stop offset="0.229" stop-color="#c1ff36"/><stop offset="0.257" stop-color="#e9ff0e"/><stop offset="0.286" stop-color="#ffd800"/><stop offset="0.314" stop-color="#ffaf00"/><stop offset="0.343" stop-color="#ff8900"/><stop offset="0.371" stop-color="#ff6900"/><stop offset="0.400" stop-color="#ff4f00"/><stop offset="0.429" stop-color="#ff3d00"/><stop offset="0.457" stop-color="#ff3100"/><stop offset="0.486" stop-color="#ff2b00"/><stop offset="0.514" stop-color="#ff2d00"/><stop offset="0.543" stop-color="#ff3400"/><stop offset="0.571" stop-color="#ff4200"/><stop offset="0.600" stop-color="#ff5600"/><stop offset="0.629" stop-color="#ff6f00"/><stop offset="0.657" stop-color="#ff8d00"/><stop offset="0.686" stop-color="#ffb000"/><stop offset="0.714" stop-color="#ffd700"/><stop offset="0.743" stop-color="#ecff0b"/><stop offset="0.771" stop-color="#c4ff33"/><stop offset="0.800" stop-color="#9aff5d"/><stop offset="0.829" stop-color="#6eff88"/><stop offset="0.857" stop-color="#42ffb4"/><stop offset="0.886" stop-color="#17ffe0"/><stop offset="0.914" stop-color="#00ceff"/><stop offset="0.943" stop-color="#009dff"/><stop offset="0.971" stop-color="#006fff"/><stop offset="1.000" stop-color="#0044ff"/></linearGradient></defs><rect width="1400" height="1050" fill="#fff"/><g clip-path="url(#mc)"><polygon points="339.0,338.0 385.2,328.7 431.5,319.5 477.8,310.5 524.0,301.6 570.2,292.9 616.5,284.3 662.8,275.9 709.0,267.6 755.2,259.5 801.5,251.5 847.8,243.7 894.0,236.0 896.1,244.7 849.8,252.4 803.6,260.2 757.4,268.2 711.1,276.4 664.9,284.6 618.7,293.1 572.4,301.6 526.2,310.3 480.0,319.2 433.7,328.2 387.5,337.4 341.3,346.6" fill="url(#g0)"/><polygon points="340.6,344.2 386.9,334.9 433.1,325.7 479.3,316.7 525.6,307.8 571.8,299.1 618.0,290.6 664.3,282.1 710.5,273.9 756.8,265.7 803.0,257.7 849.2,249.9 895.5,242.2 897.5,250.9 851.3,258.6 805.1,266.5 758.9,274.5 712.7,282.6 666.4,290.9 620.2,299.3 574.0,307.9 527.8,316.6 481.6,325.4 435.3,334.4 389.1,343.6 342.9,352.8" fill="url(#g1)"/><polygon points="342.2,350.4 388.5,341.1 434.7,331.9 480.9,322.9 527.1,314.1 573.4,305.4 619.6,296.8 665.8,288.4 712.0,280.1 758.3,272.0 804.5,264.0 850.7,256.1 897.0,248.4 899.0,257.1 852.8,264.9 806.6,272.7 760.4,280.7 714.2,288.9 668.0,297.2 621.8,305.6 575.6,314.1 529.3,322.8 483.1,331.7 436.9,340.6 390.7,349.7 344.5,359.0" fill="url(#g2)"/><polygon points="343.9,356.5 390.1,347.3 436.3,338.2 482.5,329.2 528.7,320.3 574.9,311.6 621.1,303.1 667.4,294.7 713.6,286.4 759.8,278.2 806.0,270.2 852.2,262.4 898.4,254.6 900.5,263.3 854.3,271.1 808.1,279.0 761.9,287.0 715.7,295.1 669.5,303.4 623.3,311.8 577.1,320.4 530.9,329.1 484.7,337.9 438.5,346.9 392.3,355.9 346.1,365.2" fill="url(#g3)"/><polygon points="345.5,362.7 391.7,353.5 437.9,344.4 484.1,335.4 530.3,326.6 576.5,317.9 622.7,309.3 668.9,300.9 715.1,292.6 761.3,284.5 807.5,276.5 853.7,268.6 899.9,260.8 902.0,269.5 855.8,277.3 809.6,285.2 763.4,293.2 717.2,301.4 671.0,309.7 624.9,318.1 578.7,326.6 532.5,335.3 486.3,344.1 440.1,353.1 393.9,362.1 347.7,371.3" fill="url(#g4)"/><polygon points="347.1,368.9 393.3,359.7 439.5,350.6 485.7,341.6 531.8,332.8 578.0,324.1 624.2,315.6 670.4,307.2 716.6,298.9 762.8,290.7 809.0,282.7 855.2,274.8 901.4,267.1 903.5,275.8 857.3,283.5 811.1,291.5 764.9,299.5 718.8,307.6 672.6,315.9 626.4,324.4 580.2,332.9 534.0,341.6 487.9,350.4 441.7,359.3 395.5,368.3 349.3,377.5" fill="url(#g5)"/><polygon points="348.7,375.1 394.9,365.9 441.0,356.8 487.2,347.9 533.4,339.1 579.6,330.4 625.8,321.9 672.0,313.4 718.1,305.1 764.3,297.0 810.5,289.0 856.7,281.1 902.9,273.3 905.0,282.0 858.8,289.8 812.6,297.7 766.5,305.7 720.3,313.9 674.1,322.2 627.9,330.6 581.8,339.2 535.6,347.8 489.4,356.6 443.2,365.5 397.1,374.5 350.9,383.7" fill="url(#g6)"/><polygon points="350.3,381.2 396.4,372.1 442.6,363.0 488.8,354.1 535.0,345.3 581.1,336.7 627.3,328.1 673.5,319.7 719.7,311.4 765.8,303.2 812.0,295.2 858.2,287.3 904.4,279.5 906.5,288.2 860.3,296.0 814.1,303.9 768.0,312.0 721.8,320.2 675.6,328.5 629.5,336.9 583.3,345.4 537.1,354.1 491.0,362.8 444.8,371.7 398.7,380.7 352.5,389.9" fill="url(#g7)"/><polygon points="351.9,387.4 398.0,378.3 444.2,369.2 490.4,360.3 536.5,351.6 582.7,342.9 628.9,334.4 675.0,326.0 721.2,317.7 767.4,309.5 813.5,301.4 859.7,293.5 905.9,285.7 907.9,294.4 861.8,302.2 815.6,310.2 769.5,318.2 723.3,326.4 677.2,334.7 631.0,343.1 584.9,351.7 538.7,360.3 492.5,369.1 446.4,377.9 400.2,386.9 354.1,396.0" fill="url(#g8)"/><polygon points="353.4,393.6 399.6,384.5 445.8,375.5 491.9,366.6 538.1,357.8 584.2,349.2 630.4,340.6 676.6,332.2 722.7,323.9 768.9,315.7 815.0,307.7 861.2,299.7 907.4,291.9 909.4,300.6 863.3,308.5 817.1,316.4 771.0,324.5 724.8,332.7 678.7,341.0 632.6,349.4 586.4,357.9 540.3,366.6 494.1,375.3 448.0,384.2 401.8,393.1 355.7,402.2" fill="url(#g9)"/><polygon points="355.0,399.8 401.2,390.7 447.3,381.7 493.5,372.8 539.6,364.1 585.8,355.4 631.9,346.9 678.1,338.5 724.2,330.2 770.4,322.0 816.5,313.9 862.7,306.0 908.8,298.1 910.9,306.8 864.8,314.7 818.7,322.7 772.5,330.7 726.4,338.9 680.2,347.2 634.1,355.6 587.9,364.2 541.8,372.8 495.7,381.5 449.5,390.4 403.4,399.3 357.2,408.4" fill="url(#g10)"/><polygon points="356.6,405.9 402.8,396.9 448.9,387.9 495.0,379.0 541.2,370.3 587.3,361.7 633.5,353.1 679.6,344.7 725.8,336.4 771.9,328.2 818.1,320.2 864.2,312.2 910.3,304.3 912.4,313.0 866.3,320.9 820.2,328.9 774.0,337.0 727.9,345.2 681.8,353.5 635.6,361.9 589.5,370.4 543.4,379.0 497.2,387.8 451.1,396.6 404.9,405.5 358.8,414.6" fill="url(#g11)"/><polygon points="358.2,412.1 404.3,403.1 450.5,394.1 496.6,385.3 542.7,376.5 588.9,367.9 635.0,359.4 681.1,351.0 727.3,342.7 773.4,334.5 819.6,326.4 865.7,318.4 911.8,310.6 913.9,319.2 867.8,327.1 821.7,335.1 775.5,343.3 729.4,351.5 683.3,359.8 637.2,368.2 591.0,376.7 544.9,385.3 498.8,394.0 452.6,402.8 406.5,411.7 360.4,420.7" fill="url(#g12)"/><polygon points="359.8,418.3 405.9,409.2 452.0,400.3 498.1,391.5 544.3,382.8 590.4,374.2 636.5,365.7 682.7,357.3 728.8,349.0 774.9,340.7 821.1,332.7 867.2,324.7 913.3,316.8 915.4,325.5 869.3,333.4 823.2,341.4 777.1,349.5 730.9,357.7 684.8,366.0 638.7,374.4 592.6,382.9 546.4,391.5 500.3,400.2 454.2,409.0 408.1,417.9 361.9,426.9" fill="url(#g13)"/><polygon points="361.3,424.4 407.4,415.4 453.6,406.5 499.7,397.7 545.8,389.0 592.0,380.4 638.1,371.9 684.2,363.5 730.3,355.2 776.5,347.0 822.6,338.9 868.7,330.9 914.8,323.0 916.9,331.7 870.8,339.6 824.7,347.6 778.6,355.8 732.5,364.0 686.3,372.3 640.2,380.7 594.1,389.2 548.0,397.8 501.9,406.5 455.7,415.2 409.6,424.1 363.5,433.1" fill="url(#g14)"/><polygon points="362.9,430.6 409.0,421.6 455.1,412.8 501.2,404.0 547.4,395.3 593.5,386.7 639.6,378.2 685.7,369.8 731.9,361.5 778.0,353.3 824.1,345.1 870.2,337.1 916.3,329.2 918.4,337.9 872.3,345.8 826.2,353.9 780.1,362.0 734.0,370.2 687.9,378.5 641.8,386.9 595.6,395.4 549.5,404.0 503.4,412.7 457.3,421.5 411.2,430.3 365.1,439.3" fill="url(#g15)"/><polygon points="364.4,436.8 410.6,427.8 456.7,419.0 502.8,410.2 548.9,401.5 595.0,392.9 641.1,384.4 687.3,376.0 733.4,367.7 779.5,359.5 825.6,351.4 871.7,343.3 917.8,335.4 919.9,344.1 873.8,352.1 827.7,360.1 781.6,368.3 735.5,376.5 689.4,384.8 643.3,393.2 597.2,401.7 551.1,410.3 504.9,418.9 458.8,427.7 412.7,436.5 366.6,445.4" fill="url(#g16)"/><polygon points="366.0,443.0 412.1,434.0 458.2,425.2 504.3,416.4 550.4,407.8 596.6,399.2 642.7,390.7 688.8,382.3 734.9,374.0 781.0,365.8 827.1,357.6 873.2,349.6 919.3,341.6 921.5,350.3 875.3,358.3 829.2,366.4 783.1,374.5 737.0,382.7 690.9,391.1 644.8,399.5 598.7,407.9 552.6,416.5 506.5,425.2 460.4,433.9 414.3,442.7 368.2,451.6" fill="url(#g17)"/><polygon points="367.5,449.1 413.7,440.2 459.8,431.4 505.9,422.7 552.0,414.0 598.1,405.4 644.2,397.0 690.3,388.6 736.4,380.2 782.5,372.0 828.6,363.9 874.7,355.8 920.9,347.8 923.0,356.5 876.9,364.5 830.8,372.6 784.7,380.8 738.5,389.0 692.4,397.3 646.3,405.7 600.2,414.2 554.1,422.8 508.0,431.4 461.9,440.1 415.8,448.9 369.7,457.8" fill="url(#g18)"/><polygon points="369.1,455.3 415.2,446.4 461.3,437.6 507.4,428.9 553.5,420.3 599.6,411.7 645.7,403.2 691.8,394.8 737.9,386.5 784.0,378.3 830.2,370.1 876.3,362.0 922.4,354.0 924.5,362.7 878.4,370.8 832.3,378.8 786.2,387.0 740.1,395.3 694.0,403.6 647.9,412.0 601.8,420.5 555.7,429.0 509.5,437.6 463.4,446.3 417.3,455.1 371.2,464.0" fill="url(#g19)"/><polygon points="370.6,461.5 416.7,452.6 462.8,443.8 508.9,435.1 555.0,426.5 601.1,418.0 647.2,409.5 693.4,401.1 739.5,392.8 785.6,384.5 831.7,376.3 877.8,368.3 923.9,360.2 926.0,368.9 879.9,377.0 833.8,385.1 787.7,393.3 741.6,401.5 695.5,409.8 649.4,418.2 603.3,426.7 557.2,435.2 511.1,443.9 465.0,452.6 418.9,461.3 372.8,470.1" fill="url(#g20)"/><polygon points="372.2,467.7 418.3,458.8 464.4,450.1 510.5,441.4 556.6,432.8 602.7,424.2 648.8,415.7 694.9,407.3 741.0,399.0 787.1,390.8 833.2,382.6 879.3,374.5 925.4,366.5 927.5,375.2 881.4,383.2 835.3,391.3 789.2,399.5 743.1,407.8 697.0,416.1 650.9,424.5 604.8,433.0 558.7,441.5 512.6,450.1 466.5,458.8 420.4,467.5 374.3,476.3" fill="url(#g21)"/><polygon points="373.7,473.9 419.8,465.0 465.9,456.3 512.0,447.6 558.1,439.0 604.2,430.5 650.3,422.0 696.4,413.6 742.5,405.3 788.6,397.0 834.7,388.8 880.8,380.7 926.9,372.7 929.0,381.4 882.9,389.4 836.8,397.6 790.7,405.8 744.6,414.0 698.5,422.4 652.4,430.8 606.3,439.2 560.2,447.7 514.1,456.3 468.0,465.0 421.9,473.7 375.8,482.5" fill="url(#g22)"/><polygon points="375.2,480.0 421.3,471.2 467.4,462.5 513.5,453.8 559.6,445.2 605.7,436.7 651.8,428.3 697.9,419.9 744.0,411.5 790.1,403.3 836.2,395.1 882.3,386.9 928.4,378.9 930.5,387.6 884.4,395.7 838.3,403.8 792.2,412.0 746.1,420.3 700.0,428.6 653.9,437.0 607.8,445.5 561.7,454.0 515.6,462.6 469.5,471.2 423.4,479.9 377.3,488.7" fill="url(#g23)"/><polygon points="376.7,486.2 422.8,477.4 468.9,468.7 515.0,460.1 561.1,451.5 607.2,443.0 653.3,434.5 699.4,426.1 745.5,417.8 791.6,409.5 837.7,401.3 883.8,393.2 929.9,385.1 932.1,393.8 886.0,401.9 839.9,410.1 793.8,418.3 747.7,426.5 701.6,434.9 655.5,443.3 609.4,451.7 563.3,460.2 517.2,468.8 471.1,477.4 425.0,486.1 378.9,494.8" fill="url(#g24)"/><polygon points="378.3,492.4 424.4,483.6 470.5,474.9 516.6,466.3 562.7,457.7 608.8,449.2 654.9,440.8 701.0,432.4 747.1,424.0 793.2,415.8 839.3,407.6 885.4,399.4 931.5,391.3 933.6,400.0 887.5,408.1 841.4,416.3 795.3,424.5 749.2,432.8 703.1,441.1 657.0,449.5 610.9,458.0 564.8,466.5 518.7,475.0 472.6,483.6 426.5,492.3 380.4,501.0" fill="url(#g25)"/><polygon points="379.8,498.6 425.9,489.8 472.0,481.2 518.1,472.5 564.2,464.0 610.3,455.5 656.4,447.0 702.5,438.6 748.6,430.3 794.7,422.0 840.8,413.8 886.9,405.6 933.0,397.5 935.1,406.2 889.0,414.4 842.9,422.5 796.8,430.8 750.7,439.1 704.6,447.4 658.5,455.8 612.4,464.2 566.3,472.7 520.2,481.3 474.1,489.9 428.0,498.5 381.9,507.2" fill="url(#g26)"/><polygon points="381.3,504.7 427.4,496.0 473.5,487.4 519.6,478.8 565.7,470.2 611.8,461.7 657.9,453.3 704.0,444.9 750.1,436.6 796.2,428.3 842.3,420.0 888.4,411.9 934.5,403.7 936.6,412.4 890.5,420.6 844.4,428.8 798.3,437.0 752.2,445.3 706.1,453.7 660.0,462.0 613.9,470.5 567.8,479.0 521.7,487.5 475.6,496.1 429.5,504.7 383.4,513.4" fill="url(#g27)"/><polygon points="382.8,510.9 428.9,502.2 475.0,493.6 521.1,485.0 567.2,476.5 613.3,468.0 659.4,459.5 705.5,451.2 751.6,442.8 797.7,434.5 843.8,426.3 889.9,418.1 936.0,410.0 938.2,418.6 892.1,426.8 846.0,435.0 799.9,443.3 753.7,451.6 707.6,459.9 661.5,468.3 615.4,476.7 569.3,485.2 523.2,493.7 477.1,502.3 431.0,510.9 384.9,519.5" fill="url(#g28)"/><polygon points="384.3,517.1 430.4,508.4 476.5,499.8 522.6,491.2 568.7,482.7 614.8,474.2 660.9,465.8 707.0,457.4 753.1,449.1 799.2,440.8 845.4,432.5 891.5,424.3 937.6,416.2 939.7,424.9 893.6,433.0 847.5,441.3 801.4,449.5 755.3,457.8 709.2,466.2 663.0,474.6 616.9,483.0 570.8,491.5 524.7,500.0 478.6,508.5 432.5,517.1 386.4,525.7" fill="url(#g29)"/><polygon points="385.8,523.2 431.9,514.6 478.0,506.0 524.1,497.5 570.2,489.0 616.3,480.5 662.4,472.1 708.5,463.7 754.7,455.3 800.8,447.0 846.9,438.8 893.0,430.6 939.1,422.4 941.2,431.1 895.1,439.3 849.0,447.5 802.9,455.8 756.8,464.1 710.7,472.4 664.6,480.8 618.4,489.2 572.3,497.7 526.2,506.2 480.1,514.7 434.0,523.3 387.9,531.9" fill="url(#g30)"/><polygon points="387.3,529.4 433.4,520.8 479.5,512.2 525.6,503.7 571.7,495.2 617.8,486.7 663.9,478.3 710.1,469.9 756.2,461.6 802.3,453.3 848.4,445.0 894.5,436.8 940.6,428.6 942.8,437.3 896.7,445.5 850.5,453.8 804.4,462.0 758.3,470.4 712.2,478.7 666.1,487.1 619.9,495.5 573.8,503.9 527.7,512.4 481.6,520.9 435.5,529.5 389.4,538.1" fill="url(#g31)"/><polygon points="388.8,535.6 434.9,527.0 481.0,518.5 527.1,509.9 573.2,501.4 619.3,493.0 665.5,484.6 711.6,476.2 757.7,467.8 803.8,459.5 849.9,451.3 896.0,443.0 942.2,434.8 944.3,443.5 898.2,451.7 852.1,460.0 805.9,468.3 759.8,476.6 713.7,485.0 667.6,493.3 621.4,501.8 575.3,510.2 529.2,518.7 483.1,527.2 437.0,535.7 390.8,544.2" fill="url(#g32)"/><polygon points="390.2,541.8 436.4,533.2 482.5,524.7 528.6,516.2 574.7,507.7 620.8,499.3 667.0,490.8 713.1,482.5 759.2,474.1 805.3,465.8 851.5,457.5 897.6,449.2 943.7,441.0 945.8,449.7 899.7,458.0 853.6,466.2 807.5,474.5 761.3,482.9 715.2,491.2 669.1,499.6 623.0,508.0 576.8,516.4 530.7,524.9 484.6,533.4 438.4,541.9 392.3,550.4" fill="url(#g33)"/><polygon points="391.7,547.9 437.8,539.4 484.0,530.9 530.1,522.4 576.2,513.9 622.4,505.5 668.5,497.1 714.6,488.7 760.7,480.4 806.9,472.0 853.0,463.7 899.1,455.5 945.2,447.2 947.4,455.9 901.3,464.2 855.1,472.5 809.0,480.8 762.9,489.1 716.7,497.5 670.6,505.9 624.5,514.3 578.3,522.7 532.2,531.1 486.1,539.6 439.9,548.1 393.8,556.6" fill="url(#g34)"/><polygon points="393.2,554.1 439.3,545.6 485.5,537.1 531.6,528.6 577.7,520.2 623.9,511.8 670.0,503.4 716.1,495.0 762.2,486.6 808.4,478.3 854.5,470.0 900.6,461.7 946.8,453.4 948.9,462.1 902.8,470.4 856.7,478.7 810.5,487.0 764.4,495.4 718.2,503.7 672.1,512.1 626.0,520.5 579.8,528.9 533.7,537.4 487.5,545.8 441.4,554.3 395.3,562.8" fill="url(#g35)"/><polygon points="394.7,560.3 440.8,551.8 486.9,543.3 533.1,534.9 579.2,526.4 625.4,518.0 671.5,509.6 717.6,501.2 763.8,492.9 809.9,484.5 856.0,476.2 902.2,467.9 948.3,459.7 950.5,468.3 904.3,476.6 858.2,485.0 812.0,493.3 765.9,501.6 719.7,510.0 673.6,518.4 627.4,526.8 581.3,535.2 535.2,543.6 489.0,552.0 442.9,560.5 396.7,568.9" fill="url(#g36)"/><polygon points="396.1,566.5 442.3,558.0 488.4,549.5 534.6,541.1 580.7,532.7 626.9,524.3 673.0,515.9 719.1,507.5 765.3,499.1 811.4,490.8 857.6,482.5 903.7,474.2 949.9,465.9 952.0,474.6 905.9,482.9 859.7,491.2 813.6,499.5 767.4,507.9 721.3,516.3 675.1,524.6 628.9,533.0 582.8,541.4 536.6,549.8 490.5,558.2 444.3,566.7 398.2,575.1" fill="url(#g37)"/><polygon points="397.6,572.6 443.7,564.2 489.9,555.8 536.0,547.3 582.2,538.9 628.3,530.5 674.5,522.1 720.6,513.8 766.8,505.4 813.0,497.0 859.1,488.7 905.3,480.4 951.4,472.1 953.6,480.8 907.4,489.1 861.2,497.4 815.1,505.8 768.9,514.2 722.8,522.5 676.6,530.9 630.4,539.3 584.3,547.7 538.1,556.1 492.0,564.5 445.8,572.9 399.6,581.3" fill="url(#g38)"/><polygon points="399.0,578.8 445.2,570.4 491.4,562.0 537.5,553.6 583.7,545.2 629.8,536.8 676.0,528.4 722.2,520.0 768.3,511.7 814.5,503.3 860.6,495.0 906.8,486.6 953.0,478.3 955.1,487.0 909.0,495.3 862.8,503.7 816.6,512.1 770.4,520.4 724.3,528.8 678.1,537.2 631.9,545.5 585.8,553.9 539.6,562.3 493.4,570.7 447.2,579.1 401.1,587.5" fill="url(#g39)"/><polygon points="400.5,585.0 446.7,576.6 492.8,568.2 539.0,559.8 585.2,551.4 631.3,543.0 677.5,534.7 723.7,526.3 769.8,517.9 816.0,509.5 862.2,501.2 908.3,492.8 954.5,484.5 956.7,493.2 910.5,501.6 864.3,509.9 818.1,518.3 772.0,526.7 725.8,535.0 679.6,543.4 633.4,551.8 587.2,560.2 541.1,568.5 494.9,576.9 448.7,585.3 402.5,593.6" fill="url(#g40)"/><polygon points="401.9,591.2 448.1,582.8 494.3,574.4 540.5,566.0 586.6,557.7 632.8,549.3 679.0,540.9 725.2,532.5 771.3,524.2 817.5,515.8 863.7,507.4 909.9,499.1 956.1,490.7 958.2,499.4 912.0,507.8 865.8,516.2 819.7,524.6 773.5,532.9 727.3,541.3 681.1,549.7 634.9,558.0 588.7,566.4 542.5,574.8 496.3,583.1 450.2,591.5 404.0,599.8" fill="url(#g41)"/><polygon points="403.4,597.4 449.6,589.0 495.8,580.6 541.9,572.3 588.1,563.9 634.3,555.5 680.5,547.2 726.7,538.8 772.9,530.4 819.1,522.1 865.2,513.7 911.4,505.3 957.6,496.9 959.8,505.6 913.6,514.0 867.4,522.4 821.2,530.8 775.0,539.2 728.8,547.6 682.6,555.9 636.4,564.3 590.2,572.6 544.0,581.0 497.8,589.3 451.6,597.7 405.4,606.0" fill="url(#g42)"/><polygon points="404.8,603.5 451.0,595.2 497.2,586.8 543.4,578.5 589.6,570.1 635.8,561.8 682.0,553.4 728.2,545.1 774.4,536.7 820.6,528.3 866.8,519.9 913.0,511.5 959.2,503.1 961.3,511.8 915.1,520.3 868.9,528.7 822.7,537.1 776.5,545.4 730.3,553.8 684.1,562.2 637.9,570.5 591.7,578.9 545.5,587.2 499.3,595.6 453.0,603.9 406.8,612.2" fill="url(#g43)"/><polygon points="406.3,609.7 452.5,601.4 498.7,593.1 544.9,584.7 591.1,576.4 637.3,568.0 683.5,559.7 729.7,551.3 775.9,542.9 822.1,534.6 868.3,526.2 914.5,517.8 960.7,509.4 962.9,518.0 916.7,526.5 870.5,534.9 824.2,543.3 778.0,551.7 731.8,560.1 685.6,568.4 639.4,576.8 593.1,585.1 546.9,593.5 500.7,601.8 454.5,610.1 408.3,618.3" fill="url(#g44)"/><polygon points="407.7,615.9 453.9,607.6 500.1,599.3 546.3,591.0 592.6,582.6 638.8,574.3 685.0,565.9 731.2,557.6 777.4,549.2 823.6,540.8 869.8,532.4 916.1,524.0 962.3,515.6 964.5,524.3 918.2,532.7 872.0,541.1 825.8,549.6 779.5,558.0 733.3,566.3 687.1,574.7 640.8,583.1 594.6,591.4 548.4,599.7 502.2,608.0 455.9,616.3 409.7,624.5" fill="url(#g45)"/><polygon points="409.1,622.0 455.3,613.8 501.6,605.5 547.8,597.2 594.0,588.9 640.3,580.6 686.5,572.2 732.7,563.8 778.9,555.5 825.2,547.1 871.4,538.6 917.6,530.2 963.8,521.8 966.0,530.5 919.8,538.9 873.5,547.4 827.3,555.8 781.1,564.2 734.8,572.6 688.6,581.0 642.3,589.3 596.1,597.6 549.8,605.9 503.6,614.2 457.4,622.5 411.1,630.7" fill="url(#g46)"/><polygon points="410.5,628.2 456.8,620.0 503.0,611.7 549.3,603.4 595.5,595.1 641.7,586.8 688.0,578.5 734.2,570.1 780.4,561.7 826.7,553.3 872.9,544.9 919.2,536.4 965.4,528.0 967.6,536.7 921.3,545.2 875.1,553.6 828.8,562.1 782.6,570.5 736.3,578.9 690.1,587.2 643.8,595.6 597.5,603.9 551.3,612.2 505.0,620.4 458.8,628.7 412.5,636.9" fill="url(#g47)"/><polygon points="412.0,634.4 458.2,626.2 504.5,617.9 550.7,609.7 597.0,601.4 643.2,593.1 689.5,584.7 735.7,576.4 782.0,568.0 828.2,559.6 874.5,551.1 920.7,542.7 967.0,534.2 969.2,542.9 922.9,551.4 876.6,559.9 830.3,568.3 784.1,576.7 737.8,585.1 691.5,593.5 645.3,601.8 599.0,610.1 552.7,618.4 506.5,626.6 460.2,634.9 413.9,643.0" fill="url(#g48)"/><polygon points="413.4,640.6 459.6,632.4 505.9,624.2 552.2,615.9 598.4,607.6 644.7,599.3 690.9,591.0 737.2,582.6 783.5,574.2 829.7,565.8 876.0,557.4 922.3,548.9 968.5,540.4 970.7,549.1 924.4,557.6 878.2,566.1 831.9,574.6 785.6,583.0 739.3,591.4 693.0,599.7 646.8,608.1 600.5,616.4 554.2,624.6 507.9,632.9 461.6,641.1 415.3,649.2" fill="url(#g49)"/><polygon points="414.8,646.8 461.1,638.6 507.3,630.4 553.6,622.1 599.9,613.9 646.2,605.6 692.4,597.2 738.7,588.9 785.0,580.5 831.3,572.1 877.5,563.6 923.8,555.1 970.1,546.6 972.3,555.3 926.0,563.9 879.7,572.4 833.4,580.8 787.1,589.2 740.8,597.6 694.5,606.0 648.2,614.3 601.9,622.6 555.6,630.9 509.3,639.1 463.0,647.3 416.7,655.4" fill="url(#g50)"/><polygon points="416.2,652.9 462.5,644.8 508.8,636.6 555.1,628.4 601.3,620.1 647.6,611.8 693.9,603.5 740.2,595.1 786.5,586.7 832.8,578.3 879.1,569.9 925.4,561.4 971.7,552.8 973.9,561.5 927.6,570.1 881.2,578.6 834.9,587.1 788.6,595.5 742.3,603.9 696.0,612.3 649.7,620.6 603.4,628.9 557.1,637.1 510.8,645.3 464.5,653.4 418.1,661.6" fill="url(#g51)"/><polygon points="417.6,659.1 463.9,651.0 510.2,642.8 556.5,634.6 602.8,626.4 649.1,618.1 695.4,609.8 741.7,601.4 788.0,593.0 834.3,584.6 880.6,576.1 926.9,567.6 973.2,559.0 975.4,567.7 929.1,576.3 882.8,584.8 836.5,593.3 790.1,601.8 743.8,610.2 697.5,618.5 651.2,626.8 604.8,635.1 558.5,643.3 512.2,651.5 465.9,659.6 419.5,667.7" fill="url(#g52)"/><polygon points="419.0,665.3 465.3,657.2 511.6,649.0 557.9,640.8 604.3,632.6 650.6,624.3 696.9,616.0 743.2,607.7 789.5,599.3 835.9,590.8 882.2,582.3 928.5,573.8 974.8,565.3 977.0,574.0 930.7,582.5 884.3,591.1 838.0,599.6 791.7,608.0 745.3,616.4 699.0,624.8 652.6,633.1 606.3,641.3 559.9,649.6 513.6,657.7 467.3,665.8 420.9,673.9" fill="url(#g53)"/><polygon points="420.4,671.5 466.7,663.4 513.0,655.2 559.4,647.1 605.7,638.8 652.0,630.6 698.4,622.3 744.7,613.9 791.0,605.5 837.4,597.1 883.7,588.6 930.0,580.1 976.4,571.5 978.6,580.2 932.2,588.8 885.9,597.3 839.5,605.8 793.2,614.3 746.8,622.7 700.5,631.0 654.1,639.3 607.7,647.6 561.4,655.8 515.0,663.9 468.7,672.0 422.3,680.1" fill="url(#g54)"/><polygon points="421.8,677.6 468.1,669.6 514.5,661.5 560.8,653.3 607.2,645.1 653.5,636.8 699.9,628.5 746.2,620.2 792.6,611.8 838.9,603.3 885.3,594.8 931.6,586.3 978.0,577.7 980.2,586.4 933.8,595.0 887.4,603.6 841.1,612.1 794.7,620.5 748.3,628.9 701.9,637.3 655.6,645.6 609.2,653.8 562.8,662.0 516.4,670.2 470.1,678.2 423.7,686.3" fill="url(#g55)"/><polygon points="423.1,683.8 469.5,675.8 515.9,667.7 562.2,659.5 608.6,651.3 655.0,643.1 701.3,634.8 747.7,626.4 794.1,618.0 840.4,609.6 886.8,601.1 933.2,592.5 979.5,583.9 981.8,592.6 935.4,601.2 889.0,609.8 842.6,618.3 796.2,626.8 749.8,635.2 703.4,643.6 657.0,651.8 610.6,660.1 564.2,668.3 517.8,676.4 471.5,684.4 425.1,692.4" fill="url(#g56)"/><polygon points="424.5,690.0 470.9,682.0 517.3,673.9 563.7,665.8 610.1,657.6 656.4,649.3 702.8,641.0 749.2,632.7 795.6,624.3 842.0,615.8 888.4,607.3 934.7,598.7 981.1,590.1 983.3,598.8 936.9,607.5 890.5,616.1 844.1,624.6 797.7,633.1 751.3,641.5 704.9,649.8 658.5,658.1 612.1,666.3 565.7,674.5 519.3,682.6 472.8,690.6 426.4,698.6" fill="url(#g57)"/><polygon points="425.9,696.1 472.3,688.2 518.7,680.1 565.1,672.0 611.5,663.8 657.9,655.6 704.3,647.3 750.7,639.0 797.1,630.6 843.5,622.1 889.9,613.6 936.3,605.0 982.7,596.3 984.9,605.0 938.5,613.7 892.1,622.3 845.6,630.8 799.2,639.3 752.8,647.7 706.4,656.1 659.9,664.4 613.5,672.6 567.1,680.7 520.7,688.8 474.2,696.8 427.8,704.8" fill="url(#g58)"/><polygon points="427.3,702.3 473.7,694.4 520.1,686.3 566.5,678.2 612.9,670.1 659.4,661.9 705.8,653.6 752.2,645.2 798.6,636.8 845.0,628.3 891.5,619.8 937.9,611.2 984.3,602.5 986.5,611.2 940.1,619.9 893.6,628.5 847.2,637.1 800.7,645.6 754.3,654.0 707.8,662.3 661.4,670.6 614.9,678.8 568.5,687.0 522.1,695.0 475.6,703.0 429.2,711.0" fill="url(#g59)"/><polygon points="428.6,708.5 475.1,700.6 521.5,692.5 567.9,684.5 614.4,676.3 660.8,668.1 707.2,659.8 753.7,651.5 800.1,643.1 846.6,634.6 893.0,626.0 939.4,617.4 985.9,608.8 988.1,617.4 941.6,626.2 895.2,634.8 848.7,643.3 802.2,651.8 755.8,660.2 709.3,668.6 662.8,676.9 616.4,685.1 569.9,693.2 523.5,701.2 477.0,709.2 430.5,717.1" fill="url(#g60)"/><polygon points="430.0,714.7 476.4,706.8 522.9,698.8 569.4,690.7 615.8,682.6 662.3,674.4 708.7,666.1 755.2,657.7 801.6,649.3 848.1,640.8 894.6,632.3 941.0,623.7 987.5,615.0 989.7,623.7 943.2,632.4 896.7,641.0 850.2,649.6 803.8,658.1 757.3,666.5 710.8,674.8 664.3,683.1 617.8,691.3 571.3,699.4 524.9,707.5 478.4,715.4 431.9,723.3" fill="url(#g61)"/><polygon points="431.3,720.9 477.8,713.0 524.3,705.0 570.8,696.9 617.2,688.8 663.7,680.6 710.2,672.3 756.7,664.0 803.1,655.6 849.6,647.1 896.1,638.5 942.6,629.9 989.1,621.2 991.3,629.9 944.8,638.6 898.3,647.3 851.8,655.8 805.3,664.3 758.8,672.8 712.3,681.1 665.8,689.4 619.2,697.6 572.7,705.7 526.2,713.7 479.7,721.6 433.2,729.5" fill="url(#g62)"/><polygon points="432.7,727.0 479.2,719.1 525.7,711.2 572.2,703.2 618.7,695.1 665.2,686.9 711.7,678.6 758.2,670.3 804.7,661.8 851.2,653.3 897.7,644.8 944.1,636.1 990.6,627.4 992.9,636.1 946.4,644.8 899.8,653.5 853.3,662.1 806.8,670.6 760.3,679.0 713.7,687.4 667.2,695.6 620.7,703.8 574.2,711.9 527.6,719.9 481.1,727.8 434.6,735.7" fill="url(#g63)"/><polygon points="434.0,733.2 480.6,725.3 527.1,717.4 573.6,709.4 620.1,701.3 666.6,693.1 713.1,684.9 759.7,676.5 806.2,668.1 852.7,659.6 899.2,651.0 945.7,642.3 992.2,633.6 994.5,642.3 947.9,651.1 901.4,659.8 854.8,668.3 808.3,676.9 761.7,685.3 715.2,693.6 668.7,701.9 622.1,710.0 575.6,718.1 529.0,726.1 482.5,734.0 435.9,741.8" fill="url(#g64)"/><polygon points="435.4,739.4 481.9,731.5 528.5,723.6 575.0,715.6 621.5,707.5 668.1,699.4 714.6,691.1 761.1,682.8 807.7,674.4 854.2,665.8 900.8,657.3 947.3,648.6 993.8,639.8 996.1,648.5 949.5,657.3 902.9,666.0 856.4,674.6 809.8,683.1 763.2,691.5 716.7,699.9 670.1,708.1 623.5,716.3 577.0,724.4 530.4,732.3 483.8,740.2 437.3,748.0" fill="url(#g65)"/><polygon points="436.7,745.5 483.3,737.7 529.8,729.8 576.4,721.9 623.0,713.8 669.5,705.6 716.1,697.4 762.6,689.0 809.2,680.6 855.8,672.1 902.3,663.5 948.9,654.8 995.4,646.0 997.7,654.7 951.1,663.5 904.5,672.2 857.9,680.9 811.3,689.4 764.7,697.8 718.1,706.1 671.5,714.4 624.9,722.5 578.4,730.6 531.8,738.6 485.2,746.4 438.6,754.2" fill="url(#g66)"/><polygon points="438.1,751.7 484.6,743.9 531.2,736.1 577.8,728.1 624.4,720.0 671.0,711.9 717.5,703.6 764.1,695.3 810.7,686.9 857.3,678.4 903.9,669.7 950.5,661.0 997.0,652.2 999.3,660.9 952.7,669.8 906.0,678.5 859.4,687.1 812.8,695.6 766.2,704.1 719.6,712.4 673.0,720.6 626.4,728.8 579.8,736.8 533.1,744.8 486.5,752.6 439.9,760.4" fill="url(#g67)"/><polygon points="439.4,757.9 486.0,750.1 532.6,742.3 579.2,734.3 625.8,726.3 672.4,718.1 719.0,709.9 765.6,701.6 812.2,693.1 858.8,684.6 905.4,676.0 952.0,667.3 998.6,658.4 1000.9,667.1 954.2,676.0 907.6,684.7 861.0,693.4 814.3,701.9 767.7,710.3 721.1,718.7 674.4,726.9 627.8,735.0 581.1,743.1 534.5,751.0 487.9,758.8 441.2,766.5" fill="url(#g68)"/><polygon points="440.7,764.1 487.3,756.3 534.0,748.5 580.6,740.6 627.2,732.5 673.8,724.4 720.5,716.2 767.1,707.8 813.7,699.4 860.4,690.9 907.0,682.2 953.6,673.5 1000.2,664.7 1002.5,673.4 955.8,682.2 909.2,691.0 862.5,699.6 815.8,708.1 769.2,716.6 722.5,724.9 675.9,733.1 629.2,741.3 582.5,749.3 535.9,757.2 489.2,765.0 442.6,772.7" fill="url(#g69)"/><polygon points="442.0,770.2 488.7,762.5 535.3,754.7 582.0,746.8 628.6,738.8 675.3,730.6 721.9,722.4 768.6,714.1 815.2,705.6 861.9,697.1 908.5,688.5 955.2,679.7 1001.8,670.9 1004.1,679.6 957.4,688.4 910.7,697.2 864.0,705.9 817.4,714.4 770.7,722.8 724.0,731.2 677.3,739.4 630.6,747.5 583.9,755.5 537.2,763.4 490.6,771.2 443.9,778.9" fill="url(#g70)"/><polygon points="443.3,776.4 490.0,768.7 536.7,760.9 583.4,753.0 630.0,745.0 676.7,736.9 723.4,728.7 770.1,720.3 816.7,711.9 863.4,703.4 910.1,694.7 956.8,686.0 1003.5,677.1 1005.7,685.8 959.0,694.7 912.3,703.4 865.6,712.1 818.9,720.7 772.2,729.1 725.4,737.4 678.7,745.7 632.0,753.8 585.3,761.8 538.6,769.6 491.9,777.4 445.2,785.1" fill="url(#g71)"/><polygon points="444.7,782.6 491.4,774.9 538.1,767.2 584.8,759.3 631.5,751.3 678.2,743.2 724.9,734.9 771.6,726.6 818.3,718.2 865.0,709.6 911.7,701.0 958.4,692.2 1005.1,683.3 1007.3,692.0 960.6,700.9 913.8,709.7 867.1,718.4 820.4,726.9 773.6,735.4 726.9,743.7 680.2,751.9 633.4,760.0 586.7,768.0 540.0,775.9 493.2,783.6 446.5,791.2" fill="url(#g72)"/><polygon points="446.0,788.8 492.7,781.1 539.4,773.4 586.1,765.5 632.9,757.5 679.6,749.4 726.3,741.2 773.0,732.9 819.8,724.4 866.5,715.9 913.2,707.2 959.9,698.4 1006.7,689.5 1008.9,698.2 962.2,707.1 915.4,715.9 868.6,724.6 821.9,733.2 775.1,741.6 728.4,750.0 681.6,758.2 634.8,766.2 588.1,774.2 541.3,782.1 494.6,789.8 447.8,797.4" fill="url(#g73)"/><polygon points="447.3,795.0 494.0,787.3 540.8,779.6 587.5,771.7 634.3,763.8 681.0,755.7 727.8,747.4 774.5,739.1 821.3,730.7 868.0,722.1 914.8,713.4 961.5,704.6 1008.3,695.7 1010.5,704.4 963.8,713.4 917.0,722.2 870.2,730.9 823.4,739.4 776.6,747.9 729.8,756.2 683.0,764.4 636.2,772.5 589.5,780.5 542.7,788.3 495.9,796.0 449.1,803.6" fill="url(#g74)"/><polygon points="448.6,801.1 495.3,793.5 542.1,785.8 588.9,778.0 635.7,770.0 682.5,761.9 729.2,753.7 776.0,745.4 822.8,736.9 869.6,728.4 916.3,719.7 963.1,710.9 1009.9,701.9 1012.2,710.6 965.3,719.6 918.5,728.4 871.7,737.1 824.9,745.7 778.1,754.1 731.3,762.5 684.5,770.7 637.6,778.7 590.8,786.7 544.0,794.5 497.2,802.2 450.4,809.8" fill="url(#g75)"/><polygon points="449.9,807.3 496.7,799.7 543.5,792.0 590.3,784.2 637.1,776.2 683.9,768.2 730.7,760.0 777.5,751.6 824.3,743.2 871.1,734.6 917.9,725.9 964.7,717.1 1011.5,708.2 1013.8,716.8 966.9,725.8 920.1,734.7 873.3,743.4 826.4,752.0 779.6,760.4 732.7,768.7 685.9,776.9 639.0,785.0 592.2,792.9 545.4,800.7 498.5,808.4 451.7,815.9" fill="url(#g76)"/><polygon points="451.2,813.5 498.0,805.9 544.8,798.2 591.6,790.4 638.5,782.5 685.3,774.4 732.1,766.2 779.0,757.9 825.8,749.4 872.6,740.9 919.5,732.2 966.3,723.3 1013.1,714.4 1015.4,723.1 968.5,732.0 921.7,740.9 874.8,749.6 827.9,758.2 781.0,766.7 734.2,775.0 687.3,783.2 640.4,791.2 593.6,799.2 546.7,806.9 499.8,814.6 453.0,822.1" fill="url(#g77)"/><polygon points="452.4,819.6 499.3,812.1 546.2,804.5 593.0,796.7 639.9,788.7 686.7,780.7 733.6,772.5 780.5,764.2 827.3,755.7 874.2,747.1 921.0,738.4 967.9,729.6 1014.8,720.6 1017.0,729.3 970.1,738.3 923.2,747.1 876.3,755.9 829.4,764.5 782.5,772.9 735.6,781.2 688.7,789.4 641.8,797.5 594.9,805.4 548.0,813.2 501.1,820.8 454.2,828.3" fill="url(#g78)"/><polygon points="453.7,825.8 500.6,818.3 547.5,810.7 594.4,802.9 641.3,795.0 688.2,786.9 735.0,778.7 781.9,770.4 828.8,762.0 875.7,753.4 922.6,744.6 969.5,735.8 1016.4,726.8 1018.0,733.0 971.1,742.0 924.2,750.9 877.2,759.6 830.3,768.2 783.4,776.7 736.5,785.0 689.6,793.2 642.7,801.2 595.8,809.1 548.8,816.9 501.9,824.5 455.0,832.0" fill="url(#g79)"/><path d="M281.6,133.0 L288.0,141.0 L295.0,148.0 L300.0,156.0 L304.0,162.0 L309.0,171.0 L313.0,178.0 L317.0,187.0 L321.0,195.0 L326.0,202.0 L331.0,209.0 L333.6,219.0 L339.0,223.0 L345.0,228.0 L348.0,237.0 L353.0,244.0 L359.0,251.0 L365.0,259.0 L371.0,266.0 L374.0,275.0 L371.6,281.4 L374.4,286.0 L379.0,292.0 L385.0,298.0 L392.0,304.0 L398.0,311.0 L400.0,315.0 M281.6,109.0 L285.0,108.0 L284.0,114.0 L283.0,123.0 L289.0,129.0 L293.0,132.0 L299.0,129.0 L307.0,131.0 L312.0,132.0 L319.0,128.0 L323.0,124.0 L321.0,116.0 L318.0,113.0 L316.0,107.0 M323.0,113.0 L325.0,119.0 L329.0,127.0 L332.4,134.0 L334.4,138.0 L339.0,139.0 L344.0,140.6 L346.6,145.0 L347.4,150.0 M347.4,150.0 L354.0,150.0 L362.0,151.4 L368.0,155.0 L372.4,159.0 L377.0,166.0 L380.4,169.4 L386.0,165.0 L392.0,157.4 L397.0,152.0 L402.0,148.6 L406.4,150.6 L405.0,157.0 L403.4,164.0 L405.0,169.0 L410.0,171.0 L411.0,181.0 L412.4,191.0 L413.6,203.0 M340.0,151.0 L346.0,158.6 L351.0,164.0 L348.4,171.0 L346.0,181.0 L349.0,189.0 L349.0,195.4 L354.0,197.0 L358.0,205.0 L362.0,213.0 L364.0,221.0 L369.0,229.0 L376.0,235.0 L384.0,238.0 L388.0,245.0 L389.0,249.0 M304.0,160.0 L314.0,153.0 L317.0,147.0 L320.0,141.0 L327.0,138.6 L332.0,145.0 L338.0,150.6 L340.0,151.0 M356.0,195.0 L364.0,193.0 L374.0,194.0 L380.0,193.0 L382.0,186.0 L385.0,183.0 L394.0,180.0 L402.0,177.0 L410.0,172.6 M362.0,213.0 L368.0,208.0 L380.0,206.0 L392.0,203.0 L398.0,201.0 L404.0,204.0 L412.0,204.0 L420.0,203.0 L428.0,200.6 L433.0,203.0 L435.0,209.0 L436.0,214.0 L434.0,221.0 L435.0,225.0 L434.0,231.0 L432.0,236.0 L426.0,238.0 L420.0,237.0 L416.0,237.0 L412.0,235.0 L408.0,233.0 L400.0,233.0 L397.0,237.0 L393.0,241.0 L389.0,249.0 M436.0,214.0 L444.0,213.0 L450.0,211.0 L456.0,214.0 L462.0,215.0 L466.0,211.0 L470.0,209.0 L468.0,207.0 L461.0,208.0 L464.0,203.0 L472.0,199.0 L480.0,197.0 L490.0,195.0 M466.0,211.0 L464.0,217.0 L465.0,227.0 L470.0,233.0 L476.0,239.0 L480.0,245.0 L486.0,249.0 L490.0,250.0 M389.0,249.0 L387.0,254.0 L384.0,259.0 L379.0,260.0 L374.0,265.0 L372.4,268.0 M384.0,260.0 L385.0,269.0 L389.0,273.0 L389.0,279.0 L392.0,283.0 L400.0,285.0 L404.0,286.0 L408.0,281.0 L411.0,277.0 L410.0,273.0 L406.0,265.0 L412.0,263.0 L416.0,259.0 L418.0,253.0 L417.0,247.0 L413.0,243.0 L413.0,239.0 M402.0,286.0 L401.0,293.0 L404.0,297.0 L406.0,303.0 L408.0,309.0 L412.0,315.0 M427.0,239.0 L432.0,249.0 L436.0,257.0 L440.0,263.0 L444.0,265.0 M432.0,261.0 L434.0,271.0 L438.0,279.0 L440.0,291.0 L440.0,299.0 L448.0,299.0 L456.0,297.0 L464.0,293.0 L472.0,285.0 L473.0,277.0 L470.0,271.0 L464.0,268.0 L456.0,265.0 L450.0,265.0 L444.0,266.0 L438.0,263.0 L432.0,261.0 M464.0,293.0 L466.0,297.0 L472.0,299.0 L476.0,295.0 L480.0,301.0 L488.0,303.0 L490.0,302.0 M452.0,298.0 L452.0,305.0 L454.0,315.0 M423.0,107.0 L424.0,113.0 L420.0,119.0 L424.0,127.0 L428.0,135.0 L434.0,145.0 L440.0,151.0 L444.0,157.0 L442.0,165.0 L450.0,165.0 L460.0,167.0 L465.0,171.0 L467.0,178.0 M423.0,108.0 L440.0,115.0 L452.0,120.0 L470.0,124.0 L490.0,127.0 M366.0,107.0 L368.0,113.0 L366.0,117.0 L369.0,125.0 L373.0,133.0 L374.0,139.0 L371.0,145.0 L369.0,151.0 L372.0,157.0 L375.0,162.0 L378.0,167.0 L380.0,169.4 M490.0,127.0 L508.0,130.6 L518.0,135.0 L540.0,147.0 L566.0,159.0 L586.0,167.0 L599.0,171.0 M599.0,171.0 L610.0,169.0 L620.0,168.0 L630.0,167.0 L634.0,169.0 L635.0,177.0 L633.0,185.0 M599.0,171.0 L602.0,167.0 L608.0,164.0 L610.0,160.0 L620.0,158.6 L630.0,160.0 L638.0,159.0 L642.0,156.0 L648.0,151.0 L656.0,148.0 L664.0,146.0 L667.0,141.0 L666.0,137.0 L669.0,132.0 L674.0,130.0 L679.0,124.0 L690.0,124.0 L698.0,124.0 L700.0,126.0 M490.0,196.0 L498.0,189.0 L500.0,180.0 L502.0,172.0 L506.0,163.6 L505.0,171.0 L505.0,187.0 L505.6,202.4 L512.0,203.0 L520.0,200.6 L530.0,200.4 L542.0,200.6 L550.0,203.0 L556.0,202.0 L564.0,197.0 L570.0,193.0 L578.0,190.0 L586.0,185.0 L592.0,181.0 L596.0,176.0 L599.6,172.0 M532.0,200.6 L542.0,217.0 L550.0,231.0 L554.4,237.4 M554.4,237.4 L550.0,243.0 L548.0,249.0 L548.0,261.0 L547.0,269.0 L550.0,277.0 L547.0,285.0 L544.0,293.0 L542.0,299.0 L541.0,305.0 M554.4,237.4 L560.0,231.0 L566.0,225.0 L572.0,223.0 L580.0,226.0 L590.0,230.0 L599.0,234.0 M599.0,234.0 L598.0,241.0 L596.0,245.0 L592.0,253.0 L589.0,259.0 L587.0,267.0 L586.0,275.0 L584.0,285.0 L583.0,291.0 M633.0,185.0 L630.0,189.0 L622.0,191.0 L618.0,197.0 L614.0,203.0 L610.0,209.0 L604.0,211.0 L601.0,217.0 L599.0,223.0 L599.0,229.0 L599.0,234.0 M633.0,185.0 L634.0,201.0 L638.0,211.0 L642.0,219.0 L648.0,225.0 L654.0,229.0 L660.0,233.0 L666.0,236.0 L674.0,235.0 L682.0,238.0 L690.0,241.0 L694.0,245.0 L700.0,246.0 M490.0,251.0 L500.0,253.0 L510.0,253.0 L514.0,252.0 L522.0,254.0 L532.0,259.0 L540.0,255.0 L548.0,251.0 M514.0,252.0 L510.0,257.0 L507.0,265.0 L504.0,271.0 L503.0,277.0 L501.0,285.0 L499.0,293.0 L501.0,299.0 L502.0,305.0 L501.0,315.0 M583.0,291.0 L588.0,297.0 L590.0,303.0 L592.0,309.0 L594.0,315.0 M678.0,279.0 L676.0,287.0 L677.0,295.0 L681.0,303.0 L684.0,315.0 M678.0,279.0 L690.0,274.0 L700.0,271.0 M522.0,305.0 L530.0,307.0 L538.0,305.0 L543.0,303.0 L546.0,309.0 L542.0,315.0 M700.0,128.0 L708.0,135.0 L720.0,141.0 L731.0,144.0 L804.0,145.0 L808.0,141.0 L806.0,135.0 L809.0,125.0 L810.0,119.0 L814.0,111.0 L815.0,107.0 M815.0,107.0 L818.0,115.0 L822.0,125.0 L826.0,131.0 L826.0,141.0 L830.0,146.0 L836.0,150.0 L839.0,157.0 L844.0,159.0 L846.0,162.6 L910.0,169.0 M731.0,144.0 L732.0,153.0 L731.0,165.0 L729.0,177.0 L730.0,187.0 L738.0,198.0 L754.0,198.6 L760.0,202.0 L766.0,203.0 L767.0,209.0 L764.0,214.0 L766.0,221.0 L768.0,229.0 L767.0,237.0 L764.0,241.0 L760.0,246.0 L756.0,253.0 L753.0,259.0 L747.0,263.0 M700.0,247.0 L708.0,250.0 L714.0,253.0 L720.0,260.0 L730.0,260.0 L739.0,260.0 L747.0,263.0 M700.0,271.0 L712.0,267.0 L732.0,260.0 M747.0,263.0 L752.0,267.0 L754.0,275.0 L753.0,285.0 L754.0,293.0 L751.0,299.0 L756.0,305.0 L758.0,315.0 M910.0,169.0 L1007.0,179.4 M1038.0,107.0 L1037.0,115.0 L1032.0,124.0 L1036.0,130.0 L1034.0,139.0 L1030.0,147.0 L1024.0,155.0 L1019.0,158.0 L1013.0,165.0 L1009.0,175.0 L1006.0,183.0 L1001.0,191.0 L996.0,201.0 L994.0,211.0 L992.0,221.0 L993.0,233.0 L992.0,247.0 L995.0,255.0 L990.0,265.0 L986.0,273.0 L984.0,283.0 L980.0,293.0 L976.0,303.0 L970.0,305.0 L964.0,309.0 L962.0,315.0 M1080.0,107.0 L1080.0,113.0 L1074.0,117.0 L1078.0,121.0 L1082.0,125.0 L1086.0,133.0 L1091.0,139.0 L1102.0,139.0 L1103.0,149.0 L1096.0,151.0 L1091.0,159.0 L1087.0,164.0 L1092.0,169.0 L1094.0,177.0 L1099.0,181.0 L1097.0,189.0 L1102.0,194.0 L1110.0,198.0 L1116.0,201.0 L1118.0,199.0 M1116.0,201.0 L1108.0,204.0 L1102.0,209.0 L1098.0,217.0 L1095.0,225.0 L1102.0,230.0 L1105.0,237.0 L1100.0,243.0 L1098.0,253.0 L1102.0,257.0 L1101.0,265.0 L1099.0,273.0 L1097.0,283.0 L1100.0,291.0 L1103.0,299.0 L1099.0,305.0 L1092.0,309.0 L1088.0,311.0 L1090.0,315.0 M1118.0,159.0 L1115.0,163.0 L1116.0,173.0 L1118.0,177.0 M400.0,315.0 L404.0,318.0 L412.0,322.0 L420.0,325.0 L430.0,330.0 L438.0,335.0 L450.0,339.0 L460.0,343.0 L470.0,347.0 L476.0,352.0 L484.0,356.0 L490.0,358.0 M404.0,315.0 L408.0,318.0 L420.0,317.0 L428.0,320.0 L432.0,317.0 L440.0,316.0 M490.0,357.0 L496.0,367.0 L506.0,372.0 L514.0,377.0 L521.0,383.0 L522.0,395.0 L525.0,407.0 L527.0,419.0 L528.0,431.0 L530.0,443.0 L531.0,455.0 L530.0,467.0 L529.0,479.0 L527.0,491.0 L524.0,499.0 L522.0,509.0 L525.0,515.0 L524.0,525.0 M502.0,315.0 L505.6,324.0 L504.4,335.0 L499.0,340.0 L494.0,347.0 L493.0,355.0 L495.6,361.0 L497.0,368.0 L502.0,367.0 L510.0,361.0 L516.0,351.0 L524.0,349.0 L530.0,354.0 L538.0,357.0 L539.0,362.0 L533.0,366.0 L536.0,369.0 L544.0,371.0 L549.0,375.0 M506.0,326.0 L512.0,326.0 L520.0,333.0 L525.0,341.0 L530.0,345.0 L538.0,347.0 L542.0,341.0 L544.0,337.0 L550.0,335.0 L552.0,331.0 L560.0,330.0 L556.0,327.0 L554.0,323.0 L550.0,321.0 L546.0,325.0 L542.0,319.0 L540.0,315.0 M549.0,375.0 L552.0,385.0 L554.0,395.0 L560.0,403.0 L566.0,408.0 L562.0,413.0 L564.0,419.0 L561.0,427.0 L563.0,435.0 L566.0,439.0 L562.0,443.0 L558.0,445.0 L561.0,453.0 L550.0,455.0 L540.0,457.0 L531.0,458.0 M549.0,375.0 L556.0,370.0 L562.0,367.0 L570.0,364.0 L578.0,364.0 L581.0,368.0 L586.0,363.0 L594.0,358.0 L599.0,358.0 L602.0,355.0 L599.0,347.0 L598.0,339.0 L599.0,331.0 L597.0,323.0 L596.0,315.0 M598.0,319.0 L604.0,325.0 L612.0,330.0 L622.0,332.0 L630.0,329.0 L634.0,323.0 L638.0,319.0 L650.0,318.0 L670.0,317.0 L690.0,315.0 M650.0,318.0 L652.0,323.0 L650.0,335.0 L652.0,343.0 L658.0,351.0 L662.0,355.0 L658.0,363.0 L653.0,368.0 L656.0,375.0 L662.0,383.0 L666.0,389.0 L668.0,397.0 L672.0,396.0 L675.0,397.0 L676.0,411.0 L677.0,430.0 L685.0,430.0 L700.0,430.6 M562.0,413.0 L574.0,413.0 L582.0,417.0 L594.0,413.0 L602.0,409.0 L610.0,405.0 L618.0,400.0 L614.0,395.0 L610.0,391.0 L606.0,383.0 L608.0,377.0 L606.0,373.0 L614.0,369.0 L622.0,368.0 L628.0,373.0 L633.0,379.0 L638.0,383.0 L642.0,387.0 L646.0,385.0 L650.0,384.0 L658.0,385.0 L662.0,387.0 L666.0,394.0 M594.0,373.0 L598.0,375.0 L597.0,383.0 L598.0,391.0 L601.0,399.0 L599.0,401.0 L594.0,389.0 L594.0,381.0 L594.0,373.0 M630.0,381.0 L634.0,387.0 L635.0,395.0 L642.0,401.0 L649.0,406.0 L651.0,413.0 L646.0,418.0 L639.0,420.0 L638.0,435.0 L637.0,445.0 L640.0,455.0 L641.0,469.0 L640.0,479.0 L644.0,489.0 L648.0,499.0 L650.0,505.0 L654.0,509.0 M561.0,445.0 L568.0,447.0 L572.0,455.0 L576.0,467.0 L580.0,479.0 L582.0,491.0 L590.0,491.0 L598.0,490.0 L602.0,487.0 M602.0,487.0 L608.0,479.0 L614.0,475.0 L620.0,465.0 L626.0,469.0 L630.0,471.0 L641.0,471.0 M641.0,471.0 L650.0,470.0 L656.0,473.0 L659.0,479.0 L662.0,487.0 L664.0,479.0 L670.0,471.0 L674.0,469.0 L700.0,469.0 M642.0,443.0 L650.0,445.0 L656.0,443.0 L664.0,447.0 L666.0,443.0 L700.0,443.0 M602.0,487.0 L600.0,495.0 L599.0,505.0 L598.0,513.0 L596.0,525.0 M616.0,503.0 L622.0,503.0 L626.0,509.0 L630.0,515.0 M650.0,505.0 L656.0,507.0 L662.0,505.0 L666.0,507.0 L666.0,525.0 M759.0,315.0 L760.0,328.0 L802.0,330.0 L803.0,333.0 L800.0,337.0 L801.0,353.0 L809.0,357.0 L814.0,360.0 L816.0,367.0 L819.0,375.0 L818.0,383.0 L815.0,395.0 L811.0,403.0 L806.0,415.0 L809.0,419.0 L805.0,423.0 L808.0,431.0 L810.0,439.0 L810.0,451.0 L809.0,461.0 L807.0,473.0 L809.0,485.0 L810.0,495.0 L812.0,501.0 L816.0,507.0 L820.0,515.0 L822.0,525.0 M700.0,431.0 L710.0,431.0 L714.0,424.0 L721.0,411.0 L740.0,407.0 L762.0,403.0 L782.0,404.0 L794.0,411.0 L806.0,417.0 L809.0,419.0 M762.0,403.0 L764.0,409.0 L770.0,419.0 L776.0,433.0 L782.0,439.0 L788.0,447.0 L792.0,449.0 L810.0,450.0 M700.0,443.0 L708.0,443.0 L707.0,455.0 L704.0,465.0 L701.0,473.0 L708.0,481.0 L716.0,489.0 L726.0,499.0 L736.0,509.0 L740.0,512.0 L748.0,515.0 L760.0,521.0 L766.0,525.0 M708.0,481.0 L708.0,495.0 L708.0,525.0 M807.0,473.0 L820.0,475.0 L834.0,477.0 L842.0,474.0 L848.0,477.0 L858.0,481.0 L860.0,491.0 L860.0,501.0 L859.0,509.0 L852.0,515.0 L850.0,525.0 M836.0,477.0 L836.0,491.0 L844.0,489.0 L847.0,497.0 L850.0,505.0 L852.0,513.0 M818.0,507.0 L830.0,506.0 L840.0,504.0 L848.0,505.0 M737.0,512.0 L746.0,507.0 L760.0,505.0 L760.0,497.0 L766.0,495.0 L778.0,497.0 L790.0,501.0 L800.0,503.0 L808.0,501.0 L811.0,495.0 M860.0,521.0 L870.0,521.0 L880.0,519.0 L888.0,523.0 L896.0,515.0 L902.0,507.0 L906.0,496.0 L910.0,494.0 M962.0,315.0 L958.0,321.0 L950.0,325.0 L942.0,333.0 L936.0,341.0 L928.0,348.0 L923.0,359.0 L925.0,369.0 L923.0,379.0 L929.0,385.0 L929.0,392.0 L940.0,397.0 L950.0,403.0 L960.0,409.0 L970.0,414.0 L974.0,417.0 M974.0,417.0 L971.0,423.0 L970.0,431.0 L968.0,437.0 L960.0,443.0 L953.0,451.0 L947.0,461.0 L940.0,471.0 L930.0,481.0 L918.0,491.0 L910.0,494.0 M974.0,417.0 L979.0,409.0 L986.0,401.0 L994.0,398.0 L1006.0,396.0 L1010.0,397.0 L1022.0,392.0 L1038.0,394.0 L1046.0,398.0 L1061.0,389.0 L1062.0,375.0 L1059.0,370.0 L1067.0,362.0 L1064.0,349.0 L1065.0,339.0 M1045.0,324.0 L1066.0,325.0 L1066.0,339.0 L1043.0,337.0 L1045.0,324.0 M1066.0,339.0 L1077.0,336.0 L1076.0,327.0 L1078.0,317.0 L1080.0,315.0 M1098.0,321.0 L1106.0,319.0 L1116.0,316.0 M970.0,430.0 L982.0,425.0 L990.0,429.0 L1002.0,431.0 L1010.0,433.0 L1012.0,439.0 L1018.0,443.0 L1022.0,437.0 L1030.0,437.0 L1038.0,437.0 L1046.0,436.0 L1054.0,439.0 L1058.0,447.0 L1057.0,455.0 L1060.0,467.0 L1068.0,473.0 L1070.0,481.0 L1066.0,489.0 L1068.0,503.0 L1072.0,510.0 L1080.0,510.0 L1086.0,506.0 L1090.0,507.0 L1108.0,503.0 L1118.0,501.0 M918.0,491.0 L930.0,490.0 L940.0,491.0 L950.0,493.0 L958.0,495.0 L970.0,501.0 L986.0,503.0 L994.0,509.0 L996.0,515.0 L994.0,525.0 M1108.0,503.0 L1112.0,507.0 L1118.0,509.0 M1104.0,523.0 L1110.0,517.0 L1118.0,515.0 M524.0,525.0 L525.0,537.0 L526.0,551.0 L522.0,565.0 L523.0,577.0 L521.0,591.0 L519.0,605.0 L516.0,619.0 L513.0,633.0 L510.0,645.0 L512.0,655.0 L514.0,665.0 L510.0,677.0 L509.0,689.0 L511.0,701.0 L513.0,713.0 L514.0,725.0 L516.0,735.0 M582.0,525.0 L574.0,529.0 L570.0,535.0 L569.0,541.0 L571.0,547.0 L570.0,551.0 L572.0,557.0 L571.0,565.0 L573.0,573.0 L570.0,579.0 L572.0,585.0 L576.0,591.0 L570.0,595.0 L565.0,597.0 L564.0,605.0 L560.0,613.0 L556.0,621.0 L550.0,629.0 L548.0,637.0 L546.0,645.0 L544.0,653.0 L545.0,663.0 L546.0,671.0 L542.0,685.0 L538.0,693.0 L534.0,701.0 L536.0,709.0 L538.0,717.0 L541.0,725.0 L544.0,735.0 M523.0,569.0 L538.0,567.0 L548.0,563.0 L558.0,557.0 L562.0,553.0 L571.0,549.0 L590.0,550.0 L614.0,550.0 L616.0,555.0 L609.0,560.0 L610.0,565.0 L618.0,573.0 L623.0,573.0 L634.0,571.0 L642.0,569.0 L650.0,571.0 L660.0,571.4 L664.0,565.0 L667.0,556.0 L684.0,557.0 L700.0,555.0 M684.0,557.0 L690.0,549.0 L696.0,541.0 L700.0,537.0 M660.0,571.4 L658.0,581.0 L654.0,591.0 L650.0,601.0 L648.0,609.0 L646.0,613.0 L638.0,615.0 L632.0,609.0 L626.0,601.0 L623.0,597.0 L628.0,589.0 L624.0,583.0 L622.0,575.0 M646.0,613.0 L647.0,625.0 L650.0,637.0 L652.0,653.0 L650.0,663.0 L644.0,665.0 L638.0,675.0 L636.0,685.0 L635.0,699.0 L634.0,711.0 L620.0,712.0 L610.0,711.0 L601.0,712.0 L602.0,725.0 L604.0,735.0 M561.0,612.0 L572.0,611.0 L576.0,617.0 L584.0,621.0 L588.0,625.0 L598.0,624.0 L608.0,624.0 L618.0,627.0 L622.0,637.0 L630.0,643.0 L638.0,651.0 L644.0,661.0 L646.0,663.0 M652.0,653.0 L666.0,650.0 L678.0,655.0 L684.0,657.0 L700.0,658.0 M550.0,629.0 L556.0,629.0 L564.0,637.0 L566.0,645.0 L564.0,657.0 L574.0,658.0 L582.0,661.0 L590.0,665.0 L598.0,673.0 L604.0,683.0 L606.0,691.0 L608.0,701.0 L612.0,709.0 L614.0,712.0 M510.0,649.0 L520.0,646.0 L528.0,647.0 L532.0,653.0 L536.0,659.0 L542.0,661.0 M634.0,711.0 L642.0,711.0 L648.0,717.0 L650.0,725.0 L652.0,735.0 M516.0,723.0 L526.0,721.0 L536.0,720.0 L542.0,723.0 L550.0,723.0 L556.0,719.0 L564.0,717.0 L574.0,718.0 L584.0,718.0 L590.0,720.0 L598.0,721.0 L602.0,723.0 M634.0,525.0 L642.0,529.0 L650.0,531.0 L658.0,529.0 L664.0,527.0 M694.0,681.0 L698.0,683.0 L700.0,685.0 M700.0,557.0 L721.0,557.0 L722.0,585.0 L722.0,615.0 L780.0,616.0 M722.0,615.0 L720.0,629.0 L718.0,645.0 L715.0,657.0 L712.0,665.0 M700.0,658.0 L708.0,658.0 L711.0,665.0 L710.0,677.0 L716.0,683.0 L712.0,695.0 L710.0,705.0 L711.0,717.0 L713.0,727.0 L714.0,735.0 M700.0,531.0 L707.0,525.0 M718.0,525.0 L730.0,533.0 L740.0,541.0 L750.0,551.0 L758.0,563.0 L766.0,569.0 L774.0,573.0 L784.0,581.0 L789.0,587.0 L792.0,591.0 L788.0,597.0 M768.0,525.0 L780.0,533.0 L790.0,539.0 L800.0,543.0 L808.0,547.0 L813.0,555.0 L808.0,563.0 L804.0,571.0 L800.0,577.0 L796.0,587.0 L790.0,597.0 M814.0,547.0 L818.0,545.0 L824.0,541.0 L823.0,533.0 L825.0,527.0 M818.0,545.0 L822.0,555.0 L828.0,559.0 L832.0,557.0 L836.0,545.0 L842.0,541.0 L844.0,539.0 L850.0,540.0 L849.0,533.0 L851.0,527.0 M811.0,571.0 L812.0,579.0 L816.0,585.0 L820.0,593.0 L824.0,601.0 M812.0,579.0 L820.0,578.0 L828.0,583.0 L833.0,589.0 L832.0,599.0 M830.0,585.0 L840.0,583.0 L852.0,579.0 L860.0,575.0 L868.0,574.0 L876.0,577.0 M830.0,571.0 L840.0,567.0 L850.0,565.0 L858.0,563.0 L860.0,569.0 L862.0,573.0 M832.0,561.0 L840.0,560.0 L848.0,558.0 L851.0,565.0 M808.0,563.0 L812.0,565.0 L816.0,561.0 L820.0,557.0 L822.0,555.0 M864.0,525.0 L870.0,533.0 L870.0,545.0 L866.0,551.0 L872.0,555.0 L870.0,561.0 L876.0,565.0 L878.0,571.0 L876.0,577.0 L872.0,585.0 L866.0,591.0 L860.0,594.0 L850.0,602.0 M888.0,525.0 L889.0,533.0 L886.0,543.0 L884.0,553.0 L880.0,561.0 L889.0,560.0 L896.0,567.0 L898.0,577.0 L900.0,585.0 L898.0,591.0 L898.0,601.0 M900.0,585.0 L910.0,581.0 M850.0,602.0 L848.0,609.0 L850.0,617.0 L852.0,621.0 L848.0,629.0 L840.0,637.0 L832.0,645.0 L824.0,655.0 L816.0,663.0 L809.0,671.0 L804.0,677.0 L802.0,683.0 L800.0,695.0 L798.0,705.0 L795.0,715.0 L796.0,725.0 L794.0,735.0 M852.0,621.0 L860.0,617.0 L870.0,613.0 L880.0,609.0 L890.0,605.0 L898.0,602.0 L910.0,601.0 M766.0,673.0 L772.0,672.0 L784.0,669.0 L794.0,670.0 L800.0,677.0 L802.0,683.0 M820.0,621.0 L823.0,622.0 L825.0,625.0 L822.0,628.0 L819.0,626.0 L820.0,621.0 M1118.0,525.0 L1108.0,527.0 L1100.0,529.0 L1092.0,533.0 L1090.0,537.0 L1086.0,535.0 L1078.0,534.0 L1070.0,536.0 L1062.0,539.0 L1054.0,543.0 L1046.0,548.0 L1038.0,553.0 L1030.0,557.0 L1026.0,561.0 L1022.0,565.0 L1018.0,569.0 L1014.0,573.0 L1012.0,579.0 L1011.0,585.0 L1009.0,591.0 L1008.0,597.0 L1010.0,605.0 L1008.0,613.0 L1009.0,621.0 L1006.0,629.0 L1002.0,637.0 L998.0,645.0 L992.0,649.0 L986.0,653.0 L980.0,659.0 L976.0,663.0 L972.0,669.0 L970.0,677.0 L966.0,685.0 L960.0,695.0 L950.0,705.0 L940.0,713.0 L930.0,721.0 L922.0,727.0 L916.0,733.0 L914.0,735.0 M943.0,677.0 L950.0,685.0 L957.0,682.0 L957.0,689.0 L948.0,699.0 L936.0,709.0 L924.0,717.0 L919.0,724.0 L922.0,725.0 L934.0,717.0 L946.0,709.0 L958.0,695.0 L962.0,685.0 L958.0,681.0 L950.0,683.0 L945.0,679.0 M910.0,582.0 L922.0,583.0 L934.0,587.0 L948.0,592.0 L951.0,587.0 L952.0,584.0 L958.0,582.0 L968.0,578.0 L978.0,579.0 L984.0,583.0 L990.0,585.0 L998.0,582.0 L1006.0,581.0 L1012.0,581.0 M910.0,601.0 L920.0,604.0 L930.0,607.0 L940.0,613.0 L950.0,621.0 L956.0,629.0 L962.0,637.0 L970.0,640.0 L980.0,641.0 L980.0,645.0 L976.0,651.0 L972.0,657.0 L970.0,661.0 L976.0,663.0 M994.0,525.0 L998.0,533.0 L1000.0,539.0 L999.0,547.0 L1008.0,549.0 L1014.0,550.0 L1016.0,557.0 L1019.0,555.0 L1022.0,558.0 L1020.0,564.0 L1014.0,567.0 L1010.0,568.0 L1016.0,570.0 M518.0,735.0 L515.0,743.0 L513.0,749.0 L514.0,757.0 L512.0,765.0 L510.0,773.0 L508.0,781.0 L507.0,789.0 L505.0,797.0 L502.0,805.0 L499.0,813.0 L497.0,821.0 L494.0,831.0 L492.0,839.0 L490.0,847.0 L483.0,851.0 L482.0,857.0 L484.0,865.0 L486.0,873.0 L489.0,881.0 L492.0,889.0 L495.0,897.0 L496.0,905.0 L494.0,913.0 L491.0,921.0 L489.0,929.0 L488.0,937.0 L487.0,945.0 M546.0,735.0 L550.0,743.0 L552.0,751.0 L551.0,761.0 L552.0,771.0 L549.0,779.0 L546.0,787.0 L544.0,795.0 L545.0,803.0 L544.0,811.0 L545.0,819.0 L542.0,823.0 L538.0,829.0 L534.0,831.0 L532.0,837.0 L531.0,847.0 L530.0,855.0 L531.0,863.0 L536.0,871.0 L540.0,881.0 L536.0,887.0 L530.0,891.0 L528.0,899.0 L529.0,907.0 L528.0,915.0 L526.0,923.0 L528.0,931.0 L530.0,937.0 L534.0,943.0 M516.0,755.0 L522.0,753.0 L530.0,755.0 L536.0,751.0 L544.0,751.0 M510.0,772.0 L520.0,773.0 L530.0,771.0 L536.0,765.0 L542.0,767.0 L546.0,771.0 M508.0,787.0 L518.0,789.0 L528.0,787.0 L538.0,785.0 L544.0,783.0 M507.0,795.0 L516.0,793.0 L526.0,791.0 L534.0,795.0 L544.0,797.0 M504.0,801.0 L514.0,807.0 L524.0,807.0 L534.0,811.0 L544.0,815.0 M498.0,823.0 L510.0,824.0 L522.0,827.0 L530.0,827.0 L536.0,823.0 L542.0,823.0 M494.0,831.0 L502.0,835.0 L508.0,843.0 L516.0,849.0 L522.0,851.0 L530.0,849.0 M496.0,855.0 L506.0,849.0 L516.0,849.0 M494.0,860.0 L504.0,859.0 L516.0,863.0 L524.0,865.0 L530.0,863.0 L536.0,867.0 M490.0,881.0 L502.0,879.0 L510.0,878.0 L520.0,881.0 L530.0,883.0 L540.0,883.0 M496.0,905.0 L506.0,901.0 L518.0,903.0 L528.0,907.0 M489.0,927.0 L500.0,927.0 L510.0,929.0 L520.0,931.0 L530.0,933.0 M545.0,819.0 L552.0,829.0 L558.0,841.0 L568.0,844.0 L578.0,849.0 L588.0,851.0 L598.0,855.0 L602.0,863.0 L610.0,869.0 L618.0,875.0 L626.0,879.0 L640.0,881.0 L650.0,881.0 L660.0,882.0 L670.0,884.0 L680.0,890.0 M588.0,815.0 L589.0,855.0 L590.0,887.0 L582.0,895.0 L576.0,903.0 L570.0,909.0 L562.0,915.0 L558.0,919.0 L556.0,925.0 L550.0,929.0 L546.0,933.0 L540.0,937.0 L536.0,943.0 M587.0,814.0 L620.0,812.0 L651.0,811.0 L651.0,787.0 L680.0,787.0 M651.0,811.0 L650.0,795.0 L651.0,775.0 L651.0,755.0 L650.0,741.0 L652.0,735.0 M606.0,735.0 L608.0,747.0 L614.0,759.0 L616.0,767.0 L620.0,779.0 L622.0,791.0 L621.0,801.0 L620.0,812.0 M654.0,943.0 L656.0,931.0 L662.0,930.0 L670.0,933.0 L680.0,937.0 M786.0,775.0 L790.0,781.0 L800.0,787.0 L808.0,793.0 L812.0,800.0 L808.0,805.0 L806.0,811.0 L808.0,817.0 L812.0,821.0 L818.0,822.0 L820.0,831.0 L819.0,837.0 L814.0,845.0 L808.0,853.0 L802.0,857.0 L800.0,865.0 L794.0,869.0 L784.0,873.0 L774.0,877.0 L760.0,880.0 L746.0,883.0 L734.0,884.0 L720.0,885.0 L714.0,883.0 L710.0,880.0 L706.0,881.0 L708.0,891.0 L710.0,895.0 L712.0,901.0 L710.0,907.0 L706.0,909.0 L706.0,915.0 L704.0,921.0 L706.0,927.0 L700.0,933.0 L694.0,937.0 L686.0,939.0 L680.0,940.0 M798.0,775.0 L804.0,774.0 L816.0,771.0 L828.0,769.0 L832.0,775.0 L828.0,781.0 L832.0,785.0 L840.0,785.0 L850.0,787.0 L856.0,790.0 L864.0,787.0 L872.0,783.0 L880.0,777.0 L886.0,771.0 L890.0,763.0 M686.0,771.0 L686.0,795.0 L686.0,855.0 L686.0,927.0 L692.0,929.0 L696.0,933.0 L698.0,937.0 M686.0,771.0 L720.0,771.0 L738.0,751.0 L748.0,749.0 L754.0,745.0 M697.0,771.0 L706.0,757.0 L714.0,743.0 L718.0,735.0 M742.0,735.0 L748.0,743.0 L756.0,749.0 L764.0,754.0 L772.0,757.0 L782.0,759.0 L784.0,763.0 M953.3,700.0 L941.7,709.3 L930.0,716.3 L920.7,723.3 L916.0,730.3 L911.3,739.7 L904.3,749.0 L897.3,756.0 L890.3,760.7 L883.3,770.0 L874.0,781.7 L860.0,789.8 M906.7,726.8 L909.0,730.3 L904.3,737.3 L899.7,744.3 L892.7,749.0 L888.0,756.0 L890.3,758.3 L897.3,753.7 L906.7,746.7 L910.2,740.8 L910.2,733.8 M860.0,770.0 L867.0,763.0 L868.2,777.0 L865.8,784.0 M798.4,701.7 L804.0,703.4 L810.0,706.9 L816.0,709.4 L822.8,711.1 L828.0,712.0 L831.4,711.1 L833.1,708.6 L834.8,705.1 L836.6,701.7 L837.4,700.0 M794.1,727.4 L801.4,728.3 L809.1,725.7 L816.8,724.9 L825.4,726.6 L827.1,728.3 L826.7,734.3 M833.1,708.6 L832.3,712.9 L830.6,717.1 L828.8,722.3 L827.6,725.7 L827.1,728.3 M840.0,700.0 L845.1,703.4 L847.7,708.6 L848.6,712.0 L854.6,712.9 L861.4,714.6 L865.7,718.0 L867.4,720.6 L870.0,718.0 L871.7,711.1 L871.7,707.7 L870.0,705.1 L865.7,702.6 L861.4,700.9 M871.7,711.1 L878.5,715.4 L884.5,718.0 L888.0,722.3 L889.7,728.3 L893.1,733.4 L898.3,736.8 M867.4,720.6 L864.8,724.0 L860.5,727.4 L855.4,729.1 L852.8,730.0 L852.8,734.3 L853.7,739.4 L856.3,742.8 M789.4,741.1 L795.4,740.3 L801.4,740.3 L807.4,742.0 L811.7,742.8 L816.0,742.8 L819.4,743.7 L824.6,745.4 L827.1,748.0 L828.0,751.4 L833.1,752.3 L840.0,750.6 L848.6,748.0 L855.4,745.4 L857.1,742.8 L860.5,739.4 L865.7,737.7 L874.3,736.8 L882.8,737.7 L891.4,738.6 L898.3,737.7 M811.7,743.7 L810.8,749.7 L812.6,754.8 L813.4,760.0 L816.0,765.1 L816.8,768.6 L814.3,771.1 L813.4,774.6 L814.3,779.9 M788.6,759.1 L792.9,758.3 L797.1,760.0 L802.3,761.7 L805.7,761.7 L810.8,761.7 L816.0,763.4 M827.1,748.0 L827.6,755.7 L827.6,761.7 L828.0,766.8 L827.1,772.8 L826.7,779.9 M856.3,744.6 L855.4,749.7 L853.7,754.8 L852.0,760.0 L848.6,765.1 L846.8,771.1 L846.0,779.9 M855.4,750.6 L861.4,751.4 L865.7,752.3 L870.0,753.1 L874.3,754.0 L878.5,751.4 L884.5,748.0 L888.0,744.6 L891.4,741.1 L896.5,737.7 M874.3,754.0 L870.8,760.0 L869.1,765.1 L868.3,771.1 L865.7,777.1 L864.8,779.9 M898.3,736.8 L894.8,741.1 L891.4,746.3 L888.8,751.4 L888.0,758.3 L888.8,761.7 L887.1,766.8 L884.5,772.0 L882.0,777.1 L880.3,779.9 M900.0,753.1 L896.5,758.3 L893.1,762.6 L889.7,766.8 L887.1,771.1 L885.4,775.4 L884.5,779.9 M814.3,771.1 L821.1,772.0 L828.0,771.1 L835.7,772.0 L844.3,771.1 L848.6,768.6" fill="none" stroke="#808080" stroke-width="1.10" stroke-linejoin="round" stroke-linecap="round"/><path d="M798.0,700.0 L798.4,703.4 L795.4,706.9 L794.1,711.1 L793.7,717.1 L794.1,722.3 L793.7,725.7 L794.6,730.0 L794.1,734.3 L792.9,738.6 L789.4,741.1 L787.7,744.6 L786.9,751.4 L786.0,758.3 L785.1,764.3 L784.3,768.6 L783.4,774.6 M780.0,616.0 L783.0,609.0 L784.0,601.0 L790.0,599.0 L804.0,599.0 L816.0,601.0 L826.0,604.0 L836.0,603.0 L844.0,601.0 L848.0,602.0 M780.0,616.0 L778.0,625.0 L776.0,635.0 L771.0,643.0 L768.0,647.0 L766.0,655.0 L764.0,665.0 L765.0,675.0 L762.0,685.0 L758.0,693.0 L752.0,701.0 L744.0,705.0 L742.0,715.0 L740.0,725.0 L741.0,735.0 M788.0,741.0 L787.0,747.0 L786.0,755.0 L785.0,763.0 L786.0,769.0 L784.0,771.0 L786.0,775.0" fill="none" stroke="#808080" stroke-width="2" stroke-linejoin="round" stroke-linecap="round"/><path d="M1107.0,398.0 L1110.0,397.0 L1111.0,403.0 L1114.0,409.0 L1116.0,413.0 L1112.0,417.0 L1108.0,419.0 L1104.0,415.0 L1102.0,407.0 L1105.0,403.0Z M1062.0,445.0 L1066.0,447.0 L1070.0,451.0 L1072.0,454.0 L1068.0,453.0 L1064.0,449.0Z M1078.0,456.0 L1090.0,455.0 L1096.0,455.0 L1097.0,461.0 L1102.0,469.0 L1098.0,471.0 L1094.0,469.0 L1092.0,475.0 L1088.0,479.0 L1084.0,475.0 L1080.0,475.0 L1082.0,467.0 L1080.0,461.0Z M1022.0,496.0 L1028.0,498.0 L1034.0,501.0 L1030.0,502.0 L1025.0,500.0Z M1004.0,512.0 L1010.0,512.0 L1014.0,514.0 L1019.0,515.0 L1018.0,520.0 L1012.0,519.0 L1008.0,517.0 L1005.0,515.0Z M821.1,735.1 L826.3,733.6 L831.4,731.9 L835.7,730.6 L840.0,729.3 L844.3,728.4 L848.6,727.6 L851.1,728.3 L848.6,729.3 L844.3,730.4 L840.0,731.9 L837.0,733.6 L835.7,736.8 L834.4,738.1 L833.1,736.4 L829.7,735.6 L825.4,736.4 L822.0,736.2Z" fill="#808080" stroke="#808080" stroke-width="0.8"/><g fill="none" stroke="#808080" stroke-width="1"><ellipse cx="620.0" cy="248.5" rx="1.5" ry="3.0" transform="rotate(10 620.0 248.5)"/><ellipse cx="629.5" cy="246.0" rx="1.5" ry="3.0" transform="rotate(-10 629.5 246.0)"/><ellipse cx="598.0" cy="266.0" rx="1.3" ry="3.0" transform="rotate(0 598.0 266.0)"/><ellipse cx="668.0" cy="266.0" rx="1.3" ry="2.5" transform="rotate(0 668.0 266.0)"/><ellipse cx="730.0" cy="358.0" rx="1.5" ry="1.0" transform="rotate(0 730.0 358.0)"/><ellipse cx="796.0" cy="633.0" rx="1.5" ry="1.0" transform="rotate(-30 796.0 633.0)"/><ellipse cx="558.0" cy="742.0" rx="1.2" ry="1.0" transform="rotate(0 558.0 742.0)"/></g><g fill="none" stroke="#000" stroke-width="2.3" stroke-dasharray="2.3 2.5"><polyline points="275.0,192.4 289.4,191.2 303.7,190.1 318.1,188.9 332.4,187.8 346.8,186.8 361.1,185.8 375.5,184.8 389.8,183.8 404.2,182.9 418.6,182.0 432.9,181.2 447.3,180.4 461.6,179.7 476.0,178.9 490.3,178.3 504.7,177.6 519.1,177.0 533.4,176.5 547.8,175.9 562.1,175.5 576.5,175.0 590.8,174.6 605.2,174.3 619.5,174.0 633.9,173.7 648.3,173.5 662.6,173.3 677.0,173.1 691.3,173.0 705.7,173.0 720.0,172.9 734.4,173.0 748.7,173.0 763.1,173.2 777.5,173.3 791.8,173.5 806.2,173.8 820.5,174.1 834.9,174.4 849.2,174.8 863.6,175.2 877.9,175.7 892.3,176.2 906.7,176.8 921.0,177.4 935.4,178.1 949.7,178.8 964.1,179.6 978.4,180.4 992.8,181.3 1007.2,182.2 1021.5,183.1 1035.9,184.1 1050.2,185.2 1064.6,186.3 1078.9,187.5 1093.3,188.7 1107.6,189.9 1122.0,191.2"/><polyline points="275.0,444.6 289.4,443.0 303.7,441.4 318.1,439.9 332.4,438.5 346.8,437.0 361.1,435.7 375.5,434.4 389.8,433.1 404.2,431.9 418.6,430.8 432.9,429.7 447.3,428.6 461.6,427.6 476.0,426.7 490.3,425.8 504.7,425.0 519.1,424.2 533.4,423.4 547.8,422.8 562.1,422.1 576.5,421.6 590.8,421.1 605.2,420.6 619.5,420.2 633.9,419.9 648.3,419.6 662.6,419.3 677.0,419.2 691.3,419.0 705.7,419.0 720.0,419.0 734.4,419.0 748.7,419.2 763.1,419.3 777.5,419.6 791.8,419.9 806.2,420.2 820.5,420.6 834.9,421.1 849.2,421.6 863.6,422.2 877.9,422.9 892.3,423.6 906.7,424.4 921.0,425.3 935.4,426.2 949.7,427.1 964.1,428.2 978.4,429.3 992.8,430.4 1007.2,431.7 1021.5,433.0 1035.9,434.3 1050.2,435.7 1064.6,437.2 1078.9,438.8 1093.3,440.4 1107.6,442.1 1122.0,443.9"/><polyline points="275.0,697.2 289.4,694.9 303.7,692.7 318.1,690.6 332.4,688.6 346.8,686.6 361.1,684.7 375.5,682.9 389.8,681.2 404.2,679.6 418.6,678.0 432.9,676.5 447.3,675.1 461.6,673.7 476.0,672.5 490.3,671.3 504.7,670.2 519.1,669.2 533.4,668.2 547.8,667.4 562.1,666.6 576.5,665.9 590.8,665.2 605.2,664.7 619.5,664.2 633.9,663.8 648.3,663.5 662.6,663.2 677.0,663.1 691.3,663.0 705.7,663.0 720.0,663.1 734.4,663.2 748.7,663.4 763.1,663.7 777.5,664.1 791.8,664.6 806.2,665.1 820.5,665.7 834.9,666.4 849.2,667.2 863.6,668.0 877.9,669.0 892.3,670.0 906.7,671.0 921.0,672.2 935.4,673.4 949.7,674.7 964.1,676.1 978.4,677.6 992.8,679.1 1007.2,680.7 1021.5,682.4 1035.9,684.2 1050.2,686.1 1064.6,688.0 1078.9,690.0 1093.3,692.1 1107.6,694.3 1122.0,696.5"/><polyline points="320.0,945.5 332.8,943.1 345.7,940.8 358.5,938.6 371.3,936.4 384.2,934.4 397.0,932.4 409.8,930.5 422.6,928.7 435.5,927.0 448.3,925.4 461.1,923.8 474.0,922.4 486.8,921.0 499.6,919.7 512.5,918.5 525.3,917.4 538.1,916.3 550.9,915.3 563.8,914.5 576.6,913.7 589.4,912.9 602.3,912.3 615.1,911.7 627.9,911.3 640.8,910.9 653.6,910.6 666.4,910.3 679.3,910.2 692.1,910.1 704.9,910.1 717.7,910.2 730.6,910.4 743.4,910.6 756.2,910.9 769.1,911.3 781.9,911.8 794.7,912.4 807.6,913.0 820.4,913.8 833.2,914.6 846.1,915.5 858.9,916.4 871.7,917.5 884.5,918.6 897.4,919.8 910.2,921.0 923.0,922.4 935.9,923.8 948.7,925.3 961.5,926.9 974.4,928.6 987.2,930.3 1000.0,932.1 1012.8,934.0 1025.7,936.0 1038.5,938.0 1051.3,940.1 1064.2,942.3 1077.0,944.6"/><polyline points="279.5,269.0 281.2,286.5 283.0,303.9 284.8,321.4 286.6,338.8 288.5,356.3 290.4,373.8 292.3,391.2 294.3,408.7 296.2,426.2 298.2,443.6 300.3,461.1 302.3,478.5 304.4,496.0 306.6,513.5 308.7,530.9 310.9,548.4 313.1,565.8 315.3,583.3 317.6,600.8 319.9,618.2 322.2,635.7 324.6,653.2 327.0,670.6 329.4,688.1 331.8,705.5 334.3,723.0 336.8,740.5 339.3,757.9 341.8,775.4 344.4,792.8 347.0,810.3 349.7,827.8 352.4,845.2 355.0,862.7 357.8,880.2 360.5,897.6 363.3,915.1 366.1,932.5 369.0,950.0"/><polyline points="517.6,101.0 518.3,122.8 519.0,144.5 519.7,166.3 520.4,188.1 521.2,209.8 522.0,231.6 522.8,253.4 523.7,275.2 524.6,296.9 525.4,318.7 526.4,340.5 527.3,362.2 528.3,384.0 529.3,405.8 530.3,427.5 531.3,449.3 532.4,471.1 533.5,492.8 534.6,514.6 535.8,536.4 536.9,558.2 538.1,579.9 539.4,601.7 540.6,623.5 541.9,645.2 543.2,667.0 544.5,688.8 545.8,710.5 547.2,732.3 548.6,754.1 550.0,775.8 551.4,797.6 552.9,819.4 554.4,841.2 555.9,862.9 557.4,884.7 559.0,906.5 560.6,928.2 562.2,950.0"/><polyline points="766.4,101.0 766.2,122.8 766.0,144.5 765.7,166.3 765.4,188.1 765.2,209.8 764.9,231.6 764.6,253.4 764.3,275.2 764.0,296.9 763.7,318.7 763.4,340.5 763.0,362.2 762.7,384.0 762.3,405.8 762.0,427.5 761.6,449.3 761.2,471.1 760.8,492.8 760.4,514.6 760.0,536.4 759.6,558.2 759.1,579.9 758.7,601.7 758.3,623.5 757.8,645.2 757.3,667.0 756.8,688.8 756.3,710.5 755.8,732.3 755.3,754.1 754.8,775.8 754.3,797.6 753.7,819.4 753.2,841.2 752.6,862.9 752.1,884.7 751.5,906.5 750.9,928.2 750.3,950.0"/><polyline points="1017.0,101.0 1015.7,122.8 1014.4,144.5 1013.0,166.3 1011.6,188.1 1010.2,209.8 1008.7,231.6 1007.2,253.4 1005.7,275.2 1004.1,296.9 1002.5,318.7 1000.9,340.5 999.2,362.2 997.5,384.0 995.8,405.8 994.0,427.5 992.1,449.3 990.3,471.1 988.4,492.8 986.5,514.6 984.5,536.4 982.5,558.2 980.5,579.9 978.4,601.7 976.3,623.5 974.1,645.2 972.0,667.0 969.7,688.8 967.5,710.5 965.2,732.3 962.9,754.1 960.5,775.8 958.1,797.6 955.7,819.4 953.2,841.2 950.7,862.9 948.2,884.7 945.6,906.5 943.0,928.2 940.4,950.0"/></g></g><rect x="280" y="105" width="839" height="840" fill="none" stroke="#000" stroke-width="2"/><text x="700" y="67.5" text-anchor="middle" font-size="21.5" font-family="Liberation Sans, sans-serif" textLength="417" lengthAdjust="spacingAndGlyphs">NPP ATMS Brightness Temp Channel 8</text><text x="700" y="91.5" text-anchor="middle" font-size="21.5" font-family="Liberation Sans, sans-serif" textLength="319" lengthAdjust="spacingAndGlyphs">20171110.1753146-1759063</text><text x="271" y="198.8" text-anchor="end" font-size="21.5" font-family="Liberation Sans, sans-serif" textLength="51" lengthAdjust="spacingAndGlyphs">10°S</text><text x="271" y="450.8" text-anchor="end" font-size="21.5" font-family="Liberation Sans, sans-serif" textLength="51" lengthAdjust="spacingAndGlyphs">20°S</text><text x="271" y="702.8" text-anchor="end" font-size="21.5" font-family="Liberation Sans, sans-serif" textLength="51" lengthAdjust="spacingAndGlyphs">30°S</text><text x="367.7" y="968.5" text-anchor="middle" font-size="21.5" font-family="Liberation Sans, sans-serif" textLength="59" lengthAdjust="spacingAndGlyphs">80°W</text><text x="562.3" y="968.5" text-anchor="middle" font-size="21.5" font-family="Liberation Sans, sans-serif" textLength="59" lengthAdjust="spacingAndGlyphs">70°W</text><text x="751.0" y="968.5" text-anchor="middle" font-size="21.5" font-family="Liberation Sans, sans-serif" textLength="59" lengthAdjust="spacingAndGlyphs">60°W</text><text x="940.5" y="968.5" text-anchor="middle" font-size="21.5" font-family="Liberation Sans, sans-serif" textLength="59" lengthAdjust="spacingAndGlyphs">50°W</text><rect x="1134" y="727.92" width="42" height="7.68" fill="#000086"/><rect x="1134" y="720.84" width="42" height="7.68" fill="#000093"/><rect x="1134" y="713.76" width="42" height="7.68" fill="#0000a0"/><rect x="1134" y="706.69" width="42" height="7.68" fill="#0000ad"/><rect x="1134" y="699.61" width="42" height="7.68" fill="#0000ba"/><rect x="1134" y="692.53" width="42" height="7.68" fill="#0000c7"/><rect x="1134" y="685.45" width="42" height="7.68" fill="#0000d4"/><rect x="1134" y="678.37" width="42" height="7.68" fill="#0000e1"/><rect x="1134" y="671.29" width="42" height="7.68" fill="#0000ee"/><rect x="1134" y="664.21" width="42" height="7.68" fill="#0000fb"/><rect x="1134" y="657.13" width="42" height="7.68" fill="#0000ff"/><rect x="1134" y="650.06" width="42" height="7.68" fill="#0004ff"/><rect x="1134" y="642.98" width="42" height="7.68" fill="#0010ff"/><rect x="1134" y="635.90" width="42" height="7.68" fill="#001bff"/><rect x="1134" y="628.82" width="42" height="7.68" fill="#0027ff"/><rect x="1134" y="621.74" width="42" height="7.68" fill="#0032ff"/><rect x="1134" y="614.66" width="42" height="7.68" fill="#003eff"/><rect x="1134" y="607.58" width="42" height="7.68" fill="#0049ff"/><rect x="1134" y="600.51" width="42" height="7.68" fill="#0055ff"/><rect x="1134" y="593.43" width="42" height="7.68" fill="#0060ff"/><rect x="1134" y="586.35" width="42" height="7.68" fill="#006bff"/><rect x="1134" y="579.27" width="42" height="7.68" fill="#0077ff"/><rect x="1134" y="572.19" width="42" height="7.68" fill="#0082ff"/><rect x="1134" y="565.11" width="42" height="7.68" fill="#008eff"/><rect x="1134" y="558.03" width="42" height="7.68" fill="#0099ff"/><rect x="1134" y="550.96" width="42" height="7.68" fill="#00a5ff"/><rect x="1134" y="543.88" width="42" height="7.68" fill="#00b0ff"/><rect x="1134" y="536.80" width="42" height="7.68" fill="#00bcff"/><rect x="1134" y="529.72" width="42" height="7.68" fill="#00c7ff"/><rect x="1134" y="522.64" width="42" height="7.68" fill="#00d3ff"/><rect x="1134" y="515.56" width="42" height="7.68" fill="#00defd"/><rect x="1134" y="508.48" width="42" height="7.68" fill="#03eaf4"/><rect x="1134" y="501.40" width="42" height="7.68" fill="#0cf5ea"/><rect x="1134" y="494.33" width="42" height="7.68" fill="#16ffe1"/><rect x="1134" y="487.25" width="42" height="7.68" fill="#1fffd8"/><rect x="1134" y="480.17" width="42" height="7.68" fill="#28ffcf"/><rect x="1134" y="473.09" width="42" height="7.68" fill="#31ffc5"/><rect x="1134" y="466.01" width="42" height="7.68" fill="#3bffbc"/><rect x="1134" y="458.93" width="42" height="7.68" fill="#44ffb3"/><rect x="1134" y="451.85" width="42" height="7.68" fill="#4dffaa"/><rect x="1134" y="444.78" width="42" height="7.68" fill="#56ffa0"/><rect x="1134" y="437.70" width="42" height="7.68" fill="#60ff97"/><rect x="1134" y="430.62" width="42" height="7.68" fill="#69ff8e"/><rect x="1134" y="423.54" width="42" height="7.68" fill="#72ff85"/><rect x="1134" y="416.46" width="42" height="7.68" fill="#7bff7b"/><rect x="1134" y="409.38" width="42" height="7.68" fill="#85ff72"/><rect x="1134" y="402.30" width="42" height="7.68" fill="#8eff69"/><rect x="1134" y="395.22" width="42" height="7.68" fill="#97ff60"/><rect x="1134" y="388.15" width="42" height="7.68" fill="#a0ff56"/><rect x="1134" y="381.07" width="42" height="7.68" fill="#aaff4d"/><rect x="1134" y="373.99" width="42" height="7.68" fill="#b3ff44"/><rect x="1134" y="366.91" width="42" height="7.68" fill="#bcff3b"/><rect x="1134" y="359.83" width="42" height="7.68" fill="#c5ff31"/><rect x="1134" y="352.75" width="42" height="7.68" fill="#cfff28"/><rect x="1134" y="345.67" width="42" height="7.68" fill="#d8ff1f"/><rect x="1134" y="338.60" width="42" height="7.68" fill="#e1ff16"/><rect x="1134" y="331.52" width="42" height="7.68" fill="#eaff0c"/><rect x="1134" y="324.44" width="42" height="7.68" fill="#f4f903"/><rect x="1134" y="317.36" width="42" height="7.68" fill="#fdef00"/><rect x="1134" y="310.28" width="42" height="7.68" fill="#ffe400"/><rect x="1134" y="303.20" width="42" height="7.68" fill="#ffd900"/><rect x="1134" y="296.12" width="42" height="7.68" fill="#ffcf00"/><rect x="1134" y="289.04" width="42" height="7.68" fill="#ffc400"/><rect x="1134" y="281.97" width="42" height="7.68" fill="#ffba00"/><rect x="1134" y="274.89" width="42" height="7.68" fill="#ffaf00"/><rect x="1134" y="267.81" width="42" height="7.68" fill="#ffa400"/><rect x="1134" y="260.73" width="42" height="7.68" fill="#ff9a00"/><rect x="1134" y="253.65" width="42" height="7.68" fill="#ff8f00"/><rect x="1134" y="246.57" width="42" height="7.68" fill="#ff8500"/><rect x="1134" y="239.49" width="42" height="7.68" fill="#ff7a00"/><rect x="1134" y="232.42" width="42" height="7.68" fill="#ff6f00"/><rect x="1134" y="225.34" width="42" height="7.68" fill="#ff6500"/><rect x="1134" y="218.26" width="42" height="7.68" fill="#ff5a00"/><rect x="1134" y="211.18" width="42" height="7.68" fill="#ff4f00"/><rect x="1134" y="204.10" width="42" height="7.68" fill="#ff4500"/><rect x="1134" y="197.02" width="42" height="7.68" fill="#ff3a00"/><rect x="1134" y="189.94" width="42" height="7.68" fill="#ff3000"/><rect x="1134" y="182.87" width="42" height="7.68" fill="#ff2500"/><rect x="1134" y="175.79" width="42" height="7.68" fill="#ff1a00"/><rect x="1134" y="168.71" width="42" height="7.68" fill="#fb1000"/><rect x="1134" y="161.63" width="42" height="7.68" fill="#ee0500"/><rect x="1134" y="154.55" width="42" height="7.68" fill="#e10000"/><rect x="1134" y="147.47" width="42" height="7.68" fill="#d40000"/><rect x="1134" y="140.39" width="42" height="7.68" fill="#c70000"/><rect x="1134" y="133.31" width="42" height="7.68" fill="#ba0000"/><rect x="1134" y="126.24" width="42" height="7.68" fill="#ad0000"/><rect x="1134" y="119.16" width="42" height="7.68" fill="#a00000"/><rect x="1134" y="112.08" width="42" height="7.68" fill="#930000"/><rect x="1134" y="105.00" width="42" height="7.68" fill="#860000"/><rect x="1134" y="105" width="42" height="630" fill="none" stroke="#000" stroke-width="1.8"/><line x1="1165.5" y1="111.5" x2="1176" y2="111.5" stroke="#000" stroke-width="1.3"/><text x="1185" y="119.3" font-size="21.5" font-family="Liberation Sans, sans-serif" textLength="61" lengthAdjust="spacingAndGlyphs">229.6</text><line x1="1165.5" y1="180.8" x2="1176" y2="180.8" stroke="#000" stroke-width="1.3"/><text x="1185" y="188.6" font-size="21.5" font-family="Liberation Sans, sans-serif" textLength="61" lengthAdjust="spacingAndGlyphs">227.6</text><line x1="1165.5" y1="250.1" x2="1176" y2="250.1" stroke="#000" stroke-width="1.3"/><text x="1185" y="257.9" font-size="21.5" font-family="Liberation Sans, sans-serif" textLength="61" lengthAdjust="spacingAndGlyphs">225.6</text><line x1="1165.5" y1="319.3" x2="1176" y2="319.3" stroke="#000" stroke-width="1.3"/><text x="1185" y="327.1" font-size="21.5" font-family="Liberation Sans, sans-serif" textLength="61" lengthAdjust="spacingAndGlyphs">223.6</text><line x1="1165.5" y1="388.6" x2="1176" y2="388.6" stroke="#000" stroke-width="1.3"/><text x="1185" y="396.4" font-size="21.5" font-family="Liberation Sans, sans-serif" textLength="61" lengthAdjust="spacingAndGlyphs">221.6</text><line x1="1165.5" y1="457.9" x2="1176" y2="457.9" stroke="#000" stroke-width="1.3"/><text x="1185" y="465.7" font-size="21.5" font-family="Liberation Sans, sans-serif" textLength="61" lengthAdjust="spacingAndGlyphs">219.6</text><line x1="1165.5" y1="527.2" x2="1176" y2="527.2" stroke="#000" stroke-width="1.3"/><text x="1185" y="535.0" font-size="21.5" font-family="Liberation Sans, sans-serif" textLength="61" lengthAdjust="spacingAndGlyphs">217.6</text><line x1="1165.5" y1="596.4" x2="1176" y2="596.4" stroke="#000" stroke-width="1.3"/><text x="1185" y="604.2" font-size="21.5" font-family="Liberation Sans, sans-serif" textLength="61" lengthAdjust="spacingAndGlyphs">215.6</text><line x1="1165.5" y1="665.7" x2="1176" y2="665.7" stroke="#000" stroke-width="1.3"/><text x="1185" y="673.5" font-size="21.5" font-family="Liberation Sans, sans-serif" textLength="61" lengthAdjust="spacingAndGlyphs">213.6</text><text x="1185" y="742.8" font-size="21.5" font-family="Liberation Sans, sans-serif" textLength="61" lengthAdjust="spacingAndGlyphs">211.6</text><text transform="translate(1272,422.9) rotate(-90)" text-anchor="middle" font-size="21.5" font-family="Liberation Sans, sans-serif" textLength="227" lengthAdjust="spacingAndGlyphs">Brightness Temp (K)</text><defs><clipPath id="ic"><path d="M1327.1,786.1 L1329.1,786.7 L1331.1,787.3 L1333.4,788.1 L1335.9,789.1 L1338.4,790.0 L1341.1,791.2 L1343.7,792.4 L1346.2,793.6 L1348.5,794.9 L1350.8,796.2 L1352.9,797.6 L1355.0,799.0 L1357.0,800.4 L1359.0,801.9 L1360.9,803.3 L1362.8,804.8 L1364.6,806.3 L1366.4,807.8 L1368.1,809.3 L1369.7,810.9 L1371.1,812.4 L1372.6,814.0 L1373.9,815.6 L1375.2,817.2 L1376.4,818.8 L1377.5,820.4 L1378.6,822.0 L1379.5,823.6 L1380.4,825.2 L1381.2,826.8 L1381.9,828.4 L1382.5,830.0 L1383.0,831.6 L1383.5,833.2 L1383.9,834.8 L1384.3,836.4 L1384.7,838.0 L1385.0,839.6 L1385.3,841.2 L1385.5,842.8 L1385.7,844.4 L1385.8,846.0 L1385.9,847.6 L1386.0,849.2 L1386.0,850.8 L1385.9,852.4 L1385.8,854.0 L1385.7,855.6 L1385.5,857.2 L1385.3,858.8 L1385.0,860.4 L1384.7,862.0 L1384.3,863.6 L1383.9,865.2 L1383.5,866.8 L1383.0,868.4 L1382.5,870.0 L1381.9,871.6 L1381.2,873.2 L1380.4,874.8 L1379.5,876.4 L1378.6,878.0 L1377.5,879.6 L1376.4,881.2 L1375.2,882.8 L1373.9,884.4 L1372.6,886.0 L1371.1,887.6 L1369.7,889.1 L1368.1,890.7 L1366.4,892.2 L1364.6,893.7 L1362.8,895.2 L1360.9,896.7 L1359.0,898.1 L1357.0,899.6 L1355.0,901.0 L1352.9,902.4 L1350.8,903.8 L1348.5,905.1 L1346.2,906.4 L1343.7,907.6 L1341.1,908.8 L1338.4,910.0 L1335.9,910.9 L1333.4,911.9 L1331.1,912.7 L1329.1,913.3 L1327.1,913.9 L1192.9,913.9 L1190.9,913.3 L1188.9,912.7 L1186.6,911.9 L1184.1,910.9 L1181.6,910.0 L1178.9,908.8 L1176.3,907.6 L1173.8,906.4 L1171.5,905.1 L1169.2,903.8 L1167.1,902.4 L1165.0,901.0 L1163.0,899.6 L1161.0,898.1 L1159.1,896.7 L1157.2,895.2 L1155.4,893.7 L1153.6,892.2 L1151.9,890.7 L1150.3,889.1 L1148.9,887.6 L1147.4,886.0 L1146.1,884.4 L1144.8,882.8 L1143.6,881.2 L1142.5,879.6 L1141.4,878.0 L1140.5,876.4 L1139.6,874.8 L1138.8,873.2 L1138.1,871.6 L1137.5,870.0 L1137.0,868.4 L1136.5,866.8 L1136.1,865.2 L1135.7,863.6 L1135.3,862.0 L1135.0,860.4 L1134.7,858.8 L1134.5,857.2 L1134.3,855.6 L1134.2,854.0 L1134.1,852.4 L1134.0,850.8 L1134.0,849.2 L1134.1,847.6 L1134.2,846.0 L1134.3,844.4 L1134.5,842.8 L1134.7,841.2 L1135.0,839.6 L1135.3,838.0 L1135.7,836.4 L1136.1,834.8 L1136.5,833.2 L1137.0,831.6 L1137.5,830.0 L1138.1,828.4 L1138.8,826.8 L1139.6,825.2 L1140.5,823.6 L1141.4,822.0 L1142.5,820.4 L1143.6,818.8 L1144.8,817.2 L1146.1,815.6 L1147.4,814.0 L1148.9,812.4 L1150.3,810.9 L1151.9,809.3 L1153.6,807.8 L1155.4,806.3 L1157.2,804.8 L1159.1,803.3 L1161.0,801.9 L1163.0,800.4 L1165.0,799.0 L1167.1,797.6 L1169.2,796.2 L1171.5,794.9 L1173.8,793.6 L1176.3,792.4 L1178.9,791.2 L1181.6,790.0 L1184.1,789.1 L1186.6,788.1 L1188.9,787.3 L1190.9,786.7 L1192.9,786.1 Z"/></clipPath></defs><g clip-path="url(#ic)"><path d="M1171.2,799.1 L1175.2,798.1 L1175.0,797.2 L1182.8,795.3 L1188.7,796.4 L1195.6,796.1 L1201.2,797.1 L1206.0,797.5 L1211.1,797.5 L1212.7,796.1 L1214.7,797.5 L1217.3,798.1 L1214.8,798.8 L1212.7,800.2 L1208.0,802.3 L1207.0,803.8 L1207.2,805.3 L1209.0,806.0 L1212.1,806.7 L1211.9,809.4 L1213.8,806.7 L1217.0,803.1 L1217.5,801.3 L1220.0,801.6 L1221.2,802.3 L1223.7,803.1 L1224.7,806.0 L1226.2,808.3 L1226.4,809.4 L1223.5,810.5 L1219.6,811.3 L1220.8,811.4 L1218.6,814.4 L1222.6,813.6 L1220.4,814.8 L1218.4,815.2 L1215.7,815.6 L1215.3,817.0 L1212.4,817.9 L1211.3,819.3 L1210.3,820.7 L1210.2,822.1 L1208.3,823.2 L1205.9,825.0 L1205.8,828.6 L1205.3,830.0 L1204.6,829.8 L1204.1,827.8 L1203.5,826.2 L1202.3,825.9 L1200.2,826.1 L1199.4,827.0 L1196.8,826.5 L1194.3,828.0 L1193.5,831.0 L1193.0,832.6 L1194.2,835.2 L1194.8,835.6 L1197.3,835.3 L1197.9,833.4 L1200.3,833.0 L1199.7,835.5 L1198.8,837.3 L1200.5,837.4 L1202.3,838.1 L1201.9,841.3 L1203.2,842.9 L1204.6,842.5 L1205.9,843.3 L1205.6,844.1 L1203.8,844.2 L1202.1,843.5 L1200.3,842.1 L1199.2,839.7 L1196.5,838.9 L1195.0,837.3 L1193.2,837.6 L1190.9,836.5 L1187.5,834.2 L1187.8,832.2 L1186.5,829.8 L1184.3,826.6 L1183.3,824.9 L1183.1,826.2 L1184.1,828.6 L1185.2,831.6 L1184.7,831.4 L1183.9,829.4 L1182.8,827.8 L1182.3,825.9 L1182.0,824.2 L1181.5,823.1 L1180.3,822.6 L1180.1,820.1 L1180.2,818.0 L1181.0,816.0 L1182.8,813.4 L1183.4,811.8 L1184.8,811.3 L1184.1,810.5 L1183.1,809.4 L1183.4,807.1 L1183.6,805.3 L1182.4,804.4 L1181.5,803.3 L1179.2,802.8 L1177.3,803.1 L1174.7,803.6 L1171.6,805.3 L1168.4,806.0 L1165.2,806.9 L1169.8,804.5 L1169.3,803.2 L1168.9,802.3 L1169.7,801.3 L1171.4,800.6 L1173.9,799.8 L1171.4,799.8 Z M1221.4,793.7 L1223.0,794.4 L1224.7,795.5 L1226.1,796.4 L1226.9,797.8 L1227.7,798.5 L1225.9,799.8 L1224.5,801.1 L1223.3,800.5 L1221.1,801.1 L1220.4,799.8 L1218.4,799.8 L1221.1,798.8 L1222.4,797.5 L1221.0,796.4 L1219.2,796.2 L1217.3,795.8 L1216.1,795.1 L1217.7,793.9 Z M1202.7,794.3 L1205.3,794.2 L1209.5,793.9 L1209.7,795.3 L1208.1,796.8 L1206.1,796.8 L1201.9,797.2 L1201.0,796.1 Z M1218.6,792.0 L1223.0,792.2 L1226.6,790.8 L1229.3,790.3 L1233.9,789.0 L1231.0,788.6 L1222.1,789.0 L1220.0,790.0 L1220.4,791.1 Z M1216.4,793.2 L1222.0,793.2 L1222.9,792.3 L1219.5,792.0 Z M1198.5,794.9 L1200.5,795.3 L1204.5,793.9 L1203.0,793.3 L1199.9,793.9 Z M1205.0,793.2 L1210.2,793.2 L1211.7,792.3 L1208.4,792.0 L1205.7,792.3 Z M1227.2,791.1 L1230.7,789.7 L1234.7,789.0 L1243.6,788.3 L1249.6,788.6 L1252.3,789.5 L1250.9,791.7 L1251.0,792.9 L1249.2,794.8 L1249.0,795.8 L1247.3,796.8 L1243.5,797.5 L1241.0,799.2 L1237.7,800.9 L1236.0,803.1 L1234.0,802.3 L1233.1,800.2 L1233.2,798.8 L1232.7,797.5 L1234.3,796.1 L1232.9,795.1 L1232.9,792.6 L1229.5,792.2 Z M1248.2,800.2 L1247.3,799.2 L1248.5,798.5 L1251.6,798.5 L1252.8,799.5 L1250.3,800.6 Z M1205.9,843.3 L1207.4,841.7 L1209.9,840.5 L1210.6,841.3 L1212.6,841.6 L1215.4,841.5 L1217.2,841.7 L1218.2,843.3 L1220.2,845.2 L1223.0,845.6 L1224.3,846.8 L1225.0,848.8 L1226.1,850.8 L1228.9,852.0 L1232.0,852.4 L1234.1,854.0 L1235.6,855.5 L1235.6,857.1 L1234.3,859.1 L1233.0,861.9 L1232.8,864.3 L1232.2,867.0 L1231.3,868.2 L1229.6,868.5 L1227.3,870.2 L1227.1,872.2 L1226.1,874.2 L1224.8,876.5 L1223.7,877.7 L1222.1,878.1 L1222.8,879.7 L1219.8,880.9 L1220.0,882.5 L1218.3,882.5 L1219.3,883.6 L1218.9,885.6 L1218.1,886.8 L1219.4,887.9 L1218.4,890.2 L1219.2,891.4 L1221.1,893.3 L1219.2,893.5 L1216.1,891.7 L1214.1,889.5 L1213.6,886.4 L1213.5,884.4 L1212.5,881.7 L1211.9,879.3 L1212.3,875.4 L1211.8,872.2 L1211.8,868.2 L1211.6,864.7 L1210.3,863.5 L1207.3,861.1 L1205.3,857.5 L1203.4,854.8 L1203.5,852.0 L1204.0,850.8 L1204.0,849.2 L1204.9,848.7 L1205.9,846.8 L1205.9,844.8 Z M1248.3,833.4 L1248.6,834.9 L1248.6,837.3 L1248.0,838.4 L1248.4,840.1 L1249.6,841.3 L1250.8,842.9 L1252.0,844.5 L1254.8,846.5 L1257.2,845.9 L1260.0,845.6 L1261.4,845.0 L1263.1,845.0 L1264.2,846.6 L1265.9,846.4 L1266.6,847.6 L1266.9,849.2 L1266.3,850.8 L1268.0,852.8 L1268.6,854.8 L1269.2,857.1 L1269.6,859.1 L1268.3,863.5 L1269.9,867.8 L1270.2,871.0 L1271.4,873.4 L1272.2,876.9 L1273.2,877.6 L1274.9,876.9 L1277.0,876.9 L1278.5,876.2 L1280.5,874.2 L1281.9,872.6 L1282.3,870.6 L1284.2,869.0 L1284.2,867.4 L1283.9,865.8 L1285.5,864.1 L1288.1,861.9 L1288.2,858.7 L1287.4,855.5 L1287.4,853.6 L1288.7,851.4 L1290.4,849.4 L1292.2,847.9 L1294.2,845.2 L1295.7,841.7 L1295.7,840.6 L1293.4,841.1 L1290.6,841.7 L1290.1,840.6 L1288.9,838.3 L1287.4,837.7 L1285.8,835.3 L1285.4,833.4 L1284.3,831.1 L1282.8,828.2 L1281.9,826.4 L1281.4,825.3 L1279.4,825.5 L1276.7,825.0 L1273.3,824.6 L1273.4,825.6 L1270.4,825.2 L1267.6,823.8 L1266.7,820.8 L1265.2,820.8 L1262.0,820.8 L1259.3,821.7 L1256.1,821.6 L1255.5,823.1 L1253.4,825.1 L1253.5,826.3 L1251.2,828.0 L1250.1,829.4 L1248.5,832.2 Z M1294.3,859.5 L1294.9,862.3 L1294.2,863.9 L1292.9,867.4 L1292.0,869.8 L1290.6,870.2 L1289.8,867.4 L1290.5,865.8 L1290.4,863.5 L1292.0,862.5 L1293.3,861.1 Z M1254.1,816.0 L1253.8,819.1 L1254.2,820.7 L1256.1,820.8 L1256.3,821.5 L1258.7,820.9 L1260.0,819.5 L1260.3,817.9 L1261.9,816.7 L1262.2,815.6 L1264.4,815.5 L1265.7,814.9 L1266.7,816.0 L1267.8,816.7 L1270.1,819.7 L1270.7,819.1 L1271.0,819.1 L1271.9,818.2 L1270.2,817.1 L1268.5,815.3 L1267.7,814.1 L1268.8,814.2 L1269.4,814.8 L1271.8,816.4 L1272.5,817.1 L1272.5,818.3 L1273.7,819.9 L1274.7,820.9 L1275.0,819.9 L1275.6,819.5 L1274.6,817.9 L1275.4,817.7 L1276.7,817.7 L1278.6,817.5 L1277.8,816.0 L1278.6,814.2 L1279.3,813.2 L1281.1,814.8 L1282.9,814.2 L1283.5,812.8 L1284.5,812.8 L1283.8,814.4 L1283.6,814.8 L1285.4,816.0 L1286.6,817.1 L1283.1,817.4 L1281.1,816.7 L1278.6,817.5 L1277.1,818.3 L1277.2,819.5 L1278.0,820.7 L1279.0,821.0 L1281.0,821.4 L1283.6,821.1 L1283.7,822.7 L1283.3,824.6 L1282.9,825.2 L1281.8,825.8 L1281.9,826.3 L1283.5,826.6 L1284.8,829.4 L1286.7,833.0 L1289.5,837.3 L1290.1,839.9 L1291.3,839.9 L1293.6,838.9 L1296.0,837.5 L1298.0,836.1 L1299.3,835.1 L1300.9,832.2 L1299.9,831.2 L1298.3,829.2 L1297.5,830.8 L1295.5,831.0 L1294.8,829.4 L1293.9,828.8 L1292.7,827.4 L1292.3,826.2 L1292.9,825.8 L1294.0,826.6 L1295.2,828.0 L1297.0,828.9 L1298.3,828.4 L1299.1,829.6 L1301.9,830.0 L1305.2,829.9 L1306.1,831.0 L1308.0,833.0 L1309.9,833.4 L1310.3,834.9 L1310.9,837.3 L1312.0,839.9 L1313.3,842.9 L1314.1,843.7 L1314.5,842.9 L1315.6,841.8 L1315.7,839.3 L1315.5,837.7 L1316.9,836.8 L1318.5,834.5 L1319.6,833.0 L1321.0,832.7 L1322.8,832.2 L1323.3,833.4 L1325.0,835.3 L1325.3,837.3 L1326.0,837.5 L1327.6,836.9 L1328.4,839.7 L1328.6,842.1 L1328.6,843.7 L1330.1,845.2 L1330.6,847.4 L1332.4,848.9 L1332.8,848.9 L1332.3,846.7 L1332.0,845.6 L1330.5,844.5 L1329.7,842.7 L1329.4,839.4 L1330.2,839.9 L1331.7,841.3 L1333.1,843.2 L1334.2,842.6 L1336.0,840.6 L1335.8,839.3 L1334.7,837.3 L1333.7,836.1 L1332.8,834.9 L1333.3,833.6 L1334.4,832.8 L1335.9,833.5 L1336.4,832.8 L1338.0,832.3 L1339.7,831.9 L1341.0,830.0 L1341.4,827.8 L1342.0,826.2 L1341.2,825.4 L1339.5,822.7 L1338.7,822.3 L1339.1,821.1 L1340.1,820.7 L1339.0,820.1 L1337.0,819.5 L1336.3,818.9 L1337.1,818.3 L1337.9,817.6 L1339.1,819.1 L1340.2,818.4 L1341.6,820.1 L1342.6,820.4 L1343.5,822.7 L1345.3,822.0 L1344.8,820.8 L1343.3,819.5 L1342.3,818.5 L1343.3,817.6 L1343.3,816.5 L1344.5,816.1 L1345.5,815.3 L1345.8,812.8 L1346.1,811.7 L1344.8,809.8 L1344.5,808.9 L1343.0,807.6 L1340.7,807.5 L1339.1,806.8 L1339.4,805.7 L1340.1,804.7 L1340.2,803.8 L1343.5,803.6 L1345.7,803.7 L1347.2,803.6 L1346.4,802.0 L1348.1,801.9 L1349.1,801.3 L1350.1,802.7 L1349.9,804.5 L1349.5,804.9 L1353.3,809.0 L1354.1,808.3 L1353.9,807.1 L1353.7,805.9 L1353.0,804.5 L1352.4,803.2 L1355.0,803.1 L1355.6,801.8 L1356.8,801.3 L1355.7,799.5 L1352.1,797.1 L1350.2,796.5 L1345.5,796.1 L1341.1,796.4 L1337.0,795.5 L1334.0,795.1 L1329.5,794.4 L1328.4,794.6 L1325.2,795.2 L1322.2,794.2 L1319.5,793.8 L1314.2,793.7 L1310.6,792.0 L1307.0,791.3 L1306.2,792.1 L1305.5,792.3 L1301.3,792.7 L1298.7,793.9 L1299.1,794.7 L1297.2,794.7 L1295.2,794.3 L1293.4,794.2 L1294.0,795.5 L1293.5,796.1 L1295.2,797.3 L1292.7,796.6 L1290.7,797.1 L1288.2,797.3 L1287.3,796.9 L1283.7,797.5 L1283.3,798.5 L1280.8,797.6 L1281.2,797.8 L1276.7,796.4 L1274.2,795.5 L1271.9,795.5 L1269.1,796.2 L1267.2,797.5 L1266.6,799.2 L1265.5,800.6 L1262.7,801.6 L1262.8,803.8 L1264.0,804.5 L1265.6,803.8 L1266.2,803.8 L1266.3,804.2 L1267.2,805.6 L1268.2,806.4 L1269.3,805.9 L1269.4,804.9 L1270.5,803.1 L1269.5,802.0 L1271.6,800.2 L1273.4,799.4 L1272.1,800.6 L1271.8,802.0 L1272.7,803.1 L1275.0,802.7 L1276.8,803.2 L1275.7,803.4 L1273.2,803.6 L1272.3,804.9 L1272.4,806.2 L1271.6,807.1 L1270.5,806.9 L1268.2,807.5 L1266.5,807.5 L1266.0,804.8 L1264.9,805.2 L1264.8,806.4 L1265.0,807.9 L1264.1,807.9 L1263.0,808.3 L1262.4,809.4 L1260.9,809.8 L1259.4,810.9 L1258.9,811.5 L1257.1,811.7 L1258.5,812.6 L1259.3,813.6 L1259.1,815.6 L1257.5,815.6 L1254.9,815.4 Z M1256.5,810.5 L1260.9,809.6 L1261.0,808.5 L1260.0,807.9 L1259.1,806.4 L1258.3,806.0 L1259.0,804.8 L1258.1,804.1 L1257.2,804.1 L1256.5,804.9 L1256.8,806.0 L1257.2,806.9 L1258.2,807.5 L1258.2,808.0 L1257.3,808.1 L1257.6,808.8 L1256.9,809.2 L1258.2,809.5 Z M1256.4,809.0 L1256.5,807.5 L1255.6,806.6 L1254.1,807.3 L1253.8,809.0 L1255.2,809.4 Z M1347.1,825.4 L1347.9,825.0 L1347.5,823.2 L1349.6,823.5 L1350.4,822.7 L1351.9,822.6 L1352.6,821.7 L1351.8,819.9 L1351.8,818.7 L1350.5,817.2 L1350.0,817.8 L1350.6,819.1 L1349.9,820.8 L1349.0,820.5 L1347.6,821.9 L1346.6,822.7 L1346.4,823.8 Z M1349.6,817.1 L1350.0,816.3 L1351.4,816.7 L1352.2,815.7 L1350.9,815.2 L1348.7,814.1 L1349.4,815.8 Z M1348.5,813.6 L1349.2,813.2 L1347.4,811.3 L1347.8,810.9 L1344.6,807.9 L1343.8,807.5 L1345.6,809.8 L1347.3,812.1 Z M1326.6,845.6 L1328.5,846.8 L1331.4,849.2 L1334.1,852.4 L1334.1,854.8 L1333.0,854.7 L1330.6,852.4 L1329.1,850.4 L1328.2,848.4 Z M1333.5,855.4 L1335.4,855.0 L1337.5,855.2 L1339.9,856.1 L1339.9,856.9 L1337.1,856.5 L1334.3,855.9 Z M1336.3,848.8 L1336.7,850.8 L1337.1,852.4 L1340.1,853.2 L1341.5,852.8 L1341.2,850.8 L1342.5,849.2 L1343.2,846.0 L1341.8,844.5 L1341.0,845.2 L1339.6,847.0 L1337.7,848.7 Z M1343.5,854.4 L1344.3,851.6 L1344.7,849.2 L1347.5,848.9 L1344.9,850.8 L1346.1,853.7 L1345.1,853.8 L1344.3,850.8 Z M1351.7,851.1 L1353.8,850.8 L1356.6,851.3 L1358.6,852.1 L1361.9,854.0 L1363.0,855.0 L1364.8,858.3 L1362.8,857.9 L1361.9,856.3 L1360.1,857.1 L1358.3,857.2 L1357.0,856.3 L1356.3,856.6 L1356.2,854.0 L1354.1,853.1 L1352.7,853.2 L1352.3,852.1 Z M1342.7,835.3 L1344.3,835.3 L1344.4,837.3 L1346.1,839.7 L1345.8,840.1 L1344.0,839.1 L1343.5,838.1 Z M1345.2,844.5 L1348.3,844.5 L1348.0,842.5 L1347.4,842.2 L1346.1,843.3 Z M1342.1,831.8 L1342.7,830.0 L1343.1,830.6 L1342.7,832.6 Z M1315.7,843.7 L1316.0,842.2 L1317.1,844.1 L1316.7,845.1 L1315.9,845.2 Z M1337.7,867.4 L1337.4,870.6 L1337.3,873.8 L1336.3,876.6 L1337.8,877.8 L1339.5,876.9 L1341.8,876.9 L1344.0,875.6 L1346.2,875.0 L1347.9,875.0 L1349.2,875.8 L1349.6,877.7 L1351.3,876.3 L1350.8,878.2 L1351.8,878.3 L1351.5,880.1 L1353.1,880.7 L1354.8,880.9 L1356.3,880.0 L1357.9,879.7 L1359.7,877.4 L1361.0,876.1 L1363.6,872.6 L1364.1,870.2 L1363.2,867.8 L1362.4,866.6 L1360.8,865.1 L1360.7,861.9 L1359.7,861.1 L1359.2,858.5 L1358.3,860.3 L1357.8,863.5 L1356.3,863.9 L1354.8,862.5 L1353.9,861.9 L1355.1,859.7 L1352.5,859.1 L1351.1,859.7 L1349.8,861.8 L1348.1,860.9 L1346.9,861.6 L1345.4,863.2 L1344.3,864.3 L1343.3,865.5 L1341.6,866.1 L1340.2,866.3 L1338.5,867.3 Z M1352.9,882.2 L1355.2,882.4 L1353.8,884.2 L1352.3,884.5 Z M1374.2,877.3 L1374.4,878.9 L1374.8,879.8 L1376.4,879.9 L1374.6,881.1 L1374.1,881.7 L1372.0,882.9 L1371.9,882.6 L1373.1,881.4 L1372.5,881.1 L1374.2,879.3 Z M1371.1,882.1 L1371.5,882.9 L1369.3,884.7 L1367.7,885.2 L1365.1,886.8 L1363.8,886.4 L1366.2,884.8 L1368.8,883.6 Z M1201.8,832.7 L1203.9,831.7 L1206.9,832.7 L1209.0,834.0 L1206.7,834.2 L1205.2,832.8 Z M1208.6,835.4 L1210.0,834.2 L1211.8,834.4 L1212.9,835.3 L1210.7,836.0 Z M1223.4,812.4 L1225.9,810.9 L1226.6,809.3 L1227.3,811.1 L1227.5,812.5 L1225.6,812.9 Z M1264.7,790.8 L1267.0,790.0 L1270.8,789.8 L1271.9,790.5 L1269.5,791.4 L1267.4,792.0 Z M1285.8,795.5 L1286.9,793.9 L1288.1,792.6 L1291.4,791.8 L1290.4,792.6 L1288.6,795.1 L1286.5,795.7 Z M1302.0,790.5 L1303.9,790.3 L1306.4,790.5 L1304.9,791.1 Z M1164.3,799.5 L1168.1,799.8 L1170.6,798.8 L1169.4,797.8 L1167.9,797.1 Z M1179.1,908.9 L1188.1,908.9 L1190.9,908.0 L1194.0,907.1 L1197.9,906.5 L1202.5,906.3 L1207.8,906.8 L1211.6,905.8 L1216.3,905.7 L1221.3,905.8 L1222.7,904.5 L1225.4,903.2 L1225.3,901.2 L1226.7,899.8 L1229.2,899.3 L1228.5,900.2 L1227.9,901.2 L1228.1,902.5 L1228.3,903.9 L1230.5,905.8 L1231.7,907.1 L1237.3,908.6 L1242.0,908.9 L1246.1,907.7 L1250.4,906.1 L1255.0,904.5 L1260.0,903.9 L1265.0,903.9 L1270.1,903.8 L1275.2,903.6 L1280.4,903.1 L1286.0,901.9 L1291.0,902.2 L1296.0,902.5 L1297.9,903.6 L1301.4,902.2 L1307.1,901.5 L1312.6,901.2 L1317.7,901.3 L1322.6,901.7 L1328.2,901.3 L1333.0,901.7 L1336.8,902.9 L1340.5,903.9 L1343.9,904.9 L1337.6,908.3 L1340.9,908.9 L1327.1,913.9 L1192.9,913.9 Z" fill="#808080" stroke="#000" stroke-width="0.5" stroke-linejoin="round"/><path d="M1289.4,814.0 L1290.5,813.2 L1291.9,812.8 L1293.1,814.0 L1292.3,814.8 L1292.0,816.0 L1293.6,817.1 L1294.8,818.3 L1295.1,820.4 L1293.4,820.9 L1292.0,820.3 L1291.9,818.1 L1290.6,816.7 Z" fill="#fff" stroke="#000" stroke-width="0.4"/></g><path d="M1327.1,786.1 L1329.1,786.7 L1331.1,787.3 L1333.4,788.1 L1335.9,789.1 L1338.4,790.0 L1341.1,791.2 L1343.7,792.4 L1346.2,793.6 L1348.5,794.9 L1350.8,796.2 L1352.9,797.6 L1355.0,799.0 L1357.0,800.4 L1359.0,801.9 L1360.9,803.3 L1362.8,804.8 L1364.6,806.3 L1366.4,807.8 L1368.1,809.3 L1369.7,810.9 L1371.1,812.4 L1372.6,814.0 L1373.9,815.6 L1375.2,817.2 L1376.4,818.8 L1377.5,820.4 L1378.6,822.0 L1379.5,823.6 L1380.4,825.2 L1381.2,826.8 L1381.9,828.4 L1382.5,830.0 L1383.0,831.6 L1383.5,833.2 L1383.9,834.8 L1384.3,836.4 L1384.7,838.0 L1385.0,839.6 L1385.3,841.2 L1385.5,842.8 L1385.7,844.4 L1385.8,846.0 L1385.9,847.6 L1386.0,849.2 L1386.0,850.8 L1385.9,852.4 L1385.8,854.0 L1385.7,855.6 L1385.5,857.2 L1385.3,858.8 L1385.0,860.4 L1384.7,862.0 L1384.3,863.6 L1383.9,865.2 L1383.5,866.8 L1383.0,868.4 L1382.5,870.0 L1381.9,871.6 L1381.2,873.2 L1380.4,874.8 L1379.5,876.4 L1378.6,878.0 L1377.5,879.6 L1376.4,881.2 L1375.2,882.8 L1373.9,884.4 L1372.6,886.0 L1371.1,887.6 L1369.7,889.1 L1368.1,890.7 L1366.4,892.2 L1364.6,893.7 L1362.8,895.2 L1360.9,896.7 L1359.0,898.1 L1357.0,899.6 L1355.0,901.0 L1352.9,902.4 L1350.8,903.8 L1348.5,905.1 L1346.2,906.4 L1343.7,907.6 L1341.1,908.8 L1338.4,910.0 L1335.9,910.9 L1333.4,911.9 L1331.1,912.7 L1329.1,913.3 L1327.1,913.9 L1192.9,913.9 L1190.9,913.3 L1188.9,912.7 L1186.6,911.9 L1184.1,910.9 L1181.6,910.0 L1178.9,908.8 L1176.3,907.6 L1173.8,906.4 L1171.5,905.1 L1169.2,903.8 L1167.1,902.4 L1165.0,901.0 L1163.0,899.6 L1161.0,898.1 L1159.1,896.7 L1157.2,895.2 L1155.4,893.7 L1153.6,892.2 L1151.9,890.7 L1150.3,889.1 L1148.9,887.6 L1147.4,886.0 L1146.1,884.4 L1144.8,882.8 L1143.6,881.2 L1142.5,879.6 L1141.4,878.0 L1140.5,876.4 L1139.6,874.8 L1138.8,873.2 L1138.1,871.6 L1137.5,870.0 L1137.0,868.4 L1136.5,866.8 L1136.1,865.2 L1135.7,863.6 L1135.3,862.0 L1135.0,860.4 L1134.7,858.8 L1134.5,857.2 L1134.3,855.6 L1134.2,854.0 L1134.1,852.4 L1134.0,850.8 L1134.0,849.2 L1134.1,847.6 L1134.2,846.0 L1134.3,844.4 L1134.5,842.8 L1134.7,841.2 L1135.0,839.6 L1135.3,838.0 L1135.7,836.4 L1136.1,834.8 L1136.5,833.2 L1137.0,831.6 L1137.5,830.0 L1138.1,828.4 L1138.8,826.8 L1139.6,825.2 L1140.5,823.6 L1141.4,822.0 L1142.5,820.4 L1143.6,818.8 L1144.8,817.2 L1146.1,815.6 L1147.4,814.0 L1148.9,812.4 L1150.3,810.9 L1151.9,809.3 L1153.6,807.8 L1155.4,806.3 L1157.2,804.8 L1159.1,803.3 L1161.0,801.9 L1163.0,800.4 L1165.0,799.0 L1167.1,797.6 L1169.2,796.2 L1171.5,794.9 L1173.8,793.6 L1176.3,792.4 L1178.9,791.2 L1181.6,790.0 L1184.1,789.1 L1186.6,788.1 L1188.9,787.3 L1190.9,786.7 L1192.9,786.1 Z" fill="none" stroke="#a0a0a0" stroke-width="0.8"/><polygon points="1205.6,862.4 1222.4,860 1228.6,875.6 1211,879.6" fill="#ff0000"/><clipPath id="rc"><polygon points="1205.6,862.4 1222.4,860 1228.6,875.6 1211,879.6"/></clipPath><path d="M1205.9,843.3 L1207.4,841.7 L1209.9,840.5 L1210.6,841.3 L1212.6,841.6 L1215.4,841.5 L1217.2,841.7 L1218.2,843.3 L1220.2,845.2 L1223.0,845.6 L1224.3,846.8 L1225.0,848.8 L1226.1,850.8 L1228.9,852.0 L1232.0,852.4 L1234.1,854.0 L1235.6,855.5 L1235.6,857.1 L1234.3,859.1 L1233.0,861.9 L1232.8,864.3 L1232.2,867.0 L1231.3,868.2 L1229.6,868.5 L1227.3,870.2 L1227.1,872.2 L1226.1,874.2 L1224.8,876.5 L1223.7,877.7 L1222.1,878.1 L1222.8,879.7 L1219.8,880.9 L1220.0,882.5 L1218.3,882.5 L1219.3,883.6 L1218.9,885.6 L1218.1,886.8 L1219.4,887.9 L1218.4,890.2 L1219.2,891.4 L1221.1,893.3 L1219.2,893.5 L1216.1,891.7 L1214.1,889.5 L1213.6,886.4 L1213.5,884.4 L1212.5,881.7 L1211.9,879.3 L1212.3,875.4 L1211.8,872.2 L1211.8,868.2 L1211.6,864.7 L1210.3,863.5 L1207.3,861.1 L1205.3,857.5 L1203.4,854.8 L1203.5,852.0 L1204.0,850.8 L1204.0,849.2 L1204.9,848.7 L1205.9,846.8 L1205.9,844.8 Z" fill="none" stroke="#000" stroke-width="0.7" clip-path="url(#rc)"/></svg></body></html>
